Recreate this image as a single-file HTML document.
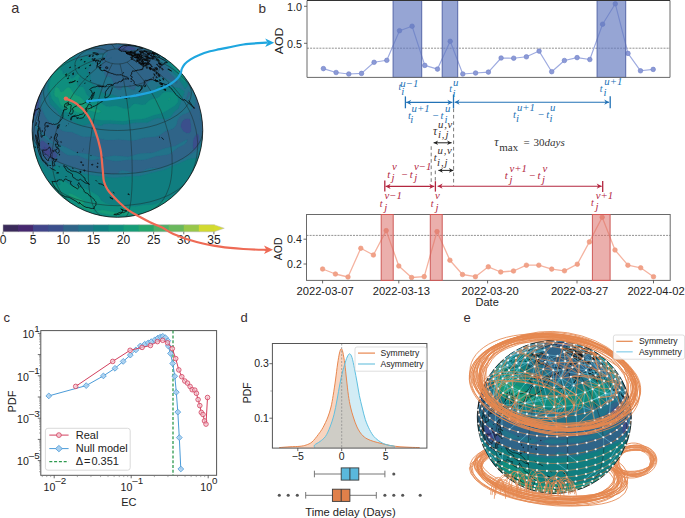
<!DOCTYPE html>
<html><head><meta charset="utf-8"><style>
html,body{margin:0;padding:0;background:#fff;width:685px;height:518px;overflow:hidden}
svg{position:absolute;left:0;top:0;display:block}

.sr{font-family:"Liberation Serif",serif;font-style:italic}
</style></head><body>
<svg width="685" height="518" viewBox="0 0 685 518">
<text x="258.5" y="13.2" font-size="13.5" fill="#3a2e2e" text-anchor="start" font-family="Liberation Sans, sans-serif" >b</text>
<line x1="307" y1="48.2" x2="670" y2="48.2" stroke="#555" stroke-width="0.65" stroke-dasharray="2,1.1"/>
<polyline points="323.4,68.6 336.1,72.5 348.8,74 361.5,73.4 374.1,62.3 386.8,60.3 399.5,30.7 412.1,26.2 424.8,65.4 437.5,69.1 450.2,41.3 462.8,74 475.6,73 488.4,72.1 501.1,58 513.7,58.2 526.4,56.8 539.1,51.1 551.7,71.7 564.4,60.5 577.1,57.6 589.8,59.5 602.6,24.2 615.3,3.8 628,53.4 640.5,70.8 653.2,69.4" fill="none" stroke="#9eabe0" stroke-width="1.15" stroke-linejoin="round"/>
<circle cx="323.4" cy="68.6" r="2.3" fill="#8c9ad6" stroke="#6f80c8" stroke-width="0.6"/>
<circle cx="336.1" cy="72.5" r="2.3" fill="#8c9ad6" stroke="#6f80c8" stroke-width="0.6"/>
<circle cx="348.8" cy="74" r="2.3" fill="#8c9ad6" stroke="#6f80c8" stroke-width="0.6"/>
<circle cx="361.5" cy="73.4" r="2.3" fill="#8c9ad6" stroke="#6f80c8" stroke-width="0.6"/>
<circle cx="374.1" cy="62.3" r="2.3" fill="#8c9ad6" stroke="#6f80c8" stroke-width="0.6"/>
<circle cx="386.8" cy="60.3" r="2.3" fill="#8c9ad6" stroke="#6f80c8" stroke-width="0.6"/>
<circle cx="399.5" cy="30.7" r="2.3" fill="#8c9ad6" stroke="#6f80c8" stroke-width="0.6"/>
<circle cx="412.1" cy="26.2" r="2.3" fill="#8c9ad6" stroke="#6f80c8" stroke-width="0.6"/>
<circle cx="424.8" cy="65.4" r="2.3" fill="#8c9ad6" stroke="#6f80c8" stroke-width="0.6"/>
<circle cx="437.5" cy="69.1" r="2.3" fill="#8c9ad6" stroke="#6f80c8" stroke-width="0.6"/>
<circle cx="450.2" cy="41.3" r="2.3" fill="#8c9ad6" stroke="#6f80c8" stroke-width="0.6"/>
<circle cx="462.8" cy="74" r="2.3" fill="#8c9ad6" stroke="#6f80c8" stroke-width="0.6"/>
<circle cx="475.6" cy="73" r="2.3" fill="#8c9ad6" stroke="#6f80c8" stroke-width="0.6"/>
<circle cx="488.4" cy="72.1" r="2.3" fill="#8c9ad6" stroke="#6f80c8" stroke-width="0.6"/>
<circle cx="501.1" cy="58" r="2.3" fill="#8c9ad6" stroke="#6f80c8" stroke-width="0.6"/>
<circle cx="513.7" cy="58.2" r="2.3" fill="#8c9ad6" stroke="#6f80c8" stroke-width="0.6"/>
<circle cx="526.4" cy="56.8" r="2.3" fill="#8c9ad6" stroke="#6f80c8" stroke-width="0.6"/>
<circle cx="539.1" cy="51.1" r="2.3" fill="#8c9ad6" stroke="#6f80c8" stroke-width="0.6"/>
<circle cx="551.7" cy="71.7" r="2.3" fill="#8c9ad6" stroke="#6f80c8" stroke-width="0.6"/>
<circle cx="564.4" cy="60.5" r="2.3" fill="#8c9ad6" stroke="#6f80c8" stroke-width="0.6"/>
<circle cx="577.1" cy="57.6" r="2.3" fill="#8c9ad6" stroke="#6f80c8" stroke-width="0.6"/>
<circle cx="589.8" cy="59.5" r="2.3" fill="#8c9ad6" stroke="#6f80c8" stroke-width="0.6"/>
<circle cx="602.6" cy="24.2" r="2.3" fill="#8c9ad6" stroke="#6f80c8" stroke-width="0.6"/>
<circle cx="615.3" cy="3.8" r="2.3" fill="#8c9ad6" stroke="#6f80c8" stroke-width="0.6"/>
<circle cx="628" cy="53.4" r="2.3" fill="#8c9ad6" stroke="#6f80c8" stroke-width="0.6"/>
<circle cx="640.5" cy="70.8" r="2.3" fill="#8c9ad6" stroke="#6f80c8" stroke-width="0.6"/>
<circle cx="653.2" cy="69.4" r="2.3" fill="#8c9ad6" stroke="#6f80c8" stroke-width="0.6"/>
<rect x="393.1" y="0.5" width="28.6" height="76.9" fill="rgb(97,120,190)" fill-opacity="0.667" stroke="#5566a8" stroke-width="1"/>
<rect x="442.2" y="0.5" width="15.5" height="76.9" fill="rgb(97,120,190)" fill-opacity="0.667" stroke="#5566a8" stroke-width="1"/>
<rect x="597.1" y="0.5" width="28.6" height="76.9" fill="rgb(97,120,190)" fill-opacity="0.667" stroke="#5566a8" stroke-width="1"/>
<path d="M307,77.4 V0.5 H670 V77.4 Z" fill="none" stroke="#6a6a6a" stroke-width="1"/>
<line x1="307" y1="0.5" x2="670" y2="0.5" stroke="#333" stroke-width="1.2"/>
<line x1="304" y1="6.3" x2="307" y2="6.3" stroke="#444" stroke-width="0.8"/>
<text x="302" y="10.7" font-size="10.8" fill="#222" text-anchor="end" font-family="Liberation Sans, sans-serif" >1.0</text>
<line x1="304" y1="43.3" x2="307" y2="43.3" stroke="#444" stroke-width="0.8"/>
<text x="302" y="47.7" font-size="10.8" fill="#222" text-anchor="end" font-family="Liberation Sans, sans-serif" >0.5</text>
<text transform="translate(283.1,40.85) rotate(-90)" font-size="10.3" fill="#222" text-anchor="middle" textLength="26.6" lengthAdjust="spacingAndGlyphs" font-family="Liberation Sans, sans-serif">AOD</text>
<line x1="306.5" y1="235.4" x2="670.2" y2="235.4" stroke="#555" stroke-width="0.65" stroke-dasharray="2,1.1"/>
<polyline points="322.6,269 335.4,274 348,277 360.8,248.3 373.4,255 386.2,230.6 398.8,266 411.6,277.5 424.2,276.6 437,231.6 449.9,260.2 462.5,274.5 475.4,276.7 488.3,266.8 500.7,272 513.5,271 526.4,265.2 538.8,265.2 551.7,269.1 564.5,270.8 577.3,264.2 589.4,241.9 602.2,217.2 615,250 627.9,265.2 640.7,267.8 653.5,276.7" fill="none" stroke="#f5b3a0" stroke-width="1.3" stroke-linejoin="round"/>
<circle cx="322.6" cy="269" r="2.3" fill="#f1a288" stroke="#ec957c" stroke-width="0.6"/>
<circle cx="335.4" cy="274" r="2.3" fill="#f1a288" stroke="#ec957c" stroke-width="0.6"/>
<circle cx="348" cy="277" r="2.3" fill="#f1a288" stroke="#ec957c" stroke-width="0.6"/>
<circle cx="360.8" cy="248.3" r="2.3" fill="#f1a288" stroke="#ec957c" stroke-width="0.6"/>
<circle cx="373.4" cy="255" r="2.3" fill="#f1a288" stroke="#ec957c" stroke-width="0.6"/>
<circle cx="386.2" cy="230.6" r="2.3" fill="#f1a288" stroke="#ec957c" stroke-width="0.6"/>
<circle cx="398.8" cy="266" r="2.3" fill="#f1a288" stroke="#ec957c" stroke-width="0.6"/>
<circle cx="411.6" cy="277.5" r="2.3" fill="#f1a288" stroke="#ec957c" stroke-width="0.6"/>
<circle cx="424.2" cy="276.6" r="2.3" fill="#f1a288" stroke="#ec957c" stroke-width="0.6"/>
<circle cx="437" cy="231.6" r="2.3" fill="#f1a288" stroke="#ec957c" stroke-width="0.6"/>
<circle cx="449.9" cy="260.2" r="2.3" fill="#f1a288" stroke="#ec957c" stroke-width="0.6"/>
<circle cx="462.5" cy="274.5" r="2.3" fill="#f1a288" stroke="#ec957c" stroke-width="0.6"/>
<circle cx="475.4" cy="276.7" r="2.3" fill="#f1a288" stroke="#ec957c" stroke-width="0.6"/>
<circle cx="488.3" cy="266.8" r="2.3" fill="#f1a288" stroke="#ec957c" stroke-width="0.6"/>
<circle cx="500.7" cy="272" r="2.3" fill="#f1a288" stroke="#ec957c" stroke-width="0.6"/>
<circle cx="513.5" cy="271" r="2.3" fill="#f1a288" stroke="#ec957c" stroke-width="0.6"/>
<circle cx="526.4" cy="265.2" r="2.3" fill="#f1a288" stroke="#ec957c" stroke-width="0.6"/>
<circle cx="538.8" cy="265.2" r="2.3" fill="#f1a288" stroke="#ec957c" stroke-width="0.6"/>
<circle cx="551.7" cy="269.1" r="2.3" fill="#f1a288" stroke="#ec957c" stroke-width="0.6"/>
<circle cx="564.5" cy="270.8" r="2.3" fill="#f1a288" stroke="#ec957c" stroke-width="0.6"/>
<circle cx="577.3" cy="264.2" r="2.3" fill="#f1a288" stroke="#ec957c" stroke-width="0.6"/>
<circle cx="589.4" cy="241.9" r="2.3" fill="#f1a288" stroke="#ec957c" stroke-width="0.6"/>
<circle cx="602.2" cy="217.2" r="2.3" fill="#f1a288" stroke="#ec957c" stroke-width="0.6"/>
<circle cx="615" cy="250" r="2.3" fill="#f1a288" stroke="#ec957c" stroke-width="0.6"/>
<circle cx="627.9" cy="265.2" r="2.3" fill="#f1a288" stroke="#ec957c" stroke-width="0.6"/>
<circle cx="640.7" cy="267.8" r="2.3" fill="#f1a288" stroke="#ec957c" stroke-width="0.6"/>
<circle cx="653.5" cy="276.7" r="2.3" fill="#f1a288" stroke="#ec957c" stroke-width="0.6"/>
<rect x="306.5" y="214.5" width="363.7" height="65.9" fill="none" stroke="#6a6a6a" stroke-width="1"/>
<rect x="381.2" y="214.5" width="12" height="65.9" fill="rgb(219,110,104)" fill-opacity="0.55" stroke="#cf5a58" stroke-width="1"/>
<rect x="430.3" y="214.5" width="11.9" height="65.9" fill="rgb(219,110,104)" fill-opacity="0.55" stroke="#cf5a58" stroke-width="1"/>
<rect x="592.4" y="214.5" width="17.7" height="65.9" fill="rgb(219,110,104)" fill-opacity="0.55" stroke="#cf5a58" stroke-width="1"/>
<line x1="303.5" y1="239.2" x2="306.5" y2="239.2" stroke="#444" stroke-width="0.8"/>
<text x="301.8" y="242.9" font-size="10.6" fill="#222" text-anchor="end" font-family="Liberation Sans, sans-serif" >0.4</text>
<line x1="303.5" y1="264" x2="306.5" y2="264" stroke="#444" stroke-width="0.8"/>
<text x="301.8" y="267.7" font-size="10.6" fill="#222" text-anchor="end" font-family="Liberation Sans, sans-serif" >0.2</text>
<text transform="translate(282.4,248.85) rotate(-90)" font-size="11.3" fill="#222" text-anchor="middle" textLength="22.6" lengthAdjust="spacingAndGlyphs" font-family="Liberation Sans, sans-serif">AOD</text>
<line x1="322.6" y1="280.4" x2="322.6" y2="283.4" stroke="#444" stroke-width="0.8"/>
<text x="325.1" y="295.2" font-size="11.2" fill="#222" text-anchor="middle" font-family="Liberation Sans, sans-serif" >2022-03-07</text>
<line x1="398.8" y1="280.4" x2="398.8" y2="283.4" stroke="#444" stroke-width="0.8"/>
<text x="401.3" y="295.2" font-size="11.2" fill="#222" text-anchor="middle" font-family="Liberation Sans, sans-serif" >2022-03-13</text>
<line x1="487.6" y1="280.4" x2="487.6" y2="283.4" stroke="#444" stroke-width="0.8"/>
<text x="490.1" y="295.2" font-size="11.2" fill="#222" text-anchor="middle" font-family="Liberation Sans, sans-serif" >2022-03-20</text>
<line x1="577" y1="280.4" x2="577" y2="283.4" stroke="#444" stroke-width="0.8"/>
<text x="579.5" y="295.2" font-size="11.2" fill="#222" text-anchor="middle" font-family="Liberation Sans, sans-serif" >2022-03-27</text>
<line x1="653.5" y1="280.4" x2="653.5" y2="283.4" stroke="#444" stroke-width="0.8"/>
<text x="656" y="295.2" font-size="11.2" fill="#222" text-anchor="middle" font-family="Liberation Sans, sans-serif" >2022-04-02</text>
<text x="487.2" y="305.8" font-size="11" fill="#222" text-anchor="middle" font-family="Liberation Sans, sans-serif" >Date</text>
<line x1="453.6" y1="108.5" x2="453.6" y2="186" stroke="#555" stroke-width="0.8" stroke-dasharray="3.6,2.8"/>
<line x1="431.2" y1="146.3" x2="431.2" y2="184" stroke="#555" stroke-width="0.8" stroke-dasharray="3.6,2.8"/>
<line x1="435.3" y1="170.6" x2="435.3" y2="181" stroke="#555" stroke-width="0.8" stroke-dasharray="3.6,2.8"/>
<line x1="406.2" y1="102.4" x2="452.4" y2="102.4" stroke="#2272b6" stroke-width="1.1"/>
<path d="M406.2,102.4 L411.2,99.8 L409.7,102.4 L411.2,105 Z" fill="#2272b6"/>
<path d="M452.4,102.4 L447.4,99.8 L448.9,102.4 L447.4,105 Z" fill="#2272b6"/>
<line x1="454.6" y1="102.2" x2="609.2" y2="102.2" stroke="#2272b6" stroke-width="1.1"/>
<path d="M454.6,102.2 L459.6,99.6 L458.1,102.2 L459.6,104.8 Z" fill="#2272b6"/>
<path d="M609.2,102.2 L604.2,99.6 L605.7,102.2 L604.2,104.8 Z" fill="#2272b6"/>
<line x1="405.4" y1="96.4" x2="405.4" y2="108.3" stroke="#2272b6" stroke-width="1.3"/>
<line x1="453.5" y1="94.5" x2="453.5" y2="108.3" stroke="#2272b6" stroke-width="1.3"/>
<line x1="610.2" y1="96.2" x2="610.2" y2="108.2" stroke="#2272b6" stroke-width="1.3"/>
<line x1="385.6" y1="186.4" x2="434.3" y2="186.4" stroke="#b3263f" stroke-width="1.1"/>
<path d="M385.6,186.4 L390.6,183.8 L389.1,186.4 L390.6,189 Z" fill="#b3263f"/>
<path d="M434.3,186.4 L429.3,183.8 L430.8,186.4 L429.3,189 Z" fill="#b3263f"/>
<line x1="437.6" y1="186.2" x2="601.7" y2="186.2" stroke="#b3263f" stroke-width="1.1"/>
<path d="M437.6,186.2 L442.6,183.6 L441.1,186.2 L442.6,188.8 Z" fill="#b3263f"/>
<path d="M601.7,186.2 L596.7,183.6 L598.2,186.2 L596.7,188.8 Z" fill="#b3263f"/>
<line x1="384.8" y1="180.5" x2="384.8" y2="191.6" stroke="#b3263f" stroke-width="1.3"/>
<line x1="435.4" y1="181.2" x2="435.4" y2="191.6" stroke="#b3263f" stroke-width="1.3"/>
<line x1="602.7" y1="181" x2="602.7" y2="192" stroke="#b3263f" stroke-width="1.3"/>
<line x1="433.6" y1="142.8" x2="451.6" y2="142.8" stroke="#222" stroke-width="1.0"/>
<path d="M433.6,142.8 L438.1,140.5 L436.75,142.8 L438.1,145.1 Z" fill="#222"/>
<path d="M451.6,142.8 L447.1,140.5 L448.45,142.8 L447.1,145.1 Z" fill="#222"/>
<line x1="438.4" y1="170.4" x2="453.4" y2="170.4" stroke="#222" stroke-width="1.0"/>
<path d="M438.4,170.4 L442.9,168.1 L441.55,170.4 L442.9,172.7 Z" fill="#222"/>
<path d="M453.4,170.4 L448.9,168.1 L450.25,170.4 L448.9,172.7 Z" fill="#222"/>
<text x="398.6" y="89.8" font-size="10" fill="#2272b6" text-anchor="start" font-family="Liberation Serif, serif" font-style="italic">t</text>
<text x="400.3" y="86.7" font-size="10.8" fill="#2272b6" text-anchor="start" font-family="Liberation Serif, serif" font-style="italic">u−1</text>
<text x="401.3" y="94.9" font-size="10.8" fill="#2272b6" text-anchor="start" font-family="Liberation Serif, serif" font-style="italic">i</text>
<text x="449.2" y="91.8" font-size="10" fill="#2272b6" text-anchor="start" font-family="Liberation Serif, serif" font-style="italic">t</text>
<text x="452.9" y="85.7" font-size="10.8" fill="#2272b6" text-anchor="start" font-family="Liberation Serif, serif" font-style="italic">u</text>
<text x="452.4" y="96.9" font-size="10.8" fill="#2272b6" text-anchor="start" font-family="Liberation Serif, serif" font-style="italic">i</text>
<text x="599.7" y="92.4" font-size="10" fill="#2272b6" text-anchor="start" font-family="Liberation Serif, serif" font-style="italic">t</text>
<text x="604.3" y="85" font-size="10.8" fill="#2272b6" text-anchor="start" font-family="Liberation Serif, serif" font-style="italic">u+1</text>
<text x="603.4" y="96.4" font-size="10.8" fill="#2272b6" text-anchor="start" font-family="Liberation Serif, serif" font-style="italic">i</text>
<text x="411.5" y="111.8" font-size="10.8" fill="#2272b6" text-anchor="start" font-family="Liberation Serif, serif" font-style="italic">u+1</text>
<text x="407.9" y="119.4" font-size="10.8" fill="#2272b6" text-anchor="start" font-family="Liberation Serif, serif" font-style="italic">t</text>
<text x="410.3" y="123.3" font-size="10.8" fill="#2272b6" text-anchor="start" font-family="Liberation Serif, serif" font-style="italic">i</text>
<text x="432" y="119.4" font-size="10.8" fill="#2272b6" text-anchor="start" font-family="Liberation Serif, serif" font-style="italic">−</text>
<text x="440.4" y="119.4" font-size="10.8" fill="#2272b6" text-anchor="start" font-family="Liberation Serif, serif" font-style="italic">t</text>
<text x="444.9" y="111.8" font-size="10.8" fill="#2272b6" text-anchor="start" font-family="Liberation Serif, serif" font-style="italic">u</text>
<text x="444.5" y="123.3" font-size="10.8" fill="#2272b6" text-anchor="start" font-family="Liberation Serif, serif" font-style="italic">i</text>
<text x="516.9" y="111" font-size="10.8" fill="#2272b6" text-anchor="start" font-family="Liberation Serif, serif" font-style="italic">u+1</text>
<text x="512.9" y="118.3" font-size="10.8" fill="#2272b6" text-anchor="start" font-family="Liberation Serif, serif" font-style="italic">t</text>
<text x="516.1" y="122.2" font-size="10.8" fill="#2272b6" text-anchor="start" font-family="Liberation Serif, serif" font-style="italic">i</text>
<text x="537.4" y="118.3" font-size="10.8" fill="#2272b6" text-anchor="start" font-family="Liberation Serif, serif" font-style="italic">−</text>
<text x="546.2" y="118.3" font-size="10.8" fill="#2272b6" text-anchor="start" font-family="Liberation Serif, serif" font-style="italic">t</text>
<text x="549.9" y="111" font-size="10.8" fill="#2272b6" text-anchor="start" font-family="Liberation Serif, serif" font-style="italic">u</text>
<text x="549.5" y="122.2" font-size="10.8" fill="#2272b6" text-anchor="start" font-family="Liberation Serif, serif" font-style="italic">i</text>
<text x="438.1" y="128.2" font-size="10.8" fill="#3a3030" text-anchor="start" font-family="Liberation Serif, serif" font-style="italic" letter-spacing="0.7">u,v</text>
<text x="433" y="135.3" font-size="11.5" fill="#3a3030" text-anchor="start" font-family="Liberation Serif, serif" font-style="italic">τ</text>
<text x="437.9" y="138.2" font-size="10.8" fill="#3a3030" text-anchor="start" font-family="Liberation Serif, serif" font-style="italic" letter-spacing="0.9">i,j</text>
<text x="437.6" y="154" font-size="10.8" fill="#3a3030" text-anchor="start" font-family="Liberation Serif, serif" font-style="italic" letter-spacing="0.7">u,v</text>
<text x="433.8" y="161.4" font-size="10.5" fill="#3a3030" text-anchor="start" font-family="Liberation Serif, serif" font-style="italic">t</text>
<text x="437" y="165.6" font-size="10.8" fill="#3a3030" text-anchor="start" font-family="Liberation Serif, serif" font-style="italic" letter-spacing="0.9">i,j</text>
<text x="494.3" y="146.3" font-size="12" fill="#333" text-anchor="start" font-family="Liberation Serif, serif" font-style="italic">τ</text>
<text x="499.3" y="150.5" font-size="11" fill="#333" font-family="Liberation Serif, serif">max</text>
<text x="523.6" y="146.3" font-size="11" fill="#333" font-family="Liberation Serif, serif">=</text>
<text x="533.6" y="146.3" font-size="11" fill="#333" font-family="Liberation Serif, serif">30<tspan font-style="italic">days</tspan></text>
<text x="387.3" y="178.2" font-size="10.8" fill="#b3263f" text-anchor="start" font-family="Liberation Serif, serif" font-style="italic">t</text>
<text x="392.1" y="169.6" font-size="10.8" fill="#b3263f" text-anchor="start" font-family="Liberation Serif, serif" font-style="italic">v</text>
<text x="391.6" y="181" font-size="10.8" fill="#b3263f" text-anchor="start" font-family="Liberation Serif, serif" font-style="italic">j</text>
<text x="400.9" y="178.2" font-size="10.8" fill="#b3263f" text-anchor="start" font-family="Liberation Serif, serif" font-style="italic">−</text>
<text x="409.8" y="178.2" font-size="10.8" fill="#b3263f" text-anchor="start" font-family="Liberation Serif, serif" font-style="italic">t</text>
<text x="414" y="169.6" font-size="10.8" fill="#b3263f" text-anchor="start" font-family="Liberation Serif, serif" font-style="italic">v−1</text>
<text x="414.2" y="181" font-size="10.8" fill="#b3263f" text-anchor="start" font-family="Liberation Serif, serif" font-style="italic">j</text>
<text x="504.8" y="178.6" font-size="10.8" fill="#b3263f" text-anchor="start" font-family="Liberation Serif, serif" font-style="italic">t</text>
<text x="509.5" y="171.8" font-size="10.8" fill="#b3263f" text-anchor="start" font-family="Liberation Serif, serif" font-style="italic">v+1</text>
<text x="509.6" y="183.4" font-size="10.8" fill="#b3263f" text-anchor="start" font-family="Liberation Serif, serif" font-style="italic">j</text>
<text x="528.8" y="178.6" font-size="10.8" fill="#b3263f" text-anchor="start" font-family="Liberation Serif, serif" font-style="italic">−</text>
<text x="537.6" y="178.6" font-size="10.8" fill="#b3263f" text-anchor="start" font-family="Liberation Serif, serif" font-style="italic">t</text>
<text x="542.4" y="171.8" font-size="10.8" fill="#b3263f" text-anchor="start" font-family="Liberation Serif, serif" font-style="italic">v</text>
<text x="541.9" y="183.4" font-size="10.8" fill="#b3263f" text-anchor="start" font-family="Liberation Serif, serif" font-style="italic">j</text>
<text x="384.4" y="199.2" font-size="10.8" fill="#b3263f" text-anchor="start" font-family="Liberation Serif, serif" font-style="italic">v−1</text>
<text x="379.7" y="206.9" font-size="10" fill="#b3263f" text-anchor="start" font-family="Liberation Serif, serif" font-style="italic">t</text>
<text x="384.3" y="210.8" font-size="10.8" fill="#b3263f" text-anchor="start" font-family="Liberation Serif, serif" font-style="italic">j</text>
<text x="435" y="199.2" font-size="10.8" fill="#b3263f" text-anchor="start" font-family="Liberation Serif, serif" font-style="italic">v</text>
<text x="430.8" y="206.9" font-size="10" fill="#b3263f" text-anchor="start" font-family="Liberation Serif, serif" font-style="italic">t</text>
<text x="435.4" y="210.8" font-size="10.8" fill="#b3263f" text-anchor="start" font-family="Liberation Serif, serif" font-style="italic">j</text>
<text x="595.8" y="199.1" font-size="10.8" fill="#b3263f" text-anchor="start" font-family="Liberation Serif, serif" font-style="italic">v+1</text>
<text x="591.1" y="206.4" font-size="10" fill="#b3263f" text-anchor="start" font-family="Liberation Serif, serif" font-style="italic">t</text>
<text x="595.5" y="210.4" font-size="10.8" fill="#b3263f" text-anchor="start" font-family="Liberation Serif, serif" font-style="italic">j</text>
<text x="11.3" y="13.2" font-size="14.5" fill="#3a2e2e" text-anchor="start" font-family="Liberation Sans, sans-serif" >a</text>
<defs><clipPath id="ga"><ellipse cx="117.45" cy="130.5" rx="85.3" ry="86.8"/></clipPath></defs>
<g clip-path="url(#ga)">
<ellipse cx="117.45" cy="130.5" rx="85.3" ry="86.8" fill="#22738a"/>
<path d="M124.8,47.6l1.4,.1-1.2,.9-.6,0 .4-1zM44.8,146.8l2.9,1.7 2.4,3.3-.2,2-1.2,1.5-1,.1-1.3-.6-1.6-1.5-.8-1.5-.3-3.9 .1-.7 1-.4z" fill="#41458a" fill-rule="evenodd" stroke="#41458a" stroke-width="0.3"/>
<path d="M123.8,45.5l4.5,.2 6.6,2 1.1,.9-1.5,1.3-12.7,1.6-.9-1.1-2-.9-.7-.9-.3-.9 .3-1 5.6-1.2zM124.7,47.7l-.3,.9 .4,.1 1.4-1-1.5,0zM38.9,98.1l.5,2.1-.7,7-3.7,10.2-1-1.3 .7-6.9 .6-1 .1-2 3.5-8.1zM185.2,118.9l2-.5 1.9,.1 .8,.6 .6,2 .6,3.9 .1,6-1.1,1.5-1.9,1-3-.8-1.9-1.2-2.7-4.5 .1-2 1-2.9 1.6-2.1 1.9-1.1zM33.1,119.2l0,5.8-.4-2.9 .4-2.9zM197.9,133.8l1,1.4 .5,1.7 .2,4-.6,3-2.1,3.6-1.9,1.8-1.2,.5-.8-.9-.5-3 .8-7 1.7-3 1.9-1.8 1-.3zM40.9,140.5l1-.3 1.9,.9 8.5,6.8 4.3,5.9 .9,2-.4,1-3.1,2-1.4,.2-4.9-.9-2.9-1.9-2.6-3.4-1.9-3.9-.5-6 1.1-2.4zM44.4,146.9l-.6,.3-.2,1.7 .2,2.2 .7,1.7 2.2,2.3 2,.2 1-1.1 .4-1.4-.5-2-2.9-3.1-2.3-.8z" fill="#3b4f8c" fill-rule="evenodd" stroke="#3b4f8c" stroke-width="0.3"/>
<path d="M62.3,41.7l9.2,0-4.3,.3-5.1-.3 .2,0zM88.7,41.7l5.2,0-3.3,.6-2.5-.6 .6,0zM104.3,41.7l8.6,0-.9,1-2.2,1 1.3,.2 4.9,.3 11.7-.3 5.2,1.8 5.5,.6 1,.7 2.5,.7 .4,.8 3.9,1.2 4.3,1.9 1.6,2 4.5,4-.1,1-.7,1 .5,1 9.4,6.1 4.7,6.7 5.7,6 1.2,2 .1,1-.9,.8-1,0-9.8-4.8-5.8-1.2-1,.2-2.9,2.4-6.7,1.6-2.2,3-1.5,1-1.3,.1-4.9-.5-2.1,.4-1.1,.9-1,3-.7,.7-1,.2-1.9-.5-5.9-3.4-1.9-.5-1,.5-1.9,3.5-2,.4-1.9-.9-2.1-2-2-2.9-.2-3-1.6-3.3-1-1-.9-.4-3,.5-.9-.8-1.2-3-.6-4.9-2.1-.2-.8-.8 .4-2 1.8-3-.5-.7-1.4-.3 .4-.9 2.8-2-.8-1 .6-1 2.5-1-2.4-1 3.7-1-3.4-.4-6.8,0-2.3-.6 2.3-1 1-1-1-.2-8.8,.9-1-.2-.1-.5 5.5-2 3.7-1.9 5.7-1 2.8-1 1.4,0-1.4-.1-1.2-1.9 .2-1zM123.2,45.7l-4.3,.7-1,.6 0,1.1 1,1.4 2,.9 .9,1.1 12.7-1.6 1.5-1.3-1.1-.9-6.6-2-2.6-.3-2.5,.3zM115,55.6zM104.7,57.6l.8,0-.8,0zM110.8,57.6l.4,0-.4,0zM108.5,58.6l.9,0-.9,0zM106.9,59.6l.5,0-.5,0zM110,60.6zM103.2,61.5zM108.8,61.5l.4,.5 .3-.5-.3-.2-.4,.2zM108,62.5l.2,.4 .3-.4-.5,0zM116,41.7l2.8,0-.9,.3-.9,1.3-1.2-.6-.4-1 .6,0zM125.7,41.7l6.5,0-3.5,1.1-2-.3-1.6-.8 .6,0zM140.4,41.7l64.4,0 0,1.1-13.7-.5-25.4,1.9-4.4-.5-4.3-1.4-2-.2-11.7,2.4-2-.3-.6-.5-.6-1 .3-1zM105.3,83.1l.3,.3-.6,0 .3-.3zM31.1,89.2l10.8,0 .3,1.1-.4,1 1-.1 .3,1.1-2.2,10.9 0,2 1,3.7 3.2,7.2 1.6,2.7 2,2.1 5.8,3.3 4.9,4.4 2.9,1.9 3,.9 6.8,.6 7.8,3.6 2.9,.9 10.8,.1 9.7,2.7 3.9,.6 11.7-.6 11.7,1.1 4.9-.5 8.8-2.3 11.7-1 3.8-1.6 5.7-4 6.1-1.9 1.9-.9 2.6-3.2 1.4-4.9 1.9-3.1 2.9-2.3 6.6-2.6 2.2-3.1 1.9-1.7 1.7-2.1 .7-3-.4-6.9-.4-1 .2-2 9.9-.3 .1,16.9-4,.1-.5,3.1 .2,8 .3,.8 1-6.1 3,0 0,16.3-2,0-1,6.7-3.2,10.1-2.2,2.9-2.4,1.7-10.7,6.5-10.7,4-2.9,1.7-4.9,2.2-6.9,1.6-5.8-.2-3.8,.4-2.8,1-3.3,2-3.4,1-7.1,0-6-1.8-3.9-.3-2.7,1.1-.5,2-5.5,.7-4.9-.1-12.7-2-5.8-.2-5.9-1-4.8-1.4-8.9-3.5-16.5-4.6-3-.2-1.9,1.6-1,.2-1-.2-1.9-1.5-2.1-2.7-2.8-7-5.8-10.9-1.1-3-.9-4.9-1.9,0 0-43.8 .9,0zM38.9,98.3l-3.5,7.9-.1,2-.6,1-.7,6.9 1,1.3 3.7-10.2 .7-7-.5-1.9zM184.7,119.1l-1.4,.9-1.6,2.1-1,2.9-.1,2 2.7,4.5 2.9,1.5 2,.5 .9-.3 1.6-1.2 .5-1-.2-6.9-.7-4-.4-1-.8-.6-1.9-.1-2.5,.7zM32.9,120.1l-.2,2 .4,2.9 0-5.8-.2,.9zM35.8,125l.3,3 .9,2.2 1,1.3 9.1,8.4 4.7,3 .8,.4 .6-.4-2.4-2-4.1-4.3-4.8-3.6-2-2.6-2.9-5.5-1-.5-.2,.6zM197.6,134l-.7,.1-1.9,1.8-1.7,3-.8,7 .5,3 .8,.9 1.2-.5 1.9-1.8 2-3.4 .6-2.2-.3-5.9-1.1-2-.5,0zM186.2,139.9l-10.7,6-10.7,2.7-10.8,4.1-3.9,.6-10.7,.5-8.8,2.6-2.9,.5-13.7-1.1-10.3,2 .6,.1 .6,.9 8.2,1.9 3.9,.4 11.7-1.7 12.6,.4 4.9-.6 9.8-3.1 11.7-1.7 2.9-1.1 6.8-5.5 7.4-3.9 1.4-1.6 1.1-2.4-1.1,0zM40.6,140.9l-.8,2 .5,6 1.9,3.9 2.6,3.4 2.9,1.9 4.9,.9 1.4-.2 3.1-2 .4-1-1.4-3-2.1-3-2.8-2.9-7.4-5.8-1.9-.9-1.3,.7zM53.3,143.9l1.2,.6 9.8,8.4 1.9,1.3 3,1.1 8.7,0 8.8,3.6 3.9,1.1 3-.2 3.9-1.1 5.6-.9-4.7-.6-9.7-2.9-10.8-1.2-3.9-1.5-10.7-5.4-9.7-2.9-.3,.6zM188.2,90.9l1.7,1.4 .6,1 0,1-2.1,3-1.2,2.8-1.2-.9 .1-1.9 .7-1 1.4-5.4z" fill="#2f6488" fill-rule="evenodd" stroke="#2f6488" stroke-width="0.3"/>
<path d="M31.1,41.7l31,0 5.1,.3 4.3-.3 16.6,0 2.5,.6 3.3-.6 10.3,0-.1,1 1.2,1.9 1.4,.1-1.4,0-2.8,1-5.7,1-3.7,1.9-5.5,2 .1,.5 1,.2 8.8-.9 1,.2-1,1-2.3,1 2.3,.6 6.8,0 3.4,.4-3.7,1 2.4,1-2.5,1-.6,1 .8,1-2.8,2-.4,.9 1.4,.3 .5,.7-1.8,3-.4,2 .8,.8 2.1,.2 .6,4.9 1.2,3 .9,.8 3-.5 .9,.4 2,2.7 .8,2.6 0,2 2,2.9 2.1,2 2.9,.9 1.5-.9 1.4-3 1-.5 1.9,.5 5.9,3.4 1.9,.5 1-.2 .7-.7 1-3 1.1-.9 2.1-.4 4.9,.5 1.3-.1 1.5-1 2.2-3 6.7-1.6 2.9-2.4 1-.2 5.8,1.2 9.8,4.8 1,0 .9-.8-.1-1-1.2-2-6.5-6.9-3.9-5.8-9.4-6.1-.5-1 .7-1 .1-1-4.5-4-1.6-2-4.3-1.9-3.9-1.2-.4-.8-2.5-.7-1-.7-5.5-.6-5.2-1.8-11.7,.3-6.2-.5 2.2-1 .9-1 2.5,0 .4,1 1.2,.6 .9-1.3 .9-.3 6.3,0 1.6,.8 2,.3 3.5-1.1 8,0-.1,1 .6,1 .6,.5 2,.3 11.7-2.4 2,.2 4.3,1.4 4.4,.5 25.4-1.9 13.7,.5 0,9.3-15.7,0-13.6-2.4-17.6,1.6-1.9-.3-4.9-1.5-1.9-.3-.2,.4 1.1,.1 1,1.1 1,0 1,1 .9,0 2,1.2 8.9,6.6 .9,1 1.3,2.9 3.8,5 2.2,4 5.3,5.9 6.8,10.3 2-2.8 .5-1.5-.8-3-2.7-5 .1-1 20.5-1-.1,17.6-9.7,.2-.4,2.1 .4,1 .4,4.9-.3,4-1.1,2-2.9,2.8-1.2,2.2-1.7,1.3-5.9,2.2-2.9,2.3-1.9,3.1-1.4,4.9-2.6,3.2-1.9,.9-6.1,1.9-5.7,4-3.8,1.6-11.7,1-8.7,2.3-3,.5-3.9-.1-9.8-1-11.7,.6-3.9-.6-9.7-2.7-10.8-.1-2.9-.9-7.8-3.6-7.8-.8-2.9-1.2-6.9-5.8-5.8-3.3-2.9-3.6-3.9-8.4-1-3.9 .2-2.8 1.9-8.9-.1-2-1.1,0 .4-1-.3-1.1-11.7,0 0-12.9 20.4-1.8 .1,1.9-1.5,2-1.1,3-.6,7.9 2.4,12.9 .7,2.2 1,1.2 3.9,3.1 4.7,6.4 2.1,2 2,1 6.8,2 6.8,4 3.9,1.4 3.9-.4 4-1.9 1.9-.5 2.1,.4 4.7,2 2,.4 1.9-.6 1.2-.8 4.7-.6 4.9,0 10.7,.9 11.7-1.8 10.7,0 2.1-.5 3.2-2 5.5-2 2.9-.1 5.8,.8 3-.6 1.9-1.3 3.3-4.8 4.4-3.9 5.4-13.9 .6-3.1-4.9-3-4.9-.6-5.8-1.4-6.9-.2-2.9,.3-1.9,1-1.7,4-.8,1-1.4,.9-6.9,1.3-4.9,2.3-1.9,.6-9.8-.7-7.8,1.2-2.9-.6-6.8-2.5-6.8-.5-3.3-2-4.5-5.4-4.9-2.7-1.7-2.8-.6-2-.3-5-2.3-1.7-.3-1.2 .7-2 1.1-2 3.7-4-.3-.6-2.9,.4-.8-.8 3.1-2.9-.4-.5-4-.5-.2-1 .6-1-1.3-.3-1.9,.3-7.8,3.5-3,.1-.9-.6 2.1-2-.2-.4-1-.2-.1-.4 1.1-1.1 1-.1 1-1.1 .9-.2 3-2.2 .9,0 .3-.3-.3-.9-4.8-.3-11.7,1.3-6-.1-6.6-1-7.6-2-1.7-.9-2.5-.6-4.7-.4-6,0 0-5 .9,0zM75.9,56.6zM105,83.4l.6,0-.6,0zM188.1,91.3l-2.1,7 .2,1.4 1,.4 1.2-2.8 2.1-3 0-1-.6-1-1.7-1.4-.1,.4zM115,55.6zM105.3,57.5l.2,.1-.8,0 .6-.1zM111.1,57.4l0,.3-.3-.1 .3-.2zM109.2,58.4l.2,.2-.2,.2-.7-.2 .7-.2zM107.2,59.5l.2,.1-.5,0 .3-.1zM110.1,60.5zM103.3,61.5zM109.2,61.3l.3,.2-.3,.5-.4-.5 .4-.2zM108.2,62.3l.3,.2-.3,.4 0-.6zM51.6,74.4l-.6,0 .6,0zM200.8,109l4-.1 0,5.9-3,0-1,6.1-.3-.8-.2-8 .5-3.1zM36,124.4l1,.5 2.9,5.5 2,2.6 4.8,3.6 4.1,4.3 2.4,2-.6,.4-.8-.4-4.7-3-9.1-8.4-1-1.3-1-2.4-.4-1.8 .4-1.6zM202.8,131.1l2,0 0,6.3-2,0-.3,2.5-.7,1.2-2.9,12.1-1,3.2-1,1.7-5.8,.7-3.9,1-22.4,10-13.7,3.1-10.7,3.2-14.7,.6-10.7,1.3-25.3-3-4.9-.9-26.4-8.6-1.9-.2-2.9,3.4-1.9,1-1.1,.1-1.9-.5-4.2-3.6-5.4-6.9-3.1-7-3.9-13.5-1.9,.1 0-5.4 1.9,0 .9,4.9 1.1,3 5.8,10.9 2,5.4 1.9,3.2 2.9,2.6 2,0 1.9-1.6 3,.2 16.5,4.6 8.9,3.5 5.8,1.7 4.9,.7 5.8,.2 11.7,1.9 5.9,.2 5.5-.7 .5-2 2.7-1.1 3.9,.3 6,1.8 5.7,.2 4.8-1.2 3.3-2 2.8-1 3.8-.4 5.8,.2 3.9-.7 5.8-2.1 5-2.7 9.7-3.5 11.7-7 3.3-2.7 1.3-1.9 2.2-6.4 1.2-4.6 .8-5.8zM186.2,139.9l1.1,0-1.1,2.4-1.4,1.6-7.4,3.9-6.8,5.5-2.9,1.1-11.7,1.7-9.8,3.1-4.9,.6-12.6-.4-11.7,1.7-3.9-.4-8.2-1.9-.6-.9-.6-.1 10.3-2 13.7,1.1 2.9-.5 8.8-2.6 10.7-.5 3.9-.6 10.8-4.1 10.7-2.7 10.7-6zM53.6,143.3l10.7,3.3 9.7,5 3.9,1.5 10.8,1.2 9.7,2.9 4.7,.6-5.6,.9-3.9,1.1-3,.2-3.9-1.1-8.8-3.6-8.7,0-3-1.1-3.4-2.4-8.3-7.3-1.2-.6 .3-.6z" fill="#22738a" fill-rule="evenodd" stroke="#22738a" stroke-width="0.3"/>
<path d="M32.1,46.7l8.8,.4 2.5,.6 1.7,.9 7.6,2 6.6,1 6,.1 11.7-1.3 4.8,.3 .3,.9-.3,.3-.9,0-3,2.2-.9,.2-1,1.1-1,.1-1.1,1.1 .1,.4 1,.2 .2,.4-2.1,2 .9,.6 3-.1 7.8-3.5 1.9-.3 1.3,.3-.6,1 .2,1 4,.5 .4,.5-3.1,2.9 .8,.8 2.9-.4 .3,.6-3.7,4-1.1,2-.7,2 .3,1.2 2.3,1.7 .3,5 .6,2 1.7,2.8 4.9,2.7 4.5,5.4 3.3,2 6.8,.5 6.8,2.5 2.9,.6 7.8-1.2 9.8,.7 1.9-.6 4.9-2.3 5.9-1 1.9-.8 1.3-1.4 1.6-4 1-.7 2-.5 4.9-.2 3.9,.3 5.8,1.4 4.9,.6 4.9,3-.6,3.1-5.4,13.9-4.4,3.9-3.3,4.8-2.9,1.6-2.9,.2-6.9-.8-4.1,1.2-6.6,3.3-11.7,.2-11.7,1.8-14.6-1-5.7,.7-1.2,.8-1.9,.6-2-.4-4.7-2-2.1-.4-1.9,.5-4.9,2.1-3.9,0-3-1.2-6.8-4-6.8-2-2-1-2.1-2-4.7-6.4-3.9-3.1-1-1.2-.7-2.2-2.4-12.9 .6-7.9 1.1-3 1.5-2-.1-1.9-20.4,1.8 0-5.1 24.3-.6 .4,.9-3.4,4.9-2.1,9 .3,4.9 1.3,6 1.2,2.9 1.4,2 6.6,7 3.1,2.6 13.7,5.7 3.9,1.1 8.8,.6 10.7,2 9.7,0 10.8,.9 22.4-2.2 2.9-.8 7.8-3.2 8.8-2 10.7-6.4 2.9-2.3 1.3-2 .5-2-.8-2.9-1.9-4.2-5.9-1-3.9-.1-2.9,.9-2.9,3.4-2,1.4-6.1,1.5-2.3,1-4.3,4.2-2.9,.5-5.8-1-3,.2-.9,.6-3,3.3-1.9,.8-3.9-.4-7.8-2.7-6.8,1-3-.5-2.9-1.6-6.8-5-4.9-1.2-2.4-1.1-2.6-3-2.8-6.3-1-.9-2.9-.2-2-1-.7-1.5-.1-2 2.2-5 .6-2 0-1.3-1-.6-1,.4-3.9,3.5-1.9,1.1-1-.3-.7-.8-.3-4-.9-.7-2-.1-3.9,1.1-1-.2 .5-2-.5-.9-1.9-.6 .4-1.5 5.5-7 3.8-3.7 1-.1 1-1.3-6.8,1.1-4.9,.3-18.5-1.4-11.7-.2 0-9.5 1.9,0zM51,74.4l.6,0-.6,0zM149.2,49.2l8.7,2.1 17.6-1.6 13.6,2.4 15.7,0 0,4.8-23.5,1.4-14.6-1.1-2.9,0-.1,.4 1.1,.1 5,4.8 2.8,4.2 5.2,5.8 2.6,4.9 4.8,5.3 0-2.3-1.8-4-2.5-3.9 .4-.9 23.5-.6 0,3.4-20.5,1-.1,1 2.7,5 .8,3-.5,1.5-2,2.8-6.8-10.3-5.3-5.9-2.2-4-3.8-5-1.3-2.9-.9-1-8.9-6.6-2-1.2-.9,0-1-1-1,0-1-1.1-1.1-.1 .2-.4zM76,56.6zM202.8,137.4l2,0 0,56.6-11.8-1-14.6-2-4.9,4.6-3.9,2.6-5.8,2.1-7.8,3.7-2.9,.7-8.8,.3-7.8,1.5-4.9,.2-13.7-1.8-7.8-.3-4.2-1.2-4.8-3-2.4-3.9-1-1-8.3-5-7.6-3.3-7.8-1.1-2.9-.9-7.9-4.6-2.8-1.1-.7,.1-.3,.7 .8,3.3 0,1-.8,.6-2.9-.8-4.9-3.4-1-.6-.3,.2 .2,1 1.1,1.8 4,5.1 .3,1-.4,.2-4.5-4.1-.4-1.1-8.7-.5-11.7,.5 0-46.1 1.9-.1 3.9,13.5 3.1,7 5.4,6.9 4.2,3.6 1.9,.5 1.1-.1 1.9-1 2.9-3.4 1.9,.2 26.4,8.6 4.9,.9 24.3,3 11.7-1.3 14.7-.6 10.7-3.2 13.7-3.1 22.4-10 3.9-1 5.8-.7 1-1.7 1-3.2 2.9-12.1 .7-1.2 .3-2.5z" fill="#107e80" fill-rule="evenodd" stroke="#107e80" stroke-width="0.3"/>
<path d="M31.1,56.2l11.7,.3 17.6,1.3 4.9-.3 6.8-1.1-1,1.3-1,.1-3.8,3.7-5.5,7-.4,1.5 1.9,.6 .5,.9-.5,2 1,.2 3.9-1.1 2,.1 .9,.7 .3,4 .7,.8 1,.3 1.9-1.1 3.9-3.5 1-.4 1,.6 0,1.3-.6,2-2.2,5 .1,2 .7,1.5 2,1 2.9,.2 1,.9 2.8,6.3 2.6,3 2.4,1.1 4.9,1.2 6.8,5 2.9,1.6 3,.5 6.8-1 7.8,2.7 3.9,.4 1.9-.8 3-3.3 .9-.6 3-.2 5.8,1 2.9-.5 4.3-4.2 2.3-1 6.1-1.5 2-1.4 2.9-3.4 2.9-.9 3.9,.1 5.9,1 1.6,3.2 1.1,3.9-.1,1-1,2-1.7,2-11,6.9-3.5,1.4-6.9,1.4-7.8,3.2-3.9,.9-8.8,.6-8.7,1.3-3.9,.2-10.8-.9-9.7,0-10.7-2-7.9-.4-2.9-.6-15.6-6.4-2.9-2.4-6.8-7.2-1.4-2-1.2-2.9-1.5-7-.2-3 .4-3.2 1.1-4.7 .7-2 3.4-4.9-.4-.9-24.3,.6 0-15 .9,0zM55.5,87.3l-1.3,5 .3,3.3 1,1.1 2,.7 .9,.8 1.9,6 4,3.6 3.9,1.5 3.9,0 4.9,2.9 1.9,.6 2-.1 4.8-1.6 3-.6 1.9,.2 6.9,2 1.9-.2 1-.4 .4-.9-3.3-2-6.9-1.7-1.9-1.1-7.8-9-2-1.1-2.9-1-2-1.4-3.9-6-.9-.5-2,.2-1.1,.7-2.8,3-1.9,.8-1-.7-2-3.6-.9-.5-2,0zM169,98.3l-1,.9 .7,.6 1.1-.6 .5-.9-.7-.3-.6,.3zM163.8,57.2l17.5,1.1 23.5-1.4 0,14.1-23.5,.6-.4,.9 2.5,3.9 1.8,4 0,2.3-4.8-5.3-2.6-4.9-5.2-5.8-2.8-4.2-5-4.8-1.1-.1 .1-.4zM60.4,179.5l2.8,1.1 7.9,4.6 2.9,.9 7.8,1.1 7.6,3.3 8.3,5 1,1 2.4,3.9 4.8,3 4.2,1.2 7.8,.3 11.7,1.7 5.9,0 8.8-1.6 7.8-.2 3.9-.8 7.8-3.7 5.8-2.1 3.9-2.6 4.9-4.6 14.6,2 11.8,1 0,25.3-174.6,0 0-34.8 11.7-.5 8.7,.5 .4,1.1 4.5,4.1 .4-.2-.3-1-4-5.1-1.1-1.8-.2-1 .3-.2 1,.6 4.9,3.4 2.9,.8 .8-.6 0-1-.8-3.3 .3-.7 .7-.1zM68.5,193.5l0,1 .8,1 8.1,6.9 2.1,3 1.3,1 7.8,4 3,1 2.8,0-.9-1-8-4-2.5-2 .3-1 1.1-1-.1-1-.7-1-10.6-5.9-2.9-1.1-1.6,.1zM99.7,210.4l-3.1,1 5.1,1.9 8.4,1.7 17.6-.2 3.3-.5 .7-1-6.9-1.6-8.8,.8-12.7-2.4-3.6,.3z" fill="#0f8e7e" fill-rule="evenodd" stroke="#0f8e7e" stroke-width="0.3"/>
<path d="M55.5,87.3l2,0 .9,.5 2,3.6 1,.7 1.9-.8 2.8-3 1.1-.7 2-.2 .9,.5 3.9,6 2,1.4 2.9,1 2,1.1 7.8,9 1.9,1.1 6.9,1.7 3.3,2-.4,.9-1,.4-1.9,.2-6.9-2-1.9-.2-3,.6-4.8,1.6-2,.1-1.9-.6-4.9-2.9-3.9,0-3.9-1.5-4-3.6-1.9-6-.9-.8-2-.7-1-1.1-.3-3.3 1.3-5zM169.6,98l.7,.3-.5,.9-1.1,.6-.7-.6 1.6-1.2zM69.2,193.3l3.9,1.2 10.5,5.9 .7,1 .1,1-1.1,1-.3,1 2.5,2 8,4 .9,1-2.8,0-3-1-7.8-4-1.3-1-2.1-3-8.1-6.9-.8-1 0-1 .7-.2zM100.4,210.2l2.9-.1 12.7,2.4 8.8-.8 6.9,1.6-.7,1-3.3,.5-16.6,.3-9.4-1.8-5.1-1.9 3.8-1.2z" fill="#169c77" fill-rule="evenodd" stroke="#169c77" stroke-width="0.3"/>
<path d="M114.9,49l-3.5,.6-3.1,.9-2.2,1.1-2,1.6-1.1,1.7-.4,1.8 .5,1.6 1.3,1.7 2.4,1.7 3.7,1.4 4.4,.8 4.1,.1 4-.5 4-1.3 2.7-1.5 2-2.2 .6-1.8-.5-2.1-1.3-1.7-2-1.5-2.8-1.2-3.2-.8-3.5-.4-4.1,0M110,44l-4.3,.5-5.6,1.1-4,1-4.9,1.7-4.4,2-3,1.7-2.5,1.9-2.2,2-1.7,2.1-1.3,2.2-.9,2.2-.4,3 .4,3 .9,2.2 1.8,2.9 1.9,2.1 3.1,2.6 3.9,2.3 4.4,2 6.2,2.1 5.5,1.2 5.7,.8 5.9,.4 5.9,0 5.9-.4 5.7-.8 5.5-1.2 5-1.6 4.6-2 4-2.2 3.3-2.5 2.6-2.8 1.8-2.9 .9-2.2 .4-3-.2-2.3-1.1-2.9-1.3-2.2-1.7-2.1-3-2.6-2.7-1.8-4.1-2.2-7.2-2.7-4-1-5.6-1.1-4.3-.5-6-.3M116,43.7l-6,.3M47.2,81.3l-2,3.8-1.2,3.9-.4,2.6 0,2.6 .7,3.9 1.5,3.9 1.4,2.5 1.8,2.5 4.5,4.7 4.2,3.3 4.9,3.1 5.4,2.7 6,2.5 8.8,2.8 9.4,2.1 7.4,1.2 10.1,.9 7.8,.2 7.7-.2 7.6-.6 9.9-1.5 7.1-1.5 6.8-1.9 8.3-3.1 5.7-2.7 6.6-4 5.5-4.4 3.2-3.6 1.8-2.5 1.4-2.5 1.5-3.9 .7-3.9 0-2.6-.4-2.6-1.2-3.9-2-3.8M32.2,132l.4,3 1.4,4.5 2.3,4.4 3.2,4.3 4.1,4 4.8,3.8 5.7,3.5 6.3,3.3 6.9,2.8 4.9,1.7 7.9,2.2 8.2,1.8 8.5,1.3 5.8,.6 8.9,.6 8.9,.1 6-.2 8.8-.7 8.6-1.2 8.3-1.7 8-2 7.5-2.5 6.9-2.8 4.3-2.2 4-2.2 5.4-3.6 4.6-3.9 3.7-4.1 2.9-4.3 1.5-3 1.4-4.5 .5-4.5M48,180.9l4.2,4.8 4,3.4 3,2.1 5.1,3 3.7,1.8 8.1,3.2 9,2.7 12,2.3 10.1,1.1 10.3,.4 10.2-.4 12.6-1.5 9.5-1.9 9-2.7 8.1-3.2 3.7-1.8 5.1-3 3-2.1 4-3.4 4.2-4.8M110,44l1,.2 1.4,1 1.5,2 1,1.8M85.2,50.1l3.2-1 3.3-.6 5.2-.2 5.4,.8 5.6,1.6M49.5,78.1l4.8-5.6 5.5-4.9 6.1-4.2 6.7-3.5 7.2-2.7 7.6-2 8-1.1 8.1-.2M36.7,158.5l-2-7.5-1-7.7-.2-7.9 .8-7.9 1.6-7.9 2.6-7.7 3.4-7.6 4.3-7.2 5.1-6.9 5.7-6.5 6.5-5.9 7-5.4 7.5-4.7 8-4.1 8.3-3.3 8.6-2.5M73.7,205l-3.3-2.2-3-2.6-2.8-2.9-2.6-3.3-2.2-3.6-2-3.8-1.8-4.2-1.4-4.4-1.1-4.6-.8-4.8-.4-5-.2-5.2 .2-5.3 .4-5.4 1.9-11.1 3.2-11.2 4.2-11.1 5.4-10.7 6.3-10.3 7.2-9.5 7.9-8.6 8.5-7.6 4.3-3.3 4.5-3M102,215.9l-1.7-.6-1.6-1-2.2-2.2-1.4-2-1.3-2.4-1.6-4.3-1.8-6.9-1.3-8.2-.7-9.4-.1-10.3 .6-13.8 1.1-11.7 2.2-14.9 2.3-11.8 2.7-11.6 3.1-11.1 4.4-12.9 3.7-9.2 4-8M125.3,216.9l1.3-.9 .8-1 1.4-3.4 1.2-5 1-6.5 .8-9.9 .4-9.3 0-13-.3-11.2-1.4-23.8-1.1-12-1.7-14.8-1.5-11.3-2.3-13.1-1.9-9.5-2-8.3M151.2,210.2l2.9-1.6 2.8-2 2.6-2.3 2.3-2.7 2.1-3.1 2-3.4 1.6-3.7 1.5-3.9 1.2-4.3 .9-4.6 .6-4.7 .5-7.6-.2-10.6-1.3-11.1-2.4-11.4-3.4-11.5-4.2-11.3-5.2-10.9-5.8-10.3-6.5-9.5-5.2-6.4-3.6-4-7.4-7.1M186.9,180.9l3.8-6.3 2.1-4.4 1.7-4.7 1.4-4.9 .9-4.9 .8-7.7 0-5.3-.4-5.3-1.3-8-2.2-8-1.9-5.3-2.3-5.2-4.1-7.6-3.1-5-3.4-4.7-5.8-6.9-6.3-6.3-4.5-3.9-4.8-3.7-7.4-4.9-7.9-4.3-5.4-2.4-5.4-2.2M197.3,100.1l-2-4.7-2.3-4.6-2.8-4.4-3.1-4.2-3.5-3.9-3.7-3.7-6.2-5-4.5-3-4.8-2.6-4.9-2.4-5.2-2-5.4-1.6-5.5-1.3-5.6-1-5.8-.5M159.5,55l-5.5-2.4-3.9-1.1-4-.8-4.2-.3-4.3,0-4.3,.4-4.5,.8M132,45l-2.7,.2-1.9,.7-1.9,1.1-3,2.4" fill="none" stroke="#1a2a2a" stroke-width="0.55" opacity="0.9"/>
<path d="M41.9,136.2l1-.8 1.6,.1-.1-3.6 .7-1 0-1.5-.4-1.2 .6-1.4-.4-1.6 .1-1.2 .5-1.2 1.6-.2 .4,.4 1.2,.1 1.3,.8 .7-.3 1.8,.9 1.2-.5 .7,.5 .7-.3 .9,.1 1.6-.9 .9-.9 1.4-.9 1.6-2.7 1.1-.8 .3-1.5 0-1.8 .2-2.2 .4-.9 0-1.7 2.7-.5 1-.8-.8-1.4-.8-.3-1.1,.1 0-1.8 .6-1.4 2.7-1.3 .9,.3-.9,2.6 1.1-1.1 1.9,.2 .5,1.1-.5,1.5 .1,2.5-.7,2.3-1,1.1 .8,1.2 .9-.5 1.1,.3 .8-1.5 .5-1.8-.6-.9 0-1.8 1.9-1.3 2.2-.9 .8-1.4 3.9-.3 1.5-.4 1.5-.8 3.6-2.2 .5-1.4 .9-.2 .3-.8 .9-1.1 1.3-2.7 1-1.2-.8-.2-.8-2.6-.9-.2-.8-1 .9-.4 .5-.8 2.9-1.2 1.1,.1 2.4-1.1 .8,.5 1.7,.3 .3-.6 1.2,.5 1.8-.4 .2,.4 .6,0 .2,.3 1.6-.3 .7-1.4 1-.8 .8,.5 .2-.6 1.8,0 .4-.3 .3,.5 .8-.3 .9,1.4 .6-1 .3-.9 2.4-1 .4,.4 .3-.3 .7,.1 .8-.4 .3-.8 1-.4 .5,.5 .5-.2 1.9-1.2 .4-1 .5-.5 .7-.2 .5,.5 .4-.7 1.2,.6 .2-.3 .8,.1 .1-.4 .9,.5 0-.2 .8,.2-.7-.5-.6-1.2-.5-.5-.3,.4-.9-.8-.4,.3-.8,0-.4-.9-.5,.2-2.4-1.3-.3,.3-1.2-.5-.2,.4-.9-.3-.4,.2-2-.1-.2,.3-.5-.2-.4-.5-.4,.2-.3-.3-.5,.3-.6-.3-.2-.5-.4,.1-.8-.5-1.2,0-.6-.4-.6,0-.3-.5-.2,.2-.6-.5-.4,.5-.4-.2-.2-.8-.6,.3-.3-.6 .1-.3-.6,.3-.4-.3 .1-.6-.8,.4-.1-.5-.4,.1-.1-.4-.5-.1-1.1,.6-.1-.3-.6,.5-.4-.3 .1-.3-1.1,.2-.4-.5-.1-.7-.4,.1 .9-1.9-.7,.2 .2-.4-.5,.3 0-.4-.9,.2-.2-.5-.7,0-.2-.5-.5,0-.2-.1 .3-.8-.4-.3 1.6-1.3 1.2-.7 .3-.3-.5,0 .7-.6-.2-.4 .4-.2-.3-.1 .4-.4-1.6,0-.2-.2-.5,.1 .4-.4-2.3,0 .4-.3-1.1,.2-.9-.1 .2-.2-1.1-.1 .2-.2-.7,0-.3-.1 0-.5-.9-.1 .4-.4-.9,0M112.2,87.6l-.1,1.5-.3,.3-1.7,4.8-.5,.8-1.9,2.1-1.4,.4-1.2,.7-.2-1.7 .5-1.2 0-3.1 1.4-2.4 .9-.6 .6-1.3 2.2-2.1 2.3-.8M89.6,103l.4-1.5 1.1-1.1 .7-1.6 1-1 .1-1 .9-1.7 .2-1.6 .5-1.1-.2-.5-.4,1.3-1.3,1.6-1.2,4.2-1.8,4M71,120.2l-.3-1.8 .4-1.1 1.8-.9 2.6,.1 1.1,.5 .6,.6 0,1.2 .4-.7 1.4-.2 .5,.5 2.5-.4 1.3-.4 3.2-5.3 .4-1.5 0-1.3-1.1,.2-.8,.6-.7,2.1-2,1.8-3.2,.6-.7,1.1-.4-.6-1.7,.5-.6-.7-3.6,1.6-.3,1.6-.8,.6 0,1.3M85.5,108.8l1-.1 .9-.9 .7,1 .9,.2 1-1 1.5,.1 .4-1.7-1-1.6-.7,.1-.9-1-1.3,1.3-.4,1.5-1.3,.8-.8,1.3M57.6,128.6l.5-.3 .8-1.4 .2-1.2 .6-1.1-1.2,.4-1.1,1.9 .2,1.7M56.2,133.5l-2,4.4 .5,1.5 .8,1.3 1.7,1.7 .4,1.3 .3-2.1-.5-.6-1.5-2.9 1.2-1.6 .4-2.2-1.3-.8M58.5,148.2l.8,3-.7,1.8-1.1,.2-1.2-1-.7-1.5-1.1-.5 2-.4 .2-.7 1.8-.9M55.3,144l1.1,3.6 1.2-.1 1.3-2.8-.5,.2-2.5-.9-.6,0M49.7,147.1l1.1,2.8 .1,1.6 .4,1.4-.8,1.8 .5,1.7-.6,.3-1.9,2.4 .1,1.5-1.3-.3-1.3-1.4-1.1-1.8-1.2-1-.6-1.9-.5-3.4 .3-1.2 1,.8 1.1-.4 1,.2 1.1-.6 1.2-1.2 .4-.8 1-.5M57.2,159.2l-2.1,.2-1.9-.8-.6-.6 .8,1.5 .2,1.1-1,.7 .1,3.4 .2,1.1 1.4,.2 .7-.8-.7-1.3-.2-1.8 .4-.8 1.1,.4 .5-2.1 1.1-.4M35.6,134.7l.1,2.6 .5,2.6 .5,1.1-.1,.7 .8,4.1 0,1.2 2.3,7.8 1.4,2.2-.1-1.4-.5-2.7-.6-1.8-1.2-5.4-1.4-4.3 0-1.5-.6-1.2-.1-1.4-1-2.6M41.1,157.1l2.3,3.4 .8,.2 .7,1 .6,.4 .6,1.1 1,.3 .6,.9 .3,1.8-1.1-.9-2.3-2.9-1.4-.9-1.9-3.1-.2-1.3M39.5,146.4l-.3-3.6 .2-2.3-.5-1.3-.8-6.5 0-1.2 .7-1.6 .1-1.5 .8-.8 .6,3.8 .6,1-.1,1.3 .3,.8 0,2.4 .8,.4 .4-.8-.4-.3M38,120.1l.5-1.2 0-1.6 .6-1.6 0-.8 .6-1.6-.1-1.1 .6-1.1 0-1.4-.6-.4-.9-1.4-.9,1.5-.2-.5-1,1.3-.3-.8-1.2,1.8-2,7M39.5,146.4l-.4-1.4-.4-.3-1-4 0-3.8 .3-.6-.4-3.2 0-1.9 1.2-4.3-.2-1.6 .8-3.6-.2-.8-.5,.3-.7-1.1M63.8,165.3l1.4,1.3 1.1-.1 2.3,2.8 .6,0 1.8,1.5 1.3,.4 1.8-.1 .4,.5 1.6,.1 1.1,.7 .6,.1 3,1.6 2.2,2.6 2,1.5 .1,1.9 2,2 0,.6 2.4,1.7-1.7-1-1.8-.2-1.6-.7-.5-.9-1.2-.4-1.2-1.3-1.1-.6-1.9,1-1.9-.5-1.8-1.5-1.5-.7-.8-1.4 0-1.9-3-1.9-2.3-1.2-1-.9-.1-.7-2.3-3.4 0-.9M78.8,182.6l.3,1.2 1.5,1.6-.1,1 1.4,.8 .4,.9 1.7,2-.1,.9 1.1,1.5 2.7,1 1.8,2.4 1.2,.2 .7,1 2.8,2.3 .4,.4-.1,.6 1.2,1.2 .4,.9-.3,1.7 .3,.6-.4,.8-1.3,.9-.2,1.4-.4,.1 .3,.6-1.8-.2-1.1,.1-2.7-.9-1.3-.2 0,.2-1.1-.3-2.7-1.3-.1-.3-2.1-1.4-1.9-2.1 .4,1-.4,.5-1.5-.9-.7-.9-1.4-.9-6-3.3-1.8-.7-.2,.2-1-.6-.2,.6-.5-.1-2.7-1.4-.2,.1-.9-.4-2.5-2-.8-.9-.6-1.2-2.8-3.4-2.2-3.2-1.4-3.5 .4,.2 1.1,.1 .7,.5-.1-.8 1.1,.5 .1-.5 1,.3 .3-.2 .9,.2 .2-1.3 .7,0 .9-.6 1.1,.4 .7-.5 2.4,2.1 .6-.8-.2-.7 1-1 1.2-.1 2,1.4 3.4,1.1-.9,.7 .3,2.3 1.4,.7 .2,.7 4.4,2.4 .6,.8 .8-.7 .1-.5 .6-.6-.2-1.1-1.1-1.6 1.3-1.3-.1-.7M120.8,208.8l.6,.6 3.1,1.1 2.9-.1-.2,.5-3.8,1.8-1.1-.2-.3-.5 .1-.5 .8-.5-.3-1.3-1.8-.9M120.5,212.3l1.6,.4-2.7,1.6-2.2,.2-.5,.3-2.9-.2 .9-.4 2.3-.3 1-.5-.1-.2 2.6-.9M138.8,92l.4-.5 1.1-.6 .6-.9 0-.7 .9-.1 .6-1.8 .5-.4-.1-.9 .8-1.3 .8-.4-.3-.5 .6-1.4-.3-1.1 .4-.7 .4,0 .5-.6 1.2,.5 .3-.2 .9,.1 .7-.9 1.3,.3 0-.6 2.1,.4 .3-.2 2.8,1.4 0-.3 3.1,1 3.9,1.9 1.5,.3 1.2,.6 1.3,1.2 2.5,.6 1.9,2.1 .9,.4 .9,1.6 1.1,.9 .6,1.2 .8,.6 .6,1.2 1.8,1.8 4.1,3.3 1.9,1 .6-.9 2.2,1.5 1.8,1.5 .5,.7 1.5,.9 1.2,1.7 .7,.2 1.2,1.6 .7,.5 .6,.2 .4-.1-.3-.3-.8,.1-1-2.1-1-.8-.7-1.5-.7-.3-1-2-.8-.7M138.8,92l.5-.7 .6,0 .8-1.8 .8-.8-.2-1.8 .1-1.4-.7,.6-.5-.7-1.9,.6-.8,.1-.9-1-1.9-.8-.7-.9 .3-.9-.2-1.2-.7-.4-.8-1-.5-.1-.8-.8-.6-.2 .5,.1 .7-1 0-.4 .5-.4-2-1.4 .4-.1 .4-1.2 .5-.3 0-1.9 .7-.5 .1-.8 .4-.1 1.5,.5 .1-.4 .5,.2 .6-.2-.1-.4 .3-.1 1.2,.2 0-.6 1.2,.3 .8-.6 .6,.3 .7,0-.1-.4 1.1,.2-.1-.5 .8,.4-.3-.6 1.1,.1-.2-.8 .3,.2-.1-.8 .4-.4-.3-.7 1,.2-.5-.9 1.6,0 0-.3 .8-.6 1.4,.1 0-.5 1.3,0-.3-1.3 .4-.3-.2-.3 .6,0-.5-.6 .6-.1 .2-.8 .6,0-.4-.3 .4-.3 .5,.1-.3-.3M130.2,97.2l-.6,.5-2.1-.2-.7,1-2.5-.5-.9-.5-1.4,.2-1.9-.9M136.5,94l-.5,.7-.9,.6-.3,.7-2.1,.4M140.1,64l.2-.3-.5-.7 .1-.3-1.7-1.3-1.1-.6 .8-.1-.4-.3 1,0-.2-.4 .5,.1 .3-.4 2-.2-.2-.2 .8,.6 .3,.6 1.5,1-.6,0 1,.6-.3,.3 1,.4-.8,.4 .1,.3-.9,.1-.8-.3 0,.4-1.6,0 .1,.3-.6,0M138.1,57.6l-2.9-.2-2.2-.8-.3-.3 .4-.1-.9-.3 2.3-.3-.2-.2 1.3,.1 .5,.5 1.9,.6 .4,.6-.6,.2 .3,.2M142.3,57.5l1.5,1 2.8,.8 1.4,1-.2,.2-1.2-.1 .2,.3-.9,0-3.6-1 .3,0-1.1-.6-.5-.9 .6-.4 .8,0-.1-.3M131.8,54.5l-2.7-.7 .3,0-1.9-.1 .4-.2-1.2-.1 .4-.1-.3,0 .3-.3-1.1-.1 3.9,0 0,.2 .9-.1-.3,.2 1.2,.1 .8,.3 .2,.2-.5,.4-.7,.1 .3,.2M140.9,57.2l.2-.2-1.4-.7 .3,0-.2-.5-.7-.3 .6-.1-1.6-.7 .4-.1-1-.2-.7-.4 2.7,.1 1,.6-.5,.2 1.3,.5-.3,.2 .8,.2-.4,.2 .6,.4-.5,.1 .3,.4-.9,.3M124.3,51.1l-1,.2 .2-.3-.5,.3-.5-.3-.5,.4-.8,0 .3-.4-.1-.2-.6,.1-.1-.5-.8-.1 .2-.3-.5,.1-.5-.3 .2-.3-.5,.2-.2-.2 .6-.8 2.4-2.2 1.7-.8 1.7-.2 2.5-.1 7.1,.7 7.3,1.5 .3,.3-.2,0 .3,.2-.2,.2 .4,.2-5.2,.8 .5,.3-.5,.1 .2,.2-.3,.3 .2,.2-1.1,.4 .2,.2-.2,.2-.8,.3 0,.3-.7,.1 .2,.3-1.9,.5-4.8-.6-2.1,.1 .1-.2-.3,.1 .3-.2-.9-.1 .5-.2-.8,.1 .4-.2-.4,0-.1-.1 .2-.2-.9,.2 0-.3M100.8,60.1l2.3-1.7 1.7,0-.9,.5 .6-.1-1.4,.9 .1,.1-2.4,.3M95.4,52.7l.4,.3 1.5,.3 0,.3 .2,.2-.2,.1 1,.1-.3,.4 .4,0-.9,.4-.1,.2 .1-.1-1-.1-.4-.2 .5-.1-.9-.2 0-.3-1.1-.8-1.9-.2 2.7-.3M105.4,67.3l1.7-.6 1,1.4-1.8,.7-.5-.5 .1-.6-.2-.5-.3,.1M122.7,73.3l.7-.3 .1-.4-.5,.7M159.5,137.2l-.3-.1 .6,.3-.3-.2M163,139.1l-.5-.7 .9,1-.4-.3M161.6,137.6l.2-.2 .2,.2-.4,0M82,151.2l.3-.2M83.4,149.2l.3-.2M98.4,182.8l.5,.9 3.2,.5 .7,.9 1.9,.7 .4,.6M95.5,180l1.5,1.5M109.8,197.3l3.2,1.8-1.8-.8-1.4-1M128.1,193.6l1.3,1-1.8-.4M113.1,191.8l1.2,1.6M58.8,172.5l-.4,.4-1.5-.3-.3,.6 1.8-.4 .4-.3M50,167.2l.9,1.2 4.6,2.1M48.2,125.4l-.5,.3-1,0 .3,1.5 .9-.8 .6,.1-.3-1.1M68.9,82.7l.7,0 1-.6 .6,.4 2.8-1.2 .3-.4 1.1-.2-2.4,1.3-1,0-1.5,.7-1.6,0M33.1,118.2l1.6-8.5 1.6-5.8 3.5-9.2 2.4-5.1M33.4,117.7l-.7,5.1 .7-5.1M36.6,122.3l-1,3.7M154.1,56.4l.8,.5-.4,0 .3,.3 .9,.6 0,.3 .8,.6-.2,.1 .9,1.1-.5-.2 .7,.5-.1,.4 1,1.1-.2,.2 .5,.3 0,.4 2.6,1.4 1,.4 1.3,0-.1-.3 .6,0 .3-.2 .3,0 .4-.8-.3-.6 1.2,.3 0-.3 1.2,.3 0-.3 .3-.2-2.7-1.8-4.5-2.4-2-.8-4.1-.9M154.1,56.4l-.5-.6 .4,0-.6-.6 0-.5 1.9,0-3.1-1.8 .8,0 .1-.3 1,.1-.2-.2 1.4,.4-.1-.2 4.7,2.5 6,4.2M150.6,52.7l-6.3-1.8 .1,.3-.7-.1 .5,.3-2.8,.8 .2,.3-.9,.1-.4,.2 .7,.5-.8,.4 .3,.4-.4,.2 1.6,.6 .5,.5 3.8,1.4-.2-.2 1.1-.2-.1-.5 .5-.1-.1-.6 .8,.1-.1-.2 .4-.1 0-.6 .5-.2-.5-.6 1.1,0-.3-.2 .7,0 2.4,1-.8-.6 .1-.4-.3-.4-.6-.3M153.9,58.7l-2.1-1 .3-.1-.5-.5 .7,.1-.6-.4 .6,.1-.1-.3 1.8,1.3 .3,.7-.4,.1M147.9,61.7l-1.3-1.6-3.5-.8-.3,.1 .4,.6-1,0-.1,.3 .4,.3-.4,.1 .1,.4-.4,.3 .7,.4-.2,.2 .3,.5-.5-.1 .4,.8 1.4,.6 .1-.2 2.1,.3 .3-.1-.2-.4 1.3-.1-.5-.5 .7,0-.1-.7 .6,0-.3-.4M142,65l-3.2-1.8 .2,0-.1-.7 .2-.1-.2-.4 3.5,1.4 0,.4-.7,.5 .8,.6-.5,.1M136.2,53.9l-2-.4 0-.2-.8-.3-4.7-.5 .2-.1-2.1-.1 .3,0-.4,.3 .3,0-.6,.2 .7,0-.8,.6 .9,.1-.1,.2 .6-.1-.3,.2 .4,0-.3,.1 1.1,.1-.3,.2 .6,.1-.2,0 .2,.2 3.1,.7 2.8-.1 .1-.2-.2,0 .5-.2-.2-.1 .8-.1-.3-.4 .7-.2M140,56.4l-2.2-.7-.2-.1 .3-.1-1.3-.9 1.7-.3-.1-.3 .4,.2-.4,.3 1.1,.4-.4,0 .9,.6-.7,.1 1,.4-.5,.1 .4,.3M139.5,61.1l-2.4-.3-.3-.5 .4,.1 .2-.2-.7-.5 .6,0-.4-.4 1,0 1.3-.5-.4,0 0,.3 .4,.2 .5,.6-.6,0 .3,.4-.2,.5 .3,.3M156.6,70.1l-.8-1.3 0-.5 .3-.4 .6,.2 .4-.3 .5,1.2-.4,.3 .4,.5-1,0 0,.3M150.4,69.8l-.6-.5 .3-.1-.2-.7-.7-.7 .3-.1 .1-.4 .8,0 .6,.9 .1,.3-.3,0 .2,.9-.9-.1 .3,.5M171.6,71.1l-3.8-1.9 .9-.1 2.9,2M144.4,86.7l.6-.9 0-.8 .7,.5-.1,1-.6,.3-.6-.1M169.4,85.8l-1.9-.3-1.2-.5-.4,.7-1-.4 .8-.2 .5-.5 .9,.6 .6-.4 1.7,1M162.5,85l-.7-.5-1.1-.2-1.2-.7 1,.2 2,1.2M92.3,107.5l.7-1 1.4-.3 2.8-1.4 .6-.7 1-.2 .7-1.1 2.8-1.3 1.4-1.6M65.8,126.1l.9-.6M68.5,123.8l.4-.1M68.1,115.4l.7,0-.4,.3-.3-.3M98.1,61.2l.1,0 0,.4-.7,.3-.4,.8 .3-.1-.4,.6 .5,0-.1,.5 .4,.1-.5,.7 .2,.1-1,.9M130.5,81.4l1,.2 .1-.7M130.2,85.7l-.3-.2M97.5,86l.6-.3 1.7,.2 1.5,.9 .5-.3 1.3,.2 .7-.5M121.3,81.2l1.7-1.3M149.6,57.5l-1-.1-.2,.5 2.2,1.1 .8-.2-.4-.8-1.4-.5M153.7,68.8l-.9,.2-1.3-.3 .5,1.1 1.4,.8 1-.1-.7-1.7M145.8,65.6l-.7,0 .6,.7 .5-.1 .1-.3-.5-.3M142.9,57.4l-.8,.1 0,.3 .5,.4 .9-.1-.6-.7M139.3,57.2l-1.5-.3-.3,.7 2.2,.8 1.4,0-.7-.8-1.1-.4M150.5,67.4l-.9,0-.3,.3 .1,.5 .8,.8 .9-.1-.6-1.5M159.3,74.2l-1-.7-.5,.4 1.2,1.8 1.2-.8-.9-.7M150.9,64.6l-.7-.1 0,.7 1.1,.2 .2-.3-.6-.5M152.6,52.5l-.4-.1 1,.4-.6-.3M145.2,59.2l-.7,.1-.3,.3 .4,.5 .8,.1 .7-.5-.9-.5M156.5,67.7l-1.9,.1 .6,1 1.2,.6 .7-.1-.6-1.6M132.1,57.4l-1.3-.3-.2,.5 .8,.4 1.9,.3-1.2-.9M142.6,52.4l-1-.1 1.5,.7 .7,.1 .3-.2-1.5-.5M152.5,58.5l-.5-.1-.1,.2 1,.5 .2-.1-.6-.5M156.4,54.4l.2,.3-.1,.1 1.9,.9-.7-.7-1.3-.6M144.4,53.7l-.9,.2 .1,.5 1.2,.8 1.9-.3-.7-.7-1.6-.5M147.8,53.7l-.8,0 1.3,1.1 1.2,.2-.4-.9-1.3-.4M133.7,53.3l-.5,.2 .7,.7 1.1-.3-1.3-.6M149,63.2l-1-.3-.7,.3 1,.8 1.4,.3 .3-.5-1-.6M152.8,53.4l-.9-.2 1.6,1 .8-.1-.6-.4-.9-.3M135.2,56.7l-1.1,.3 .4,.5 1.2,.3 .7-.3-.1-.6-1.1-.2M159.7,63.7l-.5-.1-.1,.1 .4,.4 1,.3-.1-.4-.7-.3M159.5,75.5l-1-.9-.6,.4 1.3,2.1 .9-1-.6-.6M159,56.6l-.3,0 1.1,.5-.8-.5M141.8,61l-1.1,0 .3,.6 1.3,.1 .1-.4-.6-.3M146.9,56.1l-1.2-.2-.1,.6 2.6,1 .4-.4-1.7-1M139.7,51.5l-.6,.1 1.1,.6 .8-.2-1.3-.5M136.4,54.3l-1.2-.1-.1,.6 1.2,.6 1.2-.1 .7-.3-.9-.5-.9-.2M136.1,57.4l-.6,.2 1.1,.2-.5-.4M159.6,66.2l-.6-.2-.6,.2 .5,.8 1.2,.7 .8-.1 0-.8-1.3-.6M132,58.9l-1,0 .3,.4 1.2,.2-.1-.4-.4-.2M148.1,53.1l-1.3-.2 .3,.6 2.6,.8-.6-.9-1-.3M143.3,64.2l-1.2-.2-1.2,.2 .7,1 1.2,.7 1.4,.1-.9-1.8M144.7,51.1l-.7,.1 1.6,.8 1.3,.3 .2-.3-2.4-.9M157.6,59.3l-1.3-.5 1.3,1.3 1.8,.5-.9-.8-.9-.5M143.4,63.2l-1-.4-.2,.4 1.1,1.1 .8-.1 .1-.6-.8-.4M146.8,63.9l-.5-.2-.2,.3 .1,.3 1.2,.3-.6-.7M134.3,51.8l-.6,0 1,.6 .8,0-.6-.5-.6-.1M155.1,69.7l-1.2-.6 0,1.4 1,.9 .7-.9-.5-.8M130.6,51.6l-.3,.1 .6,.3 .3-.1-.6-.3M146.6,57.7l-.6-.1 .2,.8 1.2,.4 .7-.3-1.5-.8M132.4,55.5l-.9,0-.3,.4 2,.7 .5-.9-1.3-.2M159.2,63.2l-.6-.1-.1,.3 .4,.6 1.9,.6-.4-.8-1.2-.6M135,54.3l-.8,.5 .8,.3 1.4-.2-.5-.4-.9-.2M137.5,56.4l-1.3,.2-.4,.6 .9,.7 2.5,0-1.7-1.5M147.2,67.3l-.7-.2-.4,.8 .8,.4 .5-.1 .4-.3-.6-.6M147.5,59.4l-1.4-.1-.4,.6 .9,1 2.6,.2-.2-.9-1.5-.8M149.8,68.1l-.6,0-.2,.4 1.1,.2 .3-.2-.6-.4M130.3,54.2l-1.1,0-.2,.4 2.6,.5-.3-.9-1,0M147.9,56.6l-.3,.2 .7,.2-.4-.4M153.6,56.5l-.4-.1 1.1,.8-.2-.6-.5-.1M153.6,52.7l-1.3-.4 3.6,1.7-1.5-1-.8-.3M140.6,56.4l-1.2,.1 .7,1.3 1.4,.3 .5-.4-1.4-1.3M161.1,64.3l-1,.2 1.7,1.3 .4-.3 .1-.6-1.2-.6M140.2,59.8l-.5,0-.2,.2 1.1,.4-.4-.6M141.9,53.7l-.6-.1 .7,.6 .4-.2-.5-.3M143.2,63.2l-1.3-.1 .4,.7 .8,.4 .7-.2 .1-.4-.7-.4M151.1,55.3l-1.1,.2 2.6,1-.6-1-.9-.2M137.7,57l-1.2,.7 .5,.5 1.3,.5 .5-.5-.3-.5-.8-.7M134.4,59.9l-.7,.1 .6,.5 .3-.4-.2-.2M162.5,68.4l-.8-.1-.1,.4 .2,.6 1,.7 .5-.2-.8-1.4M140.6,51l-.3,.4 .1,.5 2.3,.4 .2-.3-.6-.7-1.7-.3M157.2,64.4l-.5-.1-.2,.2 1,.8 .6,0-.3-.5-.6-.4M146,62.6l-1,.1-.1,1 1,.5 1-.1 .3-.6-1.2-.9M137,60.7l-1.1,.4-.2,.4 1,.6 1-.8-.7-.6M139,54.6l-.6,0 .6,.6 .7-.2 0-.3-.7-.1M148.3,57.5l-1.1-.1 .9,1.3 1.2,.2 .8-.1-.5-.8-1.3-.5M131,51.3l-.7,.3 .4,.5 1.9,0-.6-.8-1,0M152,66.4l-1-.1 .9,.7 .5-.3-.4-.3M157,72.3l-.9-.5 .1,1.1 .5,.3 .5,.1 .1-.4-.3-.6M157.7,80.6l-.5-.1 .6,.6-.1-.5M156.3,73.3l-.4-.2-.1,.2 .8,.6 0-.3-.3-.3M160.3,80.1l-.3-.1-.1,.1 .2,.5 .4-.1-.2-.4M157.1,80.8l-.5-.2 .6,.6-.1-.4M167.2,84.4l-.4,0 .4,.4 0-.4M163.4,78.6l-.8-.1 .5,.9 .6-.3-.3-.5M160.1,79.9l-.4,0 .4,.4 0-.4M155.7,79.7l-.4-.3-.3,.1 .1,.4 .6,.3 .2-.1-.2-.4M159.4,79.9l-.2-.1-.1,.3 .3,.1 0-.3M162.4,83.6l-.7-.3 .4,1 .5,0 .2-.3-.4-.4M153.5,77.8l-.5-.1 .6,.5-.1-.4M162.5,86.6l-.5-.1 .5,.5 0-.4M161.3,83.2l-.5-.2-.1,.4 .8,.4 .1-.3-.3-.3M162.2,84l-.3-.3-.3,.1-.1,.4 .4,.4 .5,.1-.2-.7M154.6,74.8l-.6-.1 0,.3 .8,.3 .1-.2-.3-.3M154.2,73.9l-.4-.1 0,.3 .6,.3-.2-.5M168.6,83.6l-.4,0 .5,.5-.1-.5M157.1,80.9l-.5-.5-.3,.7 .4,.6 .7-.4-.3-.4M165.6,89.4l-.7-.3-.3,.2-.1,.5 .4,.6 .8-.3-.1-.7M165.6,89.8l-.6-.2 .3,.7 .5-.2-.2-.3M156,80.7l-.4-.5-.4,.3 .1,.4 .8,.5 .2-.3-.3-.4M156.9,76.9l-.7-.4-.3,.4 .1,.4 .5,.5 .7,.2-.3-1.1M163.6,79.6l-.3-.3-.3,.1 .1,.3 .7,.4-.2-.5M164.4,89.3l-.3-.2-.3,.4 .6,.3 0-.5M162.1,86.7l-.7-.3-.5,0 .5,1.3 .9-.3-.2-.7M92.7,56.2l1-.5-1.1,.1-.4,.2 0,.3 .5-.1M99.8,68.1l.2-.3-1.1,.2 .5,.3 .4-.2M95.8,61.8l.4-.2-.1-.2-.7,.1 .1,.3 .3,0M104.6,70.4l-.2-.4-.4,.6 .6-.2M96.6,67.2l.2-.2-.2-.1-.4,.3 .4,0M70,68l.6-.9-.3-.1-.6,.4-.1,.5 .4,.1M84.6,62l.7-.2-.1-.3-.9,.1-.2,.6 .5-.2M85,83.1l.2-.2-.6,.2 .2,.3 .2-.3M68.3,78.6l.5-.5-.2-.3-.9,.4-.3,.5 .9-.1M90.5,65.6l.4-.4-.5-.4-.8,.7 .9,.1M73.3,73.7l.5-.6-.6-.3-.7,.9 .3,.2 .5-.2M90,73l-.2-.6-.8,.3 0,.4 1-.1M89.5,56.5l1.1-.6-.5-.1-1,.4 .4,.3M85.8,68.4l.3-.5-.7,.3 0,.4 .4-.2M89.3,56.2l.8-.4-.8,0-.5,.5 .5-.1M87.2,76.7l.2-.2-.4,0-.1,.3 .3-.1M101,65.5l.1-.6-1,.4-.2,.5 1.1-.3M97.7,63.7l.2-.1-.3-.1-.4,.2 .5,0M79.2,68l.6-.4-.6-.3-.9,.7 .9,0M73.2,74.8l.3-.3-.1-.3-.3,0-.4,.6 .5,0M75.3,66l.1-.3-.3,.3 .2,0M93.7,60.7l.7-.4-.6-.4-.6,.2-.3,.7 .8-.1M90,65.6l.1-.2-.4,.1 .3,.1M81.1,59.9l.6-.2 .2-.3-.8,.1-.5,.6 .5-.2M90.6,80.9l-.1-.3-.4,.5 .5-.2M94.7,59.3l.6-.7-1.1,0-.4,.4 .9,.3M69,76l.2-.4-.2,0-.4,.5 .1,.1 .3-.2M77.5,81.8l.1-.4-.5,.2-.1,.3 .5-.1M66.6,76.2l.3-.3-.2-.2-.5,.6 .4-.1M66.2,74.8l.5-1-1,.5-.4,.5 .1,.4 .8-.4M97.9,166.8l-.3-.5-.5-.1-.3,.3 .3,1 .6-.1 .2-.6M38.2,126.8l-.2-.5 .2,.5M35.4,147.4l-.2-.7 .2,1 0-.3M51.4,137.4l-.2-.7-.2,.1 0,.8 .2,0 .2-.2M59.7,154.9l-.3-.7-.3,.2 .1,.4 .4,.4 .1-.3M39.2,143.9l-.1-.3 0,.5 .1-.2M91.1,155.7l-.1-.3-.2,.3 .3,.1 0-.1M81.2,171.9l-.3-.5-.9-.1 0,.6 .4,.6 .6-.1 .2-.5M73.1,168.3l-.3-.4-.2,.1 0,.3 .5,.3 0-.3M53.8,151.5l-.7-1.2-.2,.5 .2,.8 .4,.3 .3-.4M49.5,165.3l-.2-.2 0,.3 .2-.1M81.8,162.6l-.1-.7-.6-.2-.5,.2 .5,1 .7-.3M59.3,167l-.2-.3-.1,.2 .3,.1M45.1,154.6l-.1-.2 .1,.4 0-.2M60.3,146.3l-.2-.4-.4-.1 .1,.7 .5-.2M102.9,157.2l-.2-.4-.3,.1-.3,.4 .2,.2 .6-.3M48.7,143.7l-.2-.7-.2,.7 .1,.4 .3,.1 0-.5M85.1,170.7l-.2-.7-1.2,0 .6,1.2 .8-.5M66.4,176.8l-.3-.3-.2,0 .3,.5 .2-.2M50.1,139l.1-.2-.3-.1 0,.4 .2-.1M50.6,165.4l-.2-.4-.2,.3 .2,.5 .2-.4M80.4,172.2l-.4-.4 .1,.5 .3-.1M98.1,163.4l-.4-.6-.2,.7 .5,.2 .1-.3M92.8,164.8l-.2-.6-.5-.2-.6,.9 .5,.4 .5-.1 .3-.4M52.3,157.9l-.2-.4-.2,.3 .3,.3 .1-.2M42.4,131.3l0-.6-.4-.1-.1,.4 .3,.6 .2-.3M61.4,142.1l-.3-.5-.2,.1 .1,.6 .2,.1 .2-.3M77.6,152.5l-.3-.4-.3,.1 .2,.5 .2,.1 .2-.3M83.4,165.1l0-.4-.4-.2-.4,.2 .3,.9 .4-.1 .1-.4M38.2,147.6l-.1-.3 .1,.5 0-.2" fill="none" stroke="#0a0a0a" stroke-width="0.75" stroke-linejoin="round"/>
</g>
<ellipse cx="117.45" cy="130.5" rx="85.3" ry="86.8" fill="none" stroke="#111" stroke-width="0.8"/>
<rect x="3" y="224.7" width="15.86" height="7.1" fill="#3a2a5a"/>
<rect x="18.06" y="224.7" width="15.86" height="7.1" fill="#46286f"/>
<rect x="33.13" y="224.7" width="15.86" height="7.1" fill="#41458a"/>
<rect x="48.19" y="224.7" width="15.86" height="7.1" fill="#3b4f8c"/>
<rect x="63.26" y="224.7" width="15.86" height="7.1" fill="#2f6488"/>
<rect x="78.32" y="224.7" width="15.86" height="7.1" fill="#22738a"/>
<rect x="93.39" y="224.7" width="15.86" height="7.1" fill="#107e80"/>
<rect x="108.45" y="224.7" width="15.86" height="7.1" fill="#0f8e7e"/>
<rect x="123.51" y="224.7" width="15.86" height="7.1" fill="#169c77"/>
<rect x="138.58" y="224.7" width="15.86" height="7.1" fill="#25a56c"/>
<rect x="153.64" y="224.7" width="15.86" height="7.1" fill="#4caf69"/>
<rect x="168.71" y="224.7" width="15.86" height="7.1" fill="#6ab85d"/>
<rect x="183.77" y="224.7" width="15.86" height="7.1" fill="#98c74a"/>
<rect x="198.84" y="224.7" width="15.86" height="7.1" fill="#d2da30"/>
<path d="M213.9,224.7 L224.3,228.25 L213.9,231.8 Z" fill="#d6dc2e"/>
<path d="M3.0,231.8 V224.7 H213.9 L224.3,228.25 L213.9,231.8 Z" fill="none" stroke="#bbb" stroke-width="0.5"/>
<line x1="3" y1="231.8" x2="3" y2="234.3" stroke="#333" stroke-width="0.7"/>
<text x="3" y="244.2" font-size="12" fill="#222" text-anchor="middle" font-family="Liberation Sans, sans-serif" >0</text>
<line x1="33.13" y1="231.8" x2="33.13" y2="234.3" stroke="#333" stroke-width="0.7"/>
<text x="33.13" y="244.2" font-size="12" fill="#222" text-anchor="middle" font-family="Liberation Sans, sans-serif" >5</text>
<line x1="63.26" y1="231.8" x2="63.26" y2="234.3" stroke="#333" stroke-width="0.7"/>
<text x="63.26" y="244.2" font-size="12" fill="#222" text-anchor="middle" font-family="Liberation Sans, sans-serif" >10</text>
<line x1="93.39" y1="231.8" x2="93.39" y2="234.3" stroke="#333" stroke-width="0.7"/>
<text x="93.39" y="244.2" font-size="12" fill="#222" text-anchor="middle" font-family="Liberation Sans, sans-serif" >15</text>
<line x1="123.51" y1="231.8" x2="123.51" y2="234.3" stroke="#333" stroke-width="0.7"/>
<text x="123.51" y="244.2" font-size="12" fill="#222" text-anchor="middle" font-family="Liberation Sans, sans-serif" >20</text>
<line x1="153.64" y1="231.8" x2="153.64" y2="234.3" stroke="#333" stroke-width="0.7"/>
<text x="153.64" y="244.2" font-size="12" fill="#222" text-anchor="middle" font-family="Liberation Sans, sans-serif" >25</text>
<line x1="183.77" y1="231.8" x2="183.77" y2="234.3" stroke="#333" stroke-width="0.7"/>
<text x="183.77" y="244.2" font-size="12" fill="#222" text-anchor="middle" font-family="Liberation Sans, sans-serif" >30</text>
<line x1="213.9" y1="231.8" x2="213.9" y2="234.3" stroke="#333" stroke-width="0.7"/>
<text x="213.9" y="244.2" font-size="12" fill="#222" text-anchor="middle" font-family="Liberation Sans, sans-serif" >35</text>
<path d="M87.7,101.2 C91.4,100.9 103.0,100.0 110.0,99.2 C117.0,98.4 123.3,97.6 130.0,96.5 C136.7,95.4 144.7,93.8 150.0,92.4 C155.3,91.0 158.1,89.8 161.6,88.3 C165.1,86.8 168.2,85.4 170.9,83.7 C173.6,82.0 176.2,79.6 177.8,77.9 C179.4,76.2 180.0,74.8 180.7,73.3 C181.4,71.8 181.2,70.1 181.9,68.6 C182.6,67.0 183.4,65.5 184.8,64.0 C186.2,62.5 188.3,60.9 190.6,59.4 C192.9,57.9 195.5,56.6 198.7,55.3 C201.9,53.9 206.4,52.3 210.0,51.3 C213.6,50.3 214.4,50.3 220.0,49.2 C225.6,48.1 235.7,45.6 243.4,44.5 C251.2,43.4 262.6,43.0 266.5,42.7" fill="none" stroke="#1ea6df" stroke-width="2.2" stroke-linecap="round"/>
<path d="M274.2,42.7 L265.2,38.4 L267.6,42.7 L265.2,47 Z" fill="#1ea6df"/>
<circle cx="87.7" cy="101.2" r="1.7" fill="#1ea6df"/>
<path d="M65.9,98.6 C67.6,99.4 72.7,100.9 76.2,103.5 C79.7,106.1 83.8,109.8 87.0,114.3 C90.2,118.8 92.8,124.6 95.1,130.5 C97.3,136.4 99.2,143.0 100.5,149.5 C101.8,156.0 102.1,164.3 102.7,169.6 C103.3,174.9 103.1,177.9 103.9,181.2 C104.7,184.5 105.9,186.8 107.4,189.3 C109.0,191.8 111.1,193.9 113.2,196.2 C115.3,198.5 117.6,200.9 120.1,203.2 C122.6,205.5 124.7,207.7 128.2,210.1 C131.7,212.5 137.4,215.5 141.0,217.5 C144.6,219.5 146.4,220.5 150.0,222.2 C153.6,223.9 158.8,225.9 162.7,227.8 C166.6,229.8 167.7,231.5 173.4,233.9 C179.1,236.3 188.9,239.9 196.7,242.0 C204.5,244.1 212.2,245.5 220.0,246.7 C227.8,247.9 235.7,248.5 243.4,249.0 C251.1,249.5 262.2,249.7 266.0,249.8" fill="none" stroke="#ee6a55" stroke-width="2.2" stroke-linecap="round"/>
<path d="M273,249.8 L264,245.5 L266.4,249.8 L264,254.1 Z" fill="#ee6a55"/>
<circle cx="65.9" cy="98.6" r="2.2" fill="#ee6a55"/>
<text x="3.6" y="321.8" font-size="13" fill="#3a2e2e" text-anchor="start" font-family="Liberation Sans, sans-serif" >c</text>
<rect x="40.8" y="330.6" width="175.8" height="144.7" fill="none" stroke="#555" stroke-width="1"/>
<line x1="39.0" y1="471.69" x2="40.8" y2="471.69" stroke="#777" stroke-width="0.6"/>
<line x1="39.0" y1="469.04" x2="40.8" y2="469.04" stroke="#777" stroke-width="0.6"/>
<line x1="39.0" y1="466.98" x2="40.8" y2="466.98" stroke="#777" stroke-width="0.6"/>
<line x1="39.0" y1="465.3" x2="40.8" y2="465.3" stroke="#777" stroke-width="0.6"/>
<line x1="39.0" y1="463.88" x2="40.8" y2="463.88" stroke="#777" stroke-width="0.6"/>
<line x1="39.0" y1="462.65" x2="40.8" y2="462.65" stroke="#777" stroke-width="0.6"/>
<line x1="39.0" y1="461.57" x2="40.8" y2="461.57" stroke="#777" stroke-width="0.6"/>
<line x1="39.0" y1="454.22" x2="40.8" y2="454.22" stroke="#777" stroke-width="0.6"/>
<line x1="39.0" y1="450.49" x2="40.8" y2="450.49" stroke="#777" stroke-width="0.6"/>
<line x1="39.0" y1="447.84" x2="40.8" y2="447.84" stroke="#777" stroke-width="0.6"/>
<line x1="39.0" y1="445.78" x2="40.8" y2="445.78" stroke="#777" stroke-width="0.6"/>
<line x1="39.0" y1="444.1" x2="40.8" y2="444.1" stroke="#777" stroke-width="0.6"/>
<line x1="39.0" y1="442.68" x2="40.8" y2="442.68" stroke="#777" stroke-width="0.6"/>
<line x1="39.0" y1="441.45" x2="40.8" y2="441.45" stroke="#777" stroke-width="0.6"/>
<line x1="39.0" y1="440.37" x2="40.8" y2="440.37" stroke="#777" stroke-width="0.6"/>
<line x1="39.0" y1="433.02" x2="40.8" y2="433.02" stroke="#777" stroke-width="0.6"/>
<line x1="39.0" y1="429.29" x2="40.8" y2="429.29" stroke="#777" stroke-width="0.6"/>
<line x1="39.0" y1="426.64" x2="40.8" y2="426.64" stroke="#777" stroke-width="0.6"/>
<line x1="39.0" y1="424.58" x2="40.8" y2="424.58" stroke="#777" stroke-width="0.6"/>
<line x1="39.0" y1="422.9" x2="40.8" y2="422.9" stroke="#777" stroke-width="0.6"/>
<line x1="39.0" y1="421.48" x2="40.8" y2="421.48" stroke="#777" stroke-width="0.6"/>
<line x1="39.0" y1="420.25" x2="40.8" y2="420.25" stroke="#777" stroke-width="0.6"/>
<line x1="39.0" y1="419.17" x2="40.8" y2="419.17" stroke="#777" stroke-width="0.6"/>
<line x1="39.0" y1="411.82" x2="40.8" y2="411.82" stroke="#777" stroke-width="0.6"/>
<line x1="39.0" y1="408.09" x2="40.8" y2="408.09" stroke="#777" stroke-width="0.6"/>
<line x1="39.0" y1="405.44" x2="40.8" y2="405.44" stroke="#777" stroke-width="0.6"/>
<line x1="39.0" y1="403.38" x2="40.8" y2="403.38" stroke="#777" stroke-width="0.6"/>
<line x1="39.0" y1="401.7" x2="40.8" y2="401.7" stroke="#777" stroke-width="0.6"/>
<line x1="39.0" y1="400.28" x2="40.8" y2="400.28" stroke="#777" stroke-width="0.6"/>
<line x1="39.0" y1="399.05" x2="40.8" y2="399.05" stroke="#777" stroke-width="0.6"/>
<line x1="39.0" y1="397.97" x2="40.8" y2="397.97" stroke="#777" stroke-width="0.6"/>
<line x1="39.0" y1="390.62" x2="40.8" y2="390.62" stroke="#777" stroke-width="0.6"/>
<line x1="39.0" y1="386.89" x2="40.8" y2="386.89" stroke="#777" stroke-width="0.6"/>
<line x1="39.0" y1="384.24" x2="40.8" y2="384.24" stroke="#777" stroke-width="0.6"/>
<line x1="39.0" y1="382.18" x2="40.8" y2="382.18" stroke="#777" stroke-width="0.6"/>
<line x1="39.0" y1="380.5" x2="40.8" y2="380.5" stroke="#777" stroke-width="0.6"/>
<line x1="39.0" y1="379.08" x2="40.8" y2="379.08" stroke="#777" stroke-width="0.6"/>
<line x1="39.0" y1="377.85" x2="40.8" y2="377.85" stroke="#777" stroke-width="0.6"/>
<line x1="39.0" y1="376.77" x2="40.8" y2="376.77" stroke="#777" stroke-width="0.6"/>
<line x1="39.0" y1="369.42" x2="40.8" y2="369.42" stroke="#777" stroke-width="0.6"/>
<line x1="39.0" y1="365.69" x2="40.8" y2="365.69" stroke="#777" stroke-width="0.6"/>
<line x1="39.0" y1="363.04" x2="40.8" y2="363.04" stroke="#777" stroke-width="0.6"/>
<line x1="39.0" y1="360.98" x2="40.8" y2="360.98" stroke="#777" stroke-width="0.6"/>
<line x1="39.0" y1="359.3" x2="40.8" y2="359.3" stroke="#777" stroke-width="0.6"/>
<line x1="39.0" y1="357.88" x2="40.8" y2="357.88" stroke="#777" stroke-width="0.6"/>
<line x1="39.0" y1="356.65" x2="40.8" y2="356.65" stroke="#777" stroke-width="0.6"/>
<line x1="39.0" y1="355.57" x2="40.8" y2="355.57" stroke="#777" stroke-width="0.6"/>
<line x1="39.0" y1="348.22" x2="40.8" y2="348.22" stroke="#777" stroke-width="0.6"/>
<line x1="39.0" y1="344.49" x2="40.8" y2="344.49" stroke="#777" stroke-width="0.6"/>
<line x1="39.0" y1="341.84" x2="40.8" y2="341.84" stroke="#777" stroke-width="0.6"/>
<line x1="39.0" y1="339.78" x2="40.8" y2="339.78" stroke="#777" stroke-width="0.6"/>
<line x1="39.0" y1="338.1" x2="40.8" y2="338.1" stroke="#777" stroke-width="0.6"/>
<line x1="39.0" y1="336.68" x2="40.8" y2="336.68" stroke="#777" stroke-width="0.6"/>
<line x1="39.0" y1="335.45" x2="40.8" y2="335.45" stroke="#777" stroke-width="0.6"/>
<line x1="39.0" y1="334.37" x2="40.8" y2="334.37" stroke="#777" stroke-width="0.6"/>
<line x1="37.8" y1="333.4" x2="40.8" y2="333.4" stroke="#444" stroke-width="0.8"/>
<line x1="37.8" y1="354.6" x2="40.8" y2="354.6" stroke="#444" stroke-width="0.8"/>
<line x1="37.8" y1="375.8" x2="40.8" y2="375.8" stroke="#444" stroke-width="0.8"/>
<line x1="37.8" y1="397" x2="40.8" y2="397" stroke="#444" stroke-width="0.8"/>
<line x1="37.8" y1="418.2" x2="40.8" y2="418.2" stroke="#444" stroke-width="0.8"/>
<line x1="37.8" y1="439.4" x2="40.8" y2="439.4" stroke="#444" stroke-width="0.8"/>
<line x1="37.8" y1="460.6" x2="40.8" y2="460.6" stroke="#444" stroke-width="0.8"/>
<text x="39.7" y="338.2" font-size="10.6" fill="#222" text-anchor="end" font-family="Liberation Sans, sans-serif">10<tspan font-size="9.8" dy="-6.4">1</tspan></text>
<text x="39.7" y="380.6" font-size="10.6" fill="#222" text-anchor="end" font-family="Liberation Sans, sans-serif">10<tspan font-size="9.8" dy="-6.4">–1</tspan></text>
<text x="39.7" y="423" font-size="10.6" fill="#222" text-anchor="end" font-family="Liberation Sans, sans-serif">10<tspan font-size="9.8" dy="-6.4">–3</tspan></text>
<text x="39.7" y="465.4" font-size="10.6" fill="#222" text-anchor="end" font-family="Liberation Sans, sans-serif">10<tspan font-size="9.8" dy="-6.4">–5</tspan></text>
<line x1="42.27" y1="475.3" x2="42.27" y2="477.1" stroke="#777" stroke-width="0.6"/>
<line x1="46.74" y1="475.3" x2="46.74" y2="477.1" stroke="#777" stroke-width="0.6"/>
<line x1="50.68" y1="475.3" x2="50.68" y2="477.1" stroke="#777" stroke-width="0.6"/>
<line x1="77.38" y1="475.3" x2="77.38" y2="477.1" stroke="#777" stroke-width="0.6"/>
<line x1="90.94" y1="475.3" x2="90.94" y2="477.1" stroke="#777" stroke-width="0.6"/>
<line x1="100.56" y1="475.3" x2="100.56" y2="477.1" stroke="#777" stroke-width="0.6"/>
<line x1="108.02" y1="475.3" x2="108.02" y2="477.1" stroke="#777" stroke-width="0.6"/>
<line x1="114.12" y1="475.3" x2="114.12" y2="477.1" stroke="#777" stroke-width="0.6"/>
<line x1="119.27" y1="475.3" x2="119.27" y2="477.1" stroke="#777" stroke-width="0.6"/>
<line x1="123.74" y1="475.3" x2="123.74" y2="477.1" stroke="#777" stroke-width="0.6"/>
<line x1="127.68" y1="475.3" x2="127.68" y2="477.1" stroke="#777" stroke-width="0.6"/>
<line x1="154.38" y1="475.3" x2="154.38" y2="477.1" stroke="#777" stroke-width="0.6"/>
<line x1="167.94" y1="475.3" x2="167.94" y2="477.1" stroke="#777" stroke-width="0.6"/>
<line x1="177.56" y1="475.3" x2="177.56" y2="477.1" stroke="#777" stroke-width="0.6"/>
<line x1="185.02" y1="475.3" x2="185.02" y2="477.1" stroke="#777" stroke-width="0.6"/>
<line x1="191.12" y1="475.3" x2="191.12" y2="477.1" stroke="#777" stroke-width="0.6"/>
<line x1="196.27" y1="475.3" x2="196.27" y2="477.1" stroke="#777" stroke-width="0.6"/>
<line x1="200.74" y1="475.3" x2="200.74" y2="477.1" stroke="#777" stroke-width="0.6"/>
<line x1="204.68" y1="475.3" x2="204.68" y2="477.1" stroke="#777" stroke-width="0.6"/>
<line x1="54.2" y1="475.3" x2="54.2" y2="478.3" stroke="#444" stroke-width="0.8"/>
<text x="54.9" y="491" font-size="10.6" fill="#222" text-anchor="middle" font-family="Liberation Sans, sans-serif">10<tspan font-size="9.8" dy="-6.6">–2</tspan></text>
<line x1="131.2" y1="475.3" x2="131.2" y2="478.3" stroke="#444" stroke-width="0.8"/>
<text x="131.9" y="491" font-size="10.6" fill="#222" text-anchor="middle" font-family="Liberation Sans, sans-serif">10<tspan font-size="9.8" dy="-6.6">–1</tspan></text>
<line x1="208.2" y1="475.3" x2="208.2" y2="478.3" stroke="#444" stroke-width="0.8"/>
<text x="208.9" y="491" font-size="10.6" fill="#222" text-anchor="middle" font-family="Liberation Sans, sans-serif">10<tspan font-size="9.8" dy="-6.6">0</tspan></text>
<text transform="translate(15.8,401.6) rotate(-90)" font-size="11" fill="#222" text-anchor="middle" font-family="Liberation Sans, sans-serif">PDF</text>
<text x="128.9" y="505.6" font-size="11" fill="#222" text-anchor="middle" font-family="Liberation Sans, sans-serif" >EC</text>
<line x1="173" y1="330.6" x2="173" y2="475.3" stroke="#2e9a4f" stroke-width="1.3" stroke-dasharray="3,1.8"/>
<polyline points="48.8,395.9 86.2,385.6 103.4,375.9 115,368.3 123.2,361.4 130.3,355.1 135.9,349.9 140.3,346 144.7,344.2 148.2,342.9 151.3,341.6 154.8,339.8 157.8,338.1 160.5,336.8 162.8,336.3 165.3,337.6 167.9,340.7 168.3,346 170.5,353.4 172.7,363.5 174.8,376.3 176.3,392.2 177.8,412.1 179.3,437.6 180.8,469" fill="none" stroke="#4b9bd8" stroke-width="1"/>
<path d="M48.8,393 L51.7,395.9 L48.8,398.8 L45.9,395.9 Z" fill="#a9cfee" fill-opacity="0.85" stroke="#4b9bd8" stroke-width="0.8"/>
<path d="M86.2,382.7 L89.1,385.6 L86.2,388.5 L83.3,385.6 Z" fill="#a9cfee" fill-opacity="0.85" stroke="#4b9bd8" stroke-width="0.8"/>
<path d="M103.4,373 L106.3,375.9 L103.4,378.8 L100.5,375.9 Z" fill="#a9cfee" fill-opacity="0.85" stroke="#4b9bd8" stroke-width="0.8"/>
<path d="M115,365.4 L117.9,368.3 L115,371.2 L112.1,368.3 Z" fill="#a9cfee" fill-opacity="0.85" stroke="#4b9bd8" stroke-width="0.8"/>
<path d="M123.2,358.5 L126.1,361.4 L123.2,364.3 L120.3,361.4 Z" fill="#a9cfee" fill-opacity="0.85" stroke="#4b9bd8" stroke-width="0.8"/>
<path d="M130.3,352.2 L133.2,355.1 L130.3,358 L127.4,355.1 Z" fill="#a9cfee" fill-opacity="0.85" stroke="#4b9bd8" stroke-width="0.8"/>
<path d="M135.9,347 L138.8,349.9 L135.9,352.8 L133,349.9 Z" fill="#a9cfee" fill-opacity="0.85" stroke="#4b9bd8" stroke-width="0.8"/>
<path d="M140.3,343.1 L143.2,346 L140.3,348.9 L137.4,346 Z" fill="#a9cfee" fill-opacity="0.85" stroke="#4b9bd8" stroke-width="0.8"/>
<path d="M144.7,341.3 L147.6,344.2 L144.7,347.1 L141.8,344.2 Z" fill="#a9cfee" fill-opacity="0.85" stroke="#4b9bd8" stroke-width="0.8"/>
<path d="M148.2,340 L151.1,342.9 L148.2,345.8 L145.3,342.9 Z" fill="#a9cfee" fill-opacity="0.85" stroke="#4b9bd8" stroke-width="0.8"/>
<path d="M151.3,338.7 L154.2,341.6 L151.3,344.5 L148.4,341.6 Z" fill="#a9cfee" fill-opacity="0.85" stroke="#4b9bd8" stroke-width="0.8"/>
<path d="M154.8,336.9 L157.7,339.8 L154.8,342.7 L151.9,339.8 Z" fill="#a9cfee" fill-opacity="0.85" stroke="#4b9bd8" stroke-width="0.8"/>
<path d="M157.8,335.2 L160.7,338.1 L157.8,341 L154.9,338.1 Z" fill="#a9cfee" fill-opacity="0.85" stroke="#4b9bd8" stroke-width="0.8"/>
<path d="M160.5,333.9 L163.4,336.8 L160.5,339.7 L157.6,336.8 Z" fill="#a9cfee" fill-opacity="0.85" stroke="#4b9bd8" stroke-width="0.8"/>
<path d="M162.8,333.4 L165.7,336.3 L162.8,339.2 L159.9,336.3 Z" fill="#a9cfee" fill-opacity="0.85" stroke="#4b9bd8" stroke-width="0.8"/>
<path d="M165.3,334.7 L168.2,337.6 L165.3,340.5 L162.4,337.6 Z" fill="#a9cfee" fill-opacity="0.85" stroke="#4b9bd8" stroke-width="0.8"/>
<path d="M167.9,337.8 L170.8,340.7 L167.9,343.6 L165,340.7 Z" fill="#a9cfee" fill-opacity="0.85" stroke="#4b9bd8" stroke-width="0.8"/>
<path d="M168.3,343.1 L171.2,346 L168.3,348.9 L165.4,346 Z" fill="#a9cfee" fill-opacity="0.85" stroke="#4b9bd8" stroke-width="0.8"/>
<path d="M170.5,350.5 L173.4,353.4 L170.5,356.3 L167.6,353.4 Z" fill="#a9cfee" fill-opacity="0.85" stroke="#4b9bd8" stroke-width="0.8"/>
<path d="M172.7,360.6 L175.6,363.5 L172.7,366.4 L169.8,363.5 Z" fill="#a9cfee" fill-opacity="0.85" stroke="#4b9bd8" stroke-width="0.8"/>
<path d="M174.8,373.4 L177.7,376.3 L174.8,379.2 L171.9,376.3 Z" fill="#a9cfee" fill-opacity="0.85" stroke="#4b9bd8" stroke-width="0.8"/>
<path d="M176.3,389.3 L179.2,392.2 L176.3,395.1 L173.4,392.2 Z" fill="#a9cfee" fill-opacity="0.85" stroke="#4b9bd8" stroke-width="0.8"/>
<path d="M177.8,409.2 L180.7,412.1 L177.8,415 L174.9,412.1 Z" fill="#a9cfee" fill-opacity="0.85" stroke="#4b9bd8" stroke-width="0.8"/>
<path d="M179.3,434.7 L182.2,437.6 L179.3,440.5 L176.4,437.6 Z" fill="#a9cfee" fill-opacity="0.85" stroke="#4b9bd8" stroke-width="0.8"/>
<path d="M180.8,466.1 L183.7,469 L180.8,471.9 L177.9,469 Z" fill="#a9cfee" fill-opacity="0.85" stroke="#4b9bd8" stroke-width="0.8"/>
<polyline points="75.7,386.4 112.7,361.4 130.1,350.3 142.1,347.4 150.4,345.5 157.4,341.6 162.7,340.3 167.5,342.8 172.3,348.6 175.7,358.6 178.8,369.9 181.8,376.7 184.8,381 187.5,383.1 190.1,386.5 192.2,389.7 194.8,390.1 196.4,393.3 198.1,399.6 199.8,405.6 201.3,412.4 203,414.5 204.5,420.9 206,424.1 207.5,397.5" fill="none" stroke="#d2405e" stroke-width="1"/>
<circle cx="75.7" cy="386.4" r="2.3" fill="#f3c4cf" fill-opacity="0.7" stroke="#d2405e" stroke-width="0.8"/>
<circle cx="112.7" cy="361.4" r="2.3" fill="#f3c4cf" fill-opacity="0.7" stroke="#d2405e" stroke-width="0.8"/>
<circle cx="130.1" cy="350.3" r="2.3" fill="#f3c4cf" fill-opacity="0.7" stroke="#d2405e" stroke-width="0.8"/>
<circle cx="142.1" cy="347.4" r="2.3" fill="#f3c4cf" fill-opacity="0.7" stroke="#d2405e" stroke-width="0.8"/>
<circle cx="150.4" cy="345.5" r="2.3" fill="#f3c4cf" fill-opacity="0.7" stroke="#d2405e" stroke-width="0.8"/>
<circle cx="157.4" cy="341.6" r="2.3" fill="#f3c4cf" fill-opacity="0.7" stroke="#d2405e" stroke-width="0.8"/>
<circle cx="162.7" cy="340.3" r="2.3" fill="#f3c4cf" fill-opacity="0.7" stroke="#d2405e" stroke-width="0.8"/>
<circle cx="167.5" cy="342.8" r="2.3" fill="#f3c4cf" fill-opacity="0.7" stroke="#d2405e" stroke-width="0.8"/>
<circle cx="172.3" cy="348.6" r="2.3" fill="#f3c4cf" fill-opacity="0.7" stroke="#d2405e" stroke-width="0.8"/>
<circle cx="175.7" cy="358.6" r="2.3" fill="#f3c4cf" fill-opacity="0.7" stroke="#d2405e" stroke-width="0.8"/>
<circle cx="178.8" cy="369.9" r="2.3" fill="#f3c4cf" fill-opacity="0.7" stroke="#d2405e" stroke-width="0.8"/>
<circle cx="181.8" cy="376.7" r="2.3" fill="#f3c4cf" fill-opacity="0.7" stroke="#d2405e" stroke-width="0.8"/>
<circle cx="184.8" cy="381" r="2.3" fill="#f3c4cf" fill-opacity="0.7" stroke="#d2405e" stroke-width="0.8"/>
<circle cx="187.5" cy="383.1" r="2.3" fill="#f3c4cf" fill-opacity="0.7" stroke="#d2405e" stroke-width="0.8"/>
<circle cx="190.1" cy="386.5" r="2.3" fill="#f3c4cf" fill-opacity="0.7" stroke="#d2405e" stroke-width="0.8"/>
<circle cx="192.2" cy="389.7" r="2.3" fill="#f3c4cf" fill-opacity="0.7" stroke="#d2405e" stroke-width="0.8"/>
<circle cx="194.8" cy="390.1" r="2.3" fill="#f3c4cf" fill-opacity="0.7" stroke="#d2405e" stroke-width="0.8"/>
<circle cx="196.4" cy="393.3" r="2.3" fill="#f3c4cf" fill-opacity="0.7" stroke="#d2405e" stroke-width="0.8"/>
<circle cx="198.1" cy="399.6" r="2.3" fill="#f3c4cf" fill-opacity="0.7" stroke="#d2405e" stroke-width="0.8"/>
<circle cx="199.8" cy="405.6" r="2.3" fill="#f3c4cf" fill-opacity="0.7" stroke="#d2405e" stroke-width="0.8"/>
<circle cx="201.3" cy="412.4" r="2.3" fill="#f3c4cf" fill-opacity="0.7" stroke="#d2405e" stroke-width="0.8"/>
<circle cx="203" cy="414.5" r="2.3" fill="#f3c4cf" fill-opacity="0.7" stroke="#d2405e" stroke-width="0.8"/>
<circle cx="204.5" cy="420.9" r="2.3" fill="#f3c4cf" fill-opacity="0.7" stroke="#d2405e" stroke-width="0.8"/>
<circle cx="206" cy="424.1" r="2.3" fill="#f3c4cf" fill-opacity="0.7" stroke="#d2405e" stroke-width="0.8"/>
<circle cx="207.5" cy="397.5" r="2.3" fill="#f3c4cf" fill-opacity="0.7" stroke="#d2405e" stroke-width="0.8"/>
<rect x="45.4" y="428.3" width="84.8" height="41.9" rx="2.5" fill="#fff" fill-opacity="0.85" stroke="#d0d0d0" stroke-width="0.8"/>
<line x1="49.3" y1="435.1" x2="68.6" y2="435.1" stroke="#d2405e" stroke-width="1"/>
<circle cx="58.9" cy="435.1" r="2.4" fill="#f3c4cf" stroke="#d2405e" stroke-width="0.8"/>
<line x1="49.3" y1="448.6" x2="68.6" y2="448.6" stroke="#4b9bd8" stroke-width="1"/>
<path d="M58.9,445.4 L62.3,448.6 L58.9,451.8 L55.5,448.6 Z" fill="#a9cfee" stroke="#4b9bd8" stroke-width="0.8"/>
<line x1="49.3" y1="461.7" x2="68.6" y2="461.7" stroke="#2e9a4f" stroke-width="1.3" stroke-dasharray="3,1.8"/>
<text x="75.8" y="439" font-size="11" fill="#222" text-anchor="start" font-family="Liberation Sans, sans-serif" >Real</text>
<text x="75.8" y="452.2" font-size="11" fill="#222" text-anchor="start" font-family="Liberation Sans, sans-serif" >Null model</text>
<text x="75.8" y="465.4" font-size="11" fill="#222" text-anchor="start" font-family="Liberation Sans, sans-serif" >Δ = 0.351</text>
<text x="240.6" y="322" font-size="13" fill="#3a2e2e" text-anchor="start" font-family="Liberation Sans, sans-serif" >d</text>
<path d="M279.2,447.6 C281,447.47 286.53,447.02 290,446.8 C293.47,446.58 297.3,446.6 300,446.3 C302.7,446 304.2,445.72 306.2,445 C308.2,444.28 309.98,443.75 312,442 C314.02,440.25 316.47,436.92 318.3,434.5 C320.13,432.08 321.4,430.42 323,427.5 C324.6,424.58 326.57,420.42 327.9,417 C329.23,413.58 330.12,410.62 331,407 C331.88,403.38 332.45,399.8 333.2,395.3 C333.95,390.8 334.77,385.22 335.5,380 C336.23,374.78 336.93,368.5 337.6,364 C338.27,359.5 338.9,355.53 339.5,353 C340.1,350.47 340.65,348.97 341.2,348.8 C341.75,348.63 342.2,349.47 342.8,352 C343.4,354.53 344.17,359.33 344.8,364 C345.43,368.67 346,374.78 346.6,380 C347.2,385.22 347.75,390.8 348.4,395.3 C349.05,399.8 349.68,403.38 350.5,407 C351.32,410.62 352.22,413.67 353.3,417 C354.38,420.33 355.6,424.08 357,427 C358.4,429.92 360.03,432.53 361.7,434.5 C363.37,436.47 364.98,437.63 367,438.8 C369.02,439.97 371.3,440.7 373.8,441.5 C376.3,442.3 379.18,442.92 382,443.6 C384.82,444.28 387.7,445.07 390.7,445.6 C393.7,446.13 396.78,446.52 400,446.8 C403.22,447.08 406.73,447.17 410,447.3 C413.27,447.43 418,447.55 419.6,447.6 L419.6,448.1 L279.2,448.1 Z" fill="#f0a070" fill-opacity="0.45"/>
<path d="M314.6,447.6 C314.6,447.17 313.7,446.02 314.6,445 C315.5,443.98 318.18,442.93 320,441.5 C321.82,440.07 323.83,438.82 325.5,436.4 C327.17,433.98 328.58,430.63 330,427 C331.42,423.37 332.83,419.1 334,414.6 C335.17,410.1 336,405.22 337,400 C338,394.78 339.08,387.97 340,383.3 C340.92,378.63 341.7,375.22 342.5,372 C343.3,368.78 344.02,366.5 344.8,364 C345.58,361.5 346.4,358.7 347.2,357 C348,355.3 348.8,353.72 349.6,353.8 C350.4,353.88 351.18,355 352,357.5 C352.82,360 353.67,364.72 354.5,368.8 C355.33,372.88 356.2,377.58 357,382 C357.8,386.42 358.42,390.97 359.3,395.3 C360.18,399.63 361.3,403.97 362.3,408 C363.3,412.03 364.1,415.92 365.3,419.5 C366.5,423.08 368.08,426.68 369.5,429.5 C370.92,432.32 372.3,434.55 373.8,436.4 C375.3,438.25 376.9,439.4 378.5,440.6 C380.1,441.8 381.65,442.82 383.4,443.6 C385.15,444.38 387.18,444.87 389,445.3 C390.82,445.73 393.42,445.82 394.3,446.2 C395.18,446.58 394.3,447.37 394.3,447.6 L394.3,448.1 L314.6,448.1 Z" fill="#8fd0e6" fill-opacity="0.4"/>
<clipPath id="cpo"><path d="M279.2,447.6 C281,447.47 286.53,447.02 290,446.8 C293.47,446.58 297.3,446.6 300,446.3 C302.7,446 304.2,445.72 306.2,445 C308.2,444.28 309.98,443.75 312,442 C314.02,440.25 316.47,436.92 318.3,434.5 C320.13,432.08 321.4,430.42 323,427.5 C324.6,424.58 326.57,420.42 327.9,417 C329.23,413.58 330.12,410.62 331,407 C331.88,403.38 332.45,399.8 333.2,395.3 C333.95,390.8 334.77,385.22 335.5,380 C336.23,374.78 336.93,368.5 337.6,364 C338.27,359.5 338.9,355.53 339.5,353 C340.1,350.47 340.65,348.97 341.2,348.8 C341.75,348.63 342.2,349.47 342.8,352 C343.4,354.53 344.17,359.33 344.8,364 C345.43,368.67 346,374.78 346.6,380 C347.2,385.22 347.75,390.8 348.4,395.3 C349.05,399.8 349.68,403.38 350.5,407 C351.32,410.62 352.22,413.67 353.3,417 C354.38,420.33 355.6,424.08 357,427 C358.4,429.92 360.03,432.53 361.7,434.5 C363.37,436.47 364.98,437.63 367,438.8 C369.02,439.97 371.3,440.7 373.8,441.5 C376.3,442.3 379.18,442.92 382,443.6 C384.82,444.28 387.7,445.07 390.7,445.6 C393.7,446.13 396.78,446.52 400,446.8 C403.22,447.08 406.73,447.17 410,447.3 C413.27,447.43 418,447.55 419.6,447.6 L419.6,448.1 L279.2,448.1 Z"/></clipPath>
<path d="M314.6,447.6 C314.6,447.17 313.7,446.02 314.6,445 C315.5,443.98 318.18,442.93 320,441.5 C321.82,440.07 323.83,438.82 325.5,436.4 C327.17,433.98 328.58,430.63 330,427 C331.42,423.37 332.83,419.1 334,414.6 C335.17,410.1 336,405.22 337,400 C338,394.78 339.08,387.97 340,383.3 C340.92,378.63 341.7,375.22 342.5,372 C343.3,368.78 344.02,366.5 344.8,364 C345.58,361.5 346.4,358.7 347.2,357 C348,355.3 348.8,353.72 349.6,353.8 C350.4,353.88 351.18,355 352,357.5 C352.82,360 353.67,364.72 354.5,368.8 C355.33,372.88 356.2,377.58 357,382 C357.8,386.42 358.42,390.97 359.3,395.3 C360.18,399.63 361.3,403.97 362.3,408 C363.3,412.03 364.1,415.92 365.3,419.5 C366.5,423.08 368.08,426.68 369.5,429.5 C370.92,432.32 372.3,434.55 373.8,436.4 C375.3,438.25 376.9,439.4 378.5,440.6 C380.1,441.8 381.65,442.82 383.4,443.6 C385.15,444.38 387.18,444.87 389,445.3 C390.82,445.73 393.42,445.82 394.3,446.2 C395.18,446.58 394.3,447.37 394.3,447.6 L394.3,448.1 L314.6,448.1 Z" fill="#d0c4b4" fill-opacity="0.3" clip-path="url(#cpo)"/>
<path d="M279.2,447.6 C281,447.47 286.53,447.02 290,446.8 C293.47,446.58 297.3,446.6 300,446.3 C302.7,446 304.2,445.72 306.2,445 C308.2,444.28 309.98,443.75 312,442 C314.02,440.25 316.47,436.92 318.3,434.5 C320.13,432.08 321.4,430.42 323,427.5 C324.6,424.58 326.57,420.42 327.9,417 C329.23,413.58 330.12,410.62 331,407 C331.88,403.38 332.45,399.8 333.2,395.3 C333.95,390.8 334.77,385.22 335.5,380 C336.23,374.78 336.93,368.5 337.6,364 C338.27,359.5 338.9,355.53 339.5,353 C340.1,350.47 340.65,348.97 341.2,348.8 C341.75,348.63 342.2,349.47 342.8,352 C343.4,354.53 344.17,359.33 344.8,364 C345.43,368.67 346,374.78 346.6,380 C347.2,385.22 347.75,390.8 348.4,395.3 C349.05,399.8 349.68,403.38 350.5,407 C351.32,410.62 352.22,413.67 353.3,417 C354.38,420.33 355.6,424.08 357,427 C358.4,429.92 360.03,432.53 361.7,434.5 C363.37,436.47 364.98,437.63 367,438.8 C369.02,439.97 371.3,440.7 373.8,441.5 C376.3,442.3 379.18,442.92 382,443.6 C384.82,444.28 387.7,445.07 390.7,445.6 C393.7,446.13 396.78,446.52 400,446.8 C403.22,447.08 406.73,447.17 410,447.3 C413.27,447.43 418,447.55 419.6,447.6" fill="none" stroke="#e8874f" stroke-width="1"/>
<path d="M314.6,447.6 C314.6,447.17 313.7,446.02 314.6,445 C315.5,443.98 318.18,442.93 320,441.5 C321.82,440.07 323.83,438.82 325.5,436.4 C327.17,433.98 328.58,430.63 330,427 C331.42,423.37 332.83,419.1 334,414.6 C335.17,410.1 336,405.22 337,400 C338,394.78 339.08,387.97 340,383.3 C340.92,378.63 341.7,375.22 342.5,372 C343.3,368.78 344.02,366.5 344.8,364 C345.58,361.5 346.4,358.7 347.2,357 C348,355.3 348.8,353.72 349.6,353.8 C350.4,353.88 351.18,355 352,357.5 C352.82,360 353.67,364.72 354.5,368.8 C355.33,372.88 356.2,377.58 357,382 C357.8,386.42 358.42,390.97 359.3,395.3 C360.18,399.63 361.3,403.97 362.3,408 C363.3,412.03 364.1,415.92 365.3,419.5 C366.5,423.08 368.08,426.68 369.5,429.5 C370.92,432.32 372.3,434.55 373.8,436.4 C375.3,438.25 376.9,439.4 378.5,440.6 C380.1,441.8 381.65,442.82 383.4,443.6 C385.15,444.38 387.18,444.87 389,445.3 C390.82,445.73 393.42,445.82 394.3,446.2 C395.18,446.58 394.3,447.37 394.3,447.6" fill="none" stroke="#5fc0e0" stroke-width="1"/>
<line x1="341.7" y1="343.5" x2="341.7" y2="448.1" stroke="#888" stroke-width="0.7" stroke-dasharray="2,1.5"/>
<rect x="272.4" y="343.5" width="154.5" height="104.6" fill="none" stroke="#555" stroke-width="1"/>
<line x1="269.4" y1="363.7" x2="272.4" y2="363.7" stroke="#444" stroke-width="0.8"/>
<text x="268.8" y="367.3" font-size="10.5" fill="#222" text-anchor="end" font-family="Liberation Sans, sans-serif" >0.3</text>
<line x1="269.4" y1="418.2" x2="272.4" y2="418.2" stroke="#444" stroke-width="0.8"/>
<text x="268.8" y="421.8" font-size="10.5" fill="#222" text-anchor="end" font-family="Liberation Sans, sans-serif" >0.1</text>
<line x1="270.4" y1="391" x2="272.4" y2="391" stroke="#777" stroke-width="0.6"/>
<text transform="translate(250.6,392.8) rotate(-90)" font-size="10.5" fill="#222" text-anchor="middle" font-family="Liberation Sans, sans-serif">PDF</text>
<line x1="297.8" y1="448.1" x2="297.8" y2="451.1" stroke="#444" stroke-width="0.8"/>
<text x="297.8" y="459.8" font-size="10.5" fill="#222" text-anchor="middle" font-family="Liberation Sans, sans-serif" >−5</text>
<line x1="341.7" y1="448.1" x2="341.7" y2="451.1" stroke="#444" stroke-width="0.8"/>
<text x="341.7" y="459.8" font-size="10.5" fill="#222" text-anchor="middle" font-family="Liberation Sans, sans-serif" >0</text>
<line x1="385.6" y1="448.1" x2="385.6" y2="451.1" stroke="#444" stroke-width="0.8"/>
<text x="385.6" y="459.8" font-size="10.5" fill="#222" text-anchor="middle" font-family="Liberation Sans, sans-serif" >5</text>
<rect x="355" y="347" width="71.4" height="24.2" rx="2" fill="#fff" fill-opacity="0.85" stroke="#d0d0d0" stroke-width="0.7"/>
<line x1="358" y1="353.1" x2="375" y2="353.1" stroke="#e8874f" stroke-width="1.2"/>
<line x1="358" y1="364" x2="375" y2="364" stroke="#8fd0e6" stroke-width="1.5"/>
<text x="380.5" y="356.2" font-size="8.6" fill="#222" text-anchor="start" font-family="Liberation Sans, sans-serif" >Symmetry</text>
<text x="380.5" y="367.1" font-size="8.6" fill="#222" text-anchor="start" font-family="Liberation Sans, sans-serif" >Asymmetry</text>
<line x1="314.4" y1="474.0" x2="341.2" y2="474.0" stroke="#777" stroke-width="1"/>
<line x1="358.8" y1="474.0" x2="384.9" y2="474.0" stroke="#777" stroke-width="1"/>
<line x1="314.4" y1="470.7" x2="314.4" y2="477.3" stroke="#777" stroke-width="1"/>
<line x1="384.9" y1="470.7" x2="384.9" y2="477.3" stroke="#777" stroke-width="1"/>
<rect x="341.2" y="467.9" width="17.6" height="12.2" fill="#5ab8dc" stroke="#3a3a3a" stroke-width="0.9"/>
<line x1="349.9" y1="467.9" x2="349.9" y2="480.1" stroke="#3a3a3a" stroke-width="1"/>
<circle cx="393.8" cy="474.0" r="1.55" fill="#555"/>
<line x1="305.7" y1="495.3" x2="332.4" y2="495.3" stroke="#777" stroke-width="1"/>
<line x1="349.9" y1="495.3" x2="376.3" y2="495.3" stroke="#777" stroke-width="1"/>
<line x1="305.7" y1="492.0" x2="305.7" y2="498.6" stroke="#777" stroke-width="1"/>
<line x1="376.3" y1="492.0" x2="376.3" y2="498.6" stroke="#777" stroke-width="1"/>
<rect x="332.4" y="489.2" width="17.5" height="12.2" fill="#e0804a" stroke="#3a3a3a" stroke-width="0.9"/>
<line x1="341.2" y1="489.2" x2="341.2" y2="501.4" stroke="#3a3a3a" stroke-width="1"/>
<circle cx="279.3" cy="495.3" r="1.55" fill="#555"/>
<circle cx="288.2" cy="495.3" r="1.55" fill="#555"/>
<circle cx="297.3" cy="495.3" r="1.55" fill="#555"/>
<circle cx="384.9" cy="495.3" r="1.55" fill="#555"/>
<circle cx="393.8" cy="495.3" r="1.55" fill="#555"/>
<circle cx="402.7" cy="495.3" r="1.55" fill="#555"/>
<circle cx="420.2" cy="495.3" r="1.55" fill="#555"/>
<text x="350.5" y="516.2" font-size="11.2" fill="#222" text-anchor="middle" font-family="Liberation Sans, sans-serif" >Time delay (Days)</text>
<text x="463.4" y="322.2" font-size="13" fill="#3a2e2e" text-anchor="start" font-family="Liberation Sans, sans-serif" >e</text>
<defs><clipPath id="ge"><ellipse cx="554.3" cy="416.9" rx="77.0" ry="76.615"/></clipPath></defs>
<g clip-path="url(#ge)">
<ellipse cx="554.3" cy="416.9" rx="77.0" ry="76.615" fill="#22738a"/>
<path d="M561.2,344.3l.1,.3-.5,0 .4-.3zM488,431.5l1.1-.1 1,.5 1.7,1.4 1.6,2.1-.1,2.1-1,1.2-1.7-.2-2.4-2.1-.5-3.1 .3-1.8z" fill="#41458a" fill-rule="evenodd" stroke="#41458a" stroke-width="0.3"/>
<path d="M558,342.4l3.2-.6 2.1,.1 6.2,1.7 1.6,1-1.1,1.1-1.4,.3-10.6,1.1-1-1.2-1.1-.3-1-1-.2-1 .1-.4 1.1-.6 2.1-.2zM560.8,344.6l.5,0-.1-.3-.4,.3zM483.8,388.6l-.9,8.8-1,3.1-2.4,5-.4-.7 0-3.2 .2-2.1 .7-1.1 0-2.1 2.4-6.3 1.4-1.4zM615.3,406.7l3.2-.4 1,.3 .6,1.3 .7,4.3 0,5.2-.7,1.1-1.6,1-2.2-.4-2.1-1-2.1-2.9-.9-2 .4-2.1 1-2.1 2.7-2.3zM478.5,409.7l0,2.3 0-2.3zM625.9,420.2l1-.4 1.1,1.6 .4,4.5-.2,2.1-2.3,4.1-2.1,1.6-1.1,0-.6-3.6 .6-5.3 1.1-2.4 2.1-2.2zM485.9,425.5l1.1,.3 3.1,2.1 4.2,3.2 2.1,2.2 3.5,5.2 .3,1.1-1,1-2.7,1.3-3.2-.1-3.2-1.1-2.1-1.9-2.3-3.4-1.2-3.2 0-5.3 .3-.8 1.1-.6zM487.7,432.2l.5,4.2 2.4,2.1 1.7,.2 1-1.2 .3-1.1-.9-2.1-1.5-1.6-2.1-1.3-1.1,.1-.3,.7z" fill="#3b4f8c" fill-rule="evenodd" stroke="#3b4f8c" stroke-width="0.3"/>
<path d="M503.9,338.3l10.2,0-5.9,.5-4.9-.5 .6,0zM528.3,338.3l5.1,0-3,.8-3.1-.8 1,0zM543.2,338.3l6.9,0-.6,1-2.5,1.1 2.5,.2 3.3-.2 0-2.1 3.4,0-2.1,1 1.6,1.1 3.4,.3 5.3-.1 3.2,1.2 4.2,.6 1.1,.6 2.1,.1 2.1,1.5 6.1,2.1 1.6,1.1 1.5,2.1 2.9,2.1 .5,1.1-.7,1 .4,1.1 8.9,5.9 3.1,4.6 6,6.4 1,2.1-.5,.9-2.2-.2-7.4-3.8-5.3-1.3-1.1,.1-3.1,2.4-5.3,1-3.2,3.6-2.1,.3-4.3-.4-2.1,.5-1.4,3.2-.7,.7-2.1-.2-5.3-2.9-2.2-.6-1,.6-1.2,2.4-.9,.7-1.1,.1-2.1-.8-2.1-2.1-1.5-2.1-.3-3.2-1.4-2.6-1.1-.9-3.2,.2-1-.8-.8-2.2-.5-4.2-2.7-1.1 .3-2.1 2-3.2-1.6,0-.2-1 3.1-2.1-1.4-1.1 2.5-1.1-1.7-1 2.3-1.1-8.8-.3-.9-.7 2.7-1.1-1.8-.4-4.2,.2-3.2,.6-1.4-.4 11-4.3 6.7-.9-1.7-1.1-.7-1.1 .3-1 .7,0zM557.2,342.5l-2.4,.7 0,1.2 3.2,2.7 10.6-1.1 1.4-.3 1.1-1.1-1.6-1-6.2-1.7-2.1-.1-4,.7zM550.5,350.9zM547,353.1l.7,0-.3-.3-.4,.3zM545,354.1l.6,0-.6,0zM547.4,355.2zM546.2,356.2l.1,.5 .4-.5-.5,0zM561.2,338.3l7,0-3.8,1.2-1.4-.2-2.2-1 .4,0zM575,338.3l58.3,0 0,1.2-12.7-.4-22.3,1.6-3.8-.3-5.7-1.7-8.5,1.9-3.2,.4-1.7-.6-.7-1.1 .3-1zM543.2,375.1zM476.4,380.4l9.5,0 1.2,2.2 0,1.1-1.7,8.4 0,3.2 .5,2.2 3.2,6.8 1,1.9 2.2,2.2 5.3,3 6.3,5.2 3.2,1.1 6.4,.5 6.3,3 3.2,1 9.6,.1 8.4,2.2 4.3,.7 10.6-.5 10.6,1 4.2-.5 7.5-2 8.4-.5 3.2-.6 3.1-1.5 4.3-3.1 7.5-2.5 2.1-2.2 .9-1.7 .7-3.2 2.1-3.1 2.7-2 5.8-2.3 2.3-3.1 2.5-2.4 .8-1.8 .1-2.2-.4-6.3-.8-1 .3-.7 9.5-.1 0,15-4.2,.1-.2,.4 .5,1.1 .4,3.2-.3,3.1 .6,1.3 .5-3.4 .6-.7 2.1,.1 0,14.4-1.1,0-1.5,3.1-.3,3.2-2.8,8.4-2.8,3.1-11.6,7-8.5,3-5.3,2.8-6.5,2-10.5,.5-2.1,.6-3.8,2.1-5.8,1.2-2.9-.1-5.5-1.7-4.3-.4-2.1,.9-.6,1.2-1.6,1-6.3,.3-9.9-1.3-1.8-.7-6.3-.1-5.3-.8-5.4-1.6-7.3-2.9-2.2-.3-12.7-3.7-2.1-.1-1.1,.3-1,1.1-1.1,.2-2.1-1.2-2.4-2.9-2.6-6.3-5.6-10.6-.8-4.2-1.3-1.5-1.1,0 0-38.7 1.1,0zM483.7,388.9l-1.3,1.1-2.4,6.3 0,2.1-.7,1.1-.2,2.1 0,3.2 .4,.7 2.4-5 1-3.1 .9-8.8-.1,.3zM614.9,406.9l-2.3,2.1-1,2.1-.4,2.1 .9,2 2.1,2.9 2.1,1 2.2,.4 1.6-1 .7-1.1 0-5.2-.7-4.3-.6-1.3-1-.3-2.2,.1-1.4,.5zM478.4,410l.1,2 0-2.3-.1,.3zM480.4,412.2l.7,3.1 1.6,2.7 9.1,7.9 2.6,1.4 .7-.4-5-4.9-4.2-3-4.2-7.1-1.1-.4-.2,.7zM625.4,420.6l-1.8,2.1-.9,2.1-.6,5.3 .6,3.6 1.1,0 2.1-1.6 2.3-4.1 .2-2.1-.4-4.5-1.1-1.6-1.5,.8zM485.1,425.9l-.8,2.1 .4,5.3 2.3,4.2 1.8,2.1 2.4,1.6 4.2,.8 1.9-.3 2.4-1.5 .5-.6-.8-2.1-4-5.3-8.4-6.4-1.1-.3-.8,.4zM614.8,425.9l-8,4.6-9.6,2.3-10.6,3.8-11.6,.7-11.7,3-12.7-1-5.9,1.3-2.6,1.1 7.4,1.7 4.3,.5 10.6-1.5 11.6,.4 4.3-.5 8.5-2.8 10.6-1.4 3.1-1.2 6.4-5 6.4-3.3 1.8-2.7-.8-.6-1.5,.6zM495.2,428l1.4,0-1.2-.6-.2,.6zM496.9,429l8.1,6.7 4.2,2.6 2.2,.6 5.3-.3 2.1,.2 8.5,3.4 3.1,.8 2.2-.2 4.1-1.1 1.7-1.1-10.1-2.7-10.6-1.3-11.6-5.6-8.5-2.5-.7,.5zM618.5,382.2l1.5,1.5 .3,1-2.1,3.2-.8,2.1-1.1-.4-.1-1.7 .7-1.1 .5-2.8 1.1-1.8z" fill="#2f6488" fill-rule="evenodd" stroke="#2f6488" stroke-width="0.3"/>
<path d="M476.4,338.3l26.9,0 4.9,.5 5.9-.5 13.2,0 3.1,.8 3-.8 9.1,0-.3,1 .7,1.1 1.7,1.1-6.7,.9-11,4.3 1.4,.4 3.2-.6 4.2-.2 1.8,.4-2.7,1.1 .9,.7 8.8,.3-2.3,1.1 1.7,1-2.5,1.1 1.4,1.1-3.1,2.1 .2,1 1.6,0-2,3.2-.3,2.1 2.7,1.1 .5,4.2 .8,2.2 1,.8 3.2-.2 1.1,.9 1.4,2.6 .3,3.2 .7,1 2.9,3.2 2.1,.8 1.1-.1 .9-.7 1.2-2.4 1-.6 2.2,.6 5.3,2.9 2.1,.2 .7-.7 1.4-3.2 2.1-.5 4.3,.4 2.1-.3 3.2-3.6 5.8-1.2 2.7-2.2 2.1,0 4.2,1.2 8.5,4.1 1.1-.1 .5-.9-1-2.1-6-6.4-3.1-4.6-8.9-5.9-.4-1.1 .7-1-.5-1.1-2.9-2.1-1.5-2.1-1.6-1.1-6.1-2.1-2.1-1.5-2.1-.1-1.1-.6-4.2-.6-3.2-1.2-5.3,.1-3.4-.3-1.6-1.1 .7-.6 1.4-.4 4.6,0 2.2,1 1.4,.2 3.8-1.2 6.7,0-.2,1 .7,1.1 1.7,.6 3.2-.4 8.5-1.9 5.7,1.7 3.8,.3 22.3-1.6 12.7,.4 0,8.2-13.8,0-12.7-2.1-15.9,1.4-6.4-1.6-1-.2-.3,.5 1.3,.1 1.1,1.1 1,0 1.1,1.1 1.1,.1 1,1.2 5.7,3.8 2.4,2.1 .9,2.1 3.3,4.2 2.5,4.2 5.4,6.1 5.3,8.2 2-2.7 .4-1-.5-2.1-2.1-4.3-.3-1 .5-.8 18-.7 0,15.5-9.5,.1-.3,.7 .8,1 .3,8.5-.8,1.8-2.5,2.4-1.8,2.6-1,.9-5.3,1.9-2.7,2-2.1,3.1-.7,3.2-.9,1.7-2.1,2.2-7.5,2.5-4.3,3.1-3.1,1.5-3.2,.6-8.4,.5-7.5,2-3.1,.4-12.8-1-9.5,.6-4.3-.7-8.4-2.2-9.6-.1-3.2-1-6.3-3-7.4-.7-2.2-.9-6.3-5.2-5.3-3-2.2-2.2-4.2-8.7-.5-2.2 0-3.2 1.7-9.5-1.2-2.2-10.6,0 0-11.3 5.3-.4 6-.9 7.8-.3 0,.7-1.8,2.8-.8,2.1-.7,7.4 2.3,11.6 .8,2.1 4.4,3.8 4.3,5.6 2.1,1.7 7.4,2.4 6.4,3.6 3.2,1.2 3.1-.2 4.3-1.9 2.1-.4 7.4,2.5 1.1-.2 1.9-1.2 4.4-.4 4.3,0 9.5,.9 10.6-1.7 10.6-.2 5.7-2.8 3.9-1.2 6.3,.8 3.2-.4 2.1-1.3 2.9-4.3 3.7-3.1 2-4.2 3.1-8.6 0-2.7-4.2-2.5-4.3-.3-5.3-1.4-6.3-.1-3.7,.8-.8,1-1.3,3.2-1.2,1.1-6.8,1.4-4.3,2-2.1,.6-8.5-.6-7.4,1-8.5-2.7-6.3-.5-2.3-1.2-5.2-5.7-4.2-2.3-1.7-3.6-.4-5-2.1-1.4-.1-1 .8-2.1 4.4-5.3-3,.3-1-.3 .7-1.1 2.4-2.1-4.2-.9 .2-1.2-1.3-.5-2.3,.5-5.1,2.5-3.2,.4-1.1-.5-.1-.3 1.2-1.5 1.1-.6-.9-1.1 .9-.2 1-1.1 1.1-.1 1-1.2 1.1-.1 1.1-1.4 1-.2-5.3-.4-10.6,1.1-5.3,0-7.4-1.3-5.5-1.4-3-1.2-10.6-.4 0-4.7 1.1,0zM543.1,375.2zM618.3,382.6l-.9,1.4-.5,2.8-.7,1.1 .1,1.7 1.1,.4 .8-2.1 2.1-3.2-.3-1-.9-1.1-.6-.4-.2,.4zM549.5,339.2l.6-.9 2.7,0 0,2.1-5.8,0 2.5-1.2zM550.6,350.9zM547.4,352.8l.3,.3-.3,.2-.4-.2 .4-.3zM545.3,354l.3,.1-.6,0 .3-.1zM547.4,355.2zM546.3,356.1l.4,.1-.4,.5 0-.6zM629.1,398l4.2-.1 0,5.2-2.1-.1-.6,.7-.5,3.4-.6-1.3 .3-3.1-.4-3.2-.5-1.1 .2-.4zM480.6,411.5l1.1,.4 4.2,7.1 4.2,3 5,4.9-.7,.4-2.6-1.4-9.1-7.9-1-1.3-1.1-2.8 0-2.4zM632.2,417.5l1.1,0 0,5.5-2.1,0-.3,2.9-1.7,6.3-2.3,7.5-1,1.7-4.3,.3-4.2,1-20.2,8.8-12.6,2.9-8.6,2.6-23.3,1.5-6.4-.2-20.1-2.6-25.5-7.9-1.8,.2-1.7,2.1-1.8,1.2-1,.3-2.1-.5-3.2-2.4-5-5.9-3.5-7.6-2.9-9.3-.3-2.1-2.1,0 0-4.7 1.1,0 1.3,1.5 .8,4.2 5.6,10.6 2,5.2 1.9,2.9 2.1,1.9 1.1,.4 1.1-.2 1-1.1 1.1-.3 2.1,.1 12.7,3.7 2.2,.3 7.3,2.9 5.4,1.6 5.3,.8 6.3,.1 1.8,.7 7.8,1.1 5.3,.2 3.1-.3 1.6-1 .6-1.2 2.1-.9 4.3,.4 5.5,1.7 2.9,.1 5.8-1.2 3.8-2.1 2.1-.6 10.5-.5 6.5-2 5.3-2.8 8.5-3 10.6-6.2 3.1-2.8 2.3-5.3 1.2-4.2 .3-3.2 1.5-3.1zM615.3,425.7l1-.4 .8,.6-.8,1.4-1.6,1.7-5.8,2.9-6.4,5-3.1,1.2-9.6,1.2-8.5,2.7-4.2,.7-11.7-.3-11.6,1.5-4.3-.5-7.4-1.7 2.6-1.1 5.9-1.3 12.7,1 11.7-3 11.6-.7 10.6-3.8 9.6-2.3 8.5-4.8zM495.4,427.4l1.2,.6-1.2,.1-.2-.1 .2-.6zM497.6,428.5l8.5,2.5 11.6,5.6 10.6,1.3 10.1,2.7-1.7,1.1-4.1,1.1-2.2,.2-3.1-.8-8.5-3.4-2.1-.2-5.3,.3-2.2-.6-4.2-2.6-8.1-6.7 .7-.5z" fill="#22738a" fill-rule="evenodd" stroke="#22738a" stroke-width="0.3"/>
<path d="M476.4,343l9.5,.4 3,1.2 5.5,1.4 7.4,1.3 5.3,0 10.6-1.1 5.3,.4-1,.2-1.1,1.4-1.1,.1-1,1.2-1.1,.1-1,1.1-.9,.2 .9,1.1-1.1,.6-1.2,1.5 .1,.3 1.1,.5 3.2-.4 5.1-2.5 2.3-.5 1.3,.5-.2,1.2 4.2,.9-2.4,2.1-.7,1.1 1,.3 3-.3-4.4,5.3-.8,2.1 .1,1 2.1,1.4 .4,5 1.7,3.6 4.2,2.3 5.2,5.7 2.3,1.2 6.3,.5 8.5,2.7 7.4-1 8.5,.6 2.1-.6 4.3-2 6.3-1.2 1.7-1.3 1.3-3.2 .8-1 1.5-.6 4.3-.2 4.2,.1 5.3,1.4 4.3,.3 4.2,2.5 0,2.7-3.1,8.6-2,4.2-3.7,3.1-2.9,4.3-2.1,1.3-3.2,.4-6.3-.8-3.9,1.2-5.7,2.8-10.6,.2-10.6,1.7-9.5-.9-4.3,0-4.4,.4-1.9,1.2-1.1,.2-7.4-2.5-2.1,.4-4.3,1.9-2.1,.2-2.1-.3-8.5-4.5-7.4-2.4-2.1-1.7-4.3-5.6-4.4-3.8-.8-2.1-2.3-11.6 .7-7.4 .8-2.1 1.8-2.8 0-.7-7.8,.3-6,.9-5.3,.4 0-4.6 22.3-.7 .3,.9-3.5,5.2-1.5,7.4 .2,4.2 1.3,5.3 1,2.6 7.4,8 2.2,1.8 3.2,1.6 12.7,4.7 8.5,.6 9.5,1.7 8.5-.1 10.6,.9 20.2-2.1 8.4-3.3 8.5-1.8 9.6-5.5 2.3-1.7 1.9-2.7 .2-1.5-.6-2.1-1.7-3.8-5.3-1.1-4.3,0-2.1,.8-2.6,3-1.5,1.1-7.5,2.1-3.2,3.2-2.1,1.1-8.5-.9-1.8,.8-2.5,2.7-2.1,.9-3.2-.4-7.4-2.4-5.3,.9-3.2-.4-2.4-1.3-6.1-4.4-6.5-1.9-1.3-1.1-1.6-2.1-2.4-5.3-.9-.8-3.2-.3-1-.6-1-2.5 2.4-6.3-.1-2.1-1.3,.1-3.6,3-1.7,1.1-1.1-.3-.6-.8-.4-3.7-2.2-.4-4.4,1 .2-2.1-2.1-1 0-1.1 6.3-7.8 3.4-2.8-.2-.4-9.5,1.1-17-1.2-10.6-.1 0-8.4 1.1,0zM583.5,345.2l7.4,1.8 15.9-1.4 12.7,2.1 13.8,0 0,4.2-21.2,1.3-14.9-1-.1,.9 2.3,1.5 2.5,2.7 2.1,3.1 4.8,5.3 2.2,4.2 4.3,4.6 .2-1.4-.2-1-3.8-6.4 .6-.8 21.2-.6 0,3.1-18,.7-.5,.8 .3,1 2.1,4.3 .5,2.1-.4,1-2,2.7-5.3-8.2-5.4-6.1-2.5-4.2-3.3-4.2-.9-2.1-2.4-2.1-5.7-3.8-1-1.2-1.1-.1-1.1-1.1-1,0-1.1-1.1-1.3-.1 .3-.5zM631.2,423l2.1,0 0,50-9.1-.7-14.2-2.1-1.1,.4-4.2,4-3.2,2.1-5.3,1.8-7.4,3.4-3.2,.6-7.4,.2-7.5,1.4-4.2,.1-11.7-1.6-7.4-.4-3.2-.9-3.4-1.6-1.3-1.1-1.8-3.1-1.1-1.1-7.2-4.3-7.4-3.2-8.5-1.4-10.6-5.3-1,.5 .7,3.2-.2,1-.6,.3-2.1-.5-5.3-3.5-.6,.5 4.5,6.4-.7,.4-4.3-4-8.5-.3-9.5,.4 0-40.8 2.1,0 .3,2.1 2.9,9.3 3.5,7.6 5,5.9 3.2,2.4 2.1,.5 1-.3 1.8-1.2 1.7-2.1 1.8-.2 25.5,7.9 20.1,2.6 5.3,.3 24.4-1.6 8.6-2.6 12.6-2.9 20.2-8.8 4.2-1 4.3-.3 1-1.7 2.3-7.5 1.7-6.3 .3-2.9zM498.6,468.8l0,.5 0-.5z" fill="#107e80" fill-rule="evenodd" stroke="#107e80" stroke-width="0.3"/>
<path d="M476.4,351.3l9.5,.2 17,1.2 9.5-1.1 .2,.4-3.4,2.8-6.3,7.8 0,1.1 2.1,1-.2,2.1 4.4-1 2.2,.4 .4,3.7 .6,.8 1.1,.3 1.7-1.1 3.6-3 1.3-.1 .1,2.1-2.4,6.3 1,2.5 1,.6 3.2,.3 .9,.8 2.4,5.3 1.6,2.1 1.3,1.1 6.5,1.9 6.1,4.4 2.4,1.3 3.2,.4 5.3-.9 7.4,2.4 2.2,.4 2.1-.3 1.7-1.2 1.8-2.1 1.8-.8 7.4,.9 2.1-.3 4.3-4 7.4-2 1.6-1.2 2.6-3 1.1-.6 2.1-.3 4.2,.3 4.3,.9 1.4,2.7 .9,4.2-1.2,2.2-2.2,2-8.7,5.3-2.9,1.2-7.5,1.5-6,2.6-3.5,.9-20.1,1.9-9.6-.9-8.5,.1-9.5-1.7-7.4-.5-3.2-.7-11.7-4.5-2.1-1.2-8.3-8.2-1.5-2.1-2.1-7.4-.2-4.2 1.5-7.4 3.5-5.2-.3-.9-22.3,.7 0-13.1 1.1-.1zM498.1,379.4l-.9,4.3 .4,2.5 1,1 2.1,.9 1.8,5.1 1.7,2.1 1.9,1.4 4.2,1.5 3.2,0 4.2,2.5 2.1,.6 8.5-2 2.1,.2 5.3,1.6 2.2,0 1.1-.6-.2-1-2-1.2-6.4-1.5-2.1-1.2-6.8-7.7-1.7-1.1-4.2-1.7-4.2-6-1.1-.3-2.1,.6-3.2,3.2-1.1,.4-1-.5-2.2-3.5-2.1-.3-.5,.7zM600.2,388.9l.2,.6 1.5-.6-.4-.5-1.3,.5zM632.2,352l1.1-.1 0,12.4-21.2,.6-.6,.8 3.8,6.4 .2,1-.2,1.4-4.3-4.6-2.2-4.2-4.8-5.3-2.1-3.1-2.5-2.7-2.3-1.5 .1-.9 14.9,1 20.1-1.2zM502.9,460.2l10.6,5.3 8.5,1.4 7.4,3.2 7.2,4.3 1.1,1.1 1.8,3.1 1.3,1.1 3.4,1.6 3.2,.9 7.4,.4 10.6,1.5 5.3,0 7.5-1.4 7.4-.2 3.2-.6 7.4-3.4 5.3-1.8 3.2-2.1 4.2-4 1.1-.4 14.2,2.1 9.1,.7 0,22.5-158,0 0-30.9 9.5-.4 8.5,.3 4.3,4 .7-.4-4.5-6.4 .6-.5 5.3,3.5 2.1,.5 .6-.3 .2-1-.7-3.2 1-.5zM498.5,469.1l.4,0-.3-.3-.1,.3zM510.1,473.4l2.3,2.4 6.1,4.9 1.4,2.2 1.4,1 3.8,2.1 5.3,2.1 3.6,0-1.4-.4-.6-.6-8.1-4.2-.7-1.1 1-1.1 .1-1-.6-1.1-1.7-1-9.6-4.9-2.1-.3-.2,1zM535.4,488.1l2,1.1 3.5,1 7.6,1.4 15.9-.3 3.1-1.1-6.3-1.6-8.5,.7-11.7-2.1-5.6,.9z" fill="#0f8e7e" fill-rule="evenodd" stroke="#0f8e7e" stroke-width="0.3"/>
<path d="M498.6,378.7l2.1,.3 2.2,3.5 1,.5 1.1-.4 3.2-3.2 2.1-.6 1.1,.3 4.2,6 4.2,1.7 1.7,1.1 6.8,7.7 2.1,1.2 6.4,1.5 2,1.2 .2,1-1.1,.6-2.2,0-5.3-1.6-2.1-.2-8.5,2-2.1-.6-4.2-2.5-3.2,0-4.2-1.5-1.9-1.4-1.7-2.1-1.8-5.1-2.1-.9-1-1-.3-3.6 1.3-3.9zM600.4,388.7l1.1-.3 .4,.5-1.5,.6-.2-.6 .2-.2zM510.3,472.4l1.1,0 2.6,1 9.7,5.2 .6,1.1-.1,1-1,1.1 .7,1.1 8.1,4.2 .6,.6 1.4,.4-3.6,0-5.3-2.1-3.8-2.1-1.4-1-1.4-2.2-7.5-6.3-.9-1 .2-1zM535.7,488.1l3.2-.8 2.1-.1 11.7,2.1 8.5-.7 6.3,1.6-3.1,1.1-15.9,.3-7.6-1.4-3.5-1-2-1.1 .3,0z" fill="#169c77" fill-rule="evenodd" stroke="#169c77" stroke-width="0.3"/>
<path d="M552,345l-3.1,.5-2.8,.8-2.3,1.2-1.5,1.1-1.1,1.6-.3,1.4 .3,1.3 1.1,1.6 2.1,1.5 3.2,1.3 3.9,.8 3.7,.1 4.1-.5 3.2-.9 2.9-1.5 1.8-1.9 .5-1.6-.3-1.6-1.1-1.6-2.1-1.5-2.4-1.1-2.9-.7-3.2-.4-3.7,.1M547.6,340.6l-9,1.3-3.6,1-4.4,1.4-4,1.8-2.6,1.5-2.3,1.7-2,1.7-1.6,1.9-1.2,1.9-.9,2.6-.2,2 .2,2 .9,2.7 1.2,1.9 1.6,1.8 2.7,2.3 3.3,2.2 3.9,1.8 4.3,1.6 6,1.5 5.1,.8 5.3,.5 5.3,.1 5.4-.3 6.5-.9 4.9-1 4.5-1.5 4.1-1.7 4.4-2.5 2.9-2.3 2.2-2.4 1.2-1.9 .9-2.7 .2-2-.2-2-.9-2.6-1.2-1.9-1.6-1.9-2.7-2.3-2.4-1.6-3.7-1.9-3.2-1.3-4.5-1.4-7.5-1.5-9.3-.7M553,340.3l-5.4,.3M490.9,373.5l-2.3,4.5-.8,3.4-.1,3.5 .3,2.3 .6,2.3 1.6,3.4 2.3,3.3 2.9,3.1 5,3.9 4.3,2.7 5,2.5 5.4,2.2 7.9,2.4 8.5,1.9 6.7,1 9.1,.8 7,.2 9.3-.3 6.8-.7 6.7-1 8.5-1.9 7.9-2.4 5.4-2.2 5-2.5 4.3-2.7 5-3.9 2.9-3.1 2.9-4.4 1.3-3.5 .6-3.4-.1-3.5-.5-2.3-.8-2.3-1.8-3.3M477.3,418.2l.7,4 1,2.7 2.1,3.8 2.9,3.8 3.6,3.6 2.9,2.2 4.8,3.2 5.5,3 6.1,2.6 6.6,2.3 4.7,1.3 7.3,1.7 7.6,1.3 7.8,.9 13.4,.6 13.4-.6 7.8-.9 7.6-1.3 5-1.1 7-1.9 6.6-2.3 6.1-2.6 5.5-3 4.8-3.2 2.9-2.2 3.6-3.6 2.9-3.8 2.1-3.8 1.3-4 .4-4M491.6,461.4l3.8,4.3 3.6,2.9 2.8,1.9 6.2,3.4 9,3.7 10.2,2.8 8.7,1.6 9.1,.9 9.3,.4 9.3-.4 9.1-.9 10.8-2.1 8.1-2.3 7.3-2.9 5-2.4 2.9-1.8 5.2-3.8 3.2-3.1 1.8-2.2M547.6,340.6l.8,.1 1.3,.9 2.3,3.4M525.2,346l4.4-1.2 4.6-.5 4.8,.4 3.3,.7 3.4,1.1M492.9,370.6l4.4-4.9 5-4.3 5.5-3.7 6-3.1 6.5-2.4 6.9-1.7 7.2-1 7.3-.2M481.4,441.6l-1.8-6.6-.9-6.8-.2-7 .7-6.9 1.5-7 2.3-6.8 3.1-6.7 3.9-6.4 4.5-6.1 5.3-5.7 5.8-5.3 6.3-4.7 6.8-4.2 7.2-3.5 7.5-2.9 7.7-2.3M514.8,482.7l-2.9-2-2.8-2.3-2.5-2.6-2.3-2.9-2.1-3.1-1.8-3.4-1.5-3.7-1.3-3.8-1-4.1-.7-4.3-.6-9 .6-9.5 1.7-9.7 2.8-9.9 3.9-9.8 4.8-9.5 5.7-9 6.5-8.4 7.1-7.6 7.7-6.7 8-5.6M540.3,492.2l-1.5-.5-1.4-.8-1.4-1.3-1.3-1.6-1.7-3-1-2.4-1.8-5.8-1.5-8.9-.6-8.3-.1-9 .4-9.8 1.2-12.8 1.4-10.5 2-10.5 2.4-10.3 3.4-12.3 3.1-9.2 3.4-8.3 4.4-9.1M561.4,493.2l.8-.4 .7-.8 1.6-3.6 1.1-4.3 1.1-7.4 .6-7.1 .3-8.2 .1-9.1-.3-12.3-1.3-20.9-2.5-23.7-1.8-12.4-1.6-9.2-3.6-15.7M584.8,487.3l2.6-1.5 2.5-1.7 2.3-2.1 2.1-2.4 2-2.7 1.7-2.9 1.5-3.3 1.3-3.5 1.9-7.8 .6-4.2 .5-6.7-.3-9.4-1.2-9.8-1.5-7.5-1.3-5.1-3.2-10.1-4.1-9.9-4.8-9.5-5.4-8.9-6-8.2-6.4-7.2-6.7-6.2M617,461.4l2.3-3.6 2.1-3.9 2.5-6.1 1.7-6.5 .7-4.4 .3-4.6 0-4.6-.3-4.7-1.2-7.1-2-7-2.7-7-3.4-6.8-2.7-4.4-3-4.3-3.2-4.2-3.5-3.9-5.8-5.6-6.2-5.1-4.3-3.1-4.6-2.9-4.7-2.6-4.8-2.3-7.3-2.9M626.4,390.1l-1.8-4.2-2.1-4.1-2.5-3.8-2.8-3.7-4.8-5.1-3.6-3.2-3.8-2.9-4-2.6-4.3-2.3-4.5-2.1-4.7-1.8-4.8-1.4-5-1.2-5.1-.8-5.1-.5M592.2,350.2l-3.2-1.5-3.4-1.1-5.4-1.1-3.8-.3-3.9,0-3.9,.4-4.1,.7M567.5,341.4l-1.7,.1-2.5,.7-2.6,1.6-1.8,1.5" fill="none" stroke="#1a2a2a" stroke-width="0.5" opacity="0.9"/>
<path d="M486.1,421.9l.9-.7 1.4,.1 0-3.1 .6-1-.4-2.3 .6-1.2-.4-1.5 .1-1 .5-1.1 1.4-.2 .4,.4 1.1,.1 1.1,.7 .6-.3 1.7,.8 1-.4 .7,.4 .6-.2 .9,.1 3.4-2.5 1.5-2.4 .9-.7 .4-1.3-.1-1.5 .2-2 .4-.8 0-1.5 2.4-.4 1-.8-.8-1.2-.7-.3-1,.1 0-1.6 .5-1.2 2.4-1.1 .9,.3-.8,2.3 1-1 1.7,.1 .4,1-.4,1.3 0,2.3-.5,2-1,.9 .7,1.1 .9-.5 1,.3 1.2-2.9-.6-.8 0-1.6 1.7-1.1 2-.9 .7-1.2 3.5-.2 1.4-.4 1.4-.7 3.2-1.9 .4-1.3 .9-.1 2.3-4.1 .8-1-.7-.2-.7-2.3-.9-.2-.6-.8 .8-.5 .4-.6 2.6-1.1 1,.1 2.2-1 .7,.5 1.6,.2 .2-.5 1.1,.4 1.7-.3 .1,.3 .5,0 .2,.3 1.5-.3 .6-1.2 .9-.7 .8,.4 .1-.5 1.6,0 .4-.3 .3,.4 .7-.2 .8,1.2 .6-.8 .2-.8 2.2-.9 .4,.3 .2-.2 .6,.1 .8-.4 .3-.7 .9-.3 .4,.4 .5-.2 1.6-1 .4-1 .5-.4 .6-.1 .5,.4 .3-.6 1.1,.5 .2-.3 .7,.2 0-.4 .9,.4 .7,0-.6-.4-1-1.5-.3,.4-.7-.8-.4,.3-.7,0-.4-.8-.4,.2-2.2-1.2-.3,.3-1.1-.4-.2,.3-.8-.2-2.2,.1-.1,.2-.5-.2-.3-.5-1.2,.2-.4-.2-.2-.4-.4,.1-.7-.5-1.1,0-.6-.4-.5,.1-.3-.5-.1,.2-.6-.4-.4,.3-.4-.1-.1-.7-.5,.3-.3-.6 .1-.2-.5,.3-.4-.3 .1-.6-.7,.4-.2-.4-.3,0-.1-.3-.4-.1-1.1,.6 0-.3-.6,.4-.3-.3 0-.2-1,.1-.4-1-.4,.1 .9-1.7-.7,.1 .3-.3-.6,.3 .1-.4-.9,.2-.2-.4-.6-.1-.2-.3-.4,0-.2-.2 .3-.7-.3-.2 2.5-1.8 .2-.3-.4,.1 .6-.6-.2-.3 .4-.3-.3,0 .4-.4-2.1-.1 .4-.3-2.1,0 .3-.3-.9,.2-.8-.1 .1-.2-1,0 .2-.2-.6,0-.3-.1 0-.4-.8-.2 .4-.3-.9,0M549.5,379l0,1.4-.3,.2-1.5,4.3-.5,.7-1.7,1.8-1.3,.3-1.1,.7-.1-1.5 .4-1.1 0-2.7 1.2-2.1 .9-.5 .6-1.2 1.9-1.8 2.1-.7M529.2,392.7l.4-1.4 .9-1 .7-1.4 .9-.8 .1-.9 .7-1.5 .2-1.5 .5-1-.2-.4-.4,1.2-1.2,1.4-1,3.7-1.6,3.6M512.4,407.8l-.3-1.6 .3-1 1.7-.7 2.3,0 1,.5 .6,.5-.1,1.1 .4-.6 1.3-.3 .4,.5 3.4-.7 3-4.7 .4-1.3-.1-1.1-1,.1-.7,.5-.6,1.9-1.8,1.6-2.9,.5-.7,1-.3-.5-1.5,.4-.6-.6-3.3,1.4-.2,1.4-.8,.5 .1,1.2M525.5,397.8l.8-.2 .9-.7 .6,.8 .8,.2 .9-.8 1.4,0 .3-1.5-.9-1.4-.6,.1-.8-.9-1.1,1.1-.4,1.3-1.2,.8-.7,1.2M500.3,415.3l1.1-1.6 .2-1.1 .6-.9-1.1,.4-1,1.6 .2,1.6M499,419.6l-1.8,3.9 .4,1.3 .8,1.1 1.5,1.5 .4,1.2 .3-1.9-.5-.5-1.4-2.6 1.1-1.4 .4-2-1.2-.6M501.1,432.5l.7,2.7-.6,1.6-1,.1-1.1-.8-.6-1.3-1-.5 1.8-.4 .2-.6 1.6-.8M498.2,428.8l1,3.2 1.1-.1 1.2-2.5-.5,.3-2.8-.9M493.1,431.6l1,2.4 .5,2.6-.7,1.7 .4,1.4-.5,.3-1.8,2.1 .1,1.3-1.1-.2-1.2-1.3-1-1.6-1.1-.8-.5-1.7-.5-3 .3-1.1 .9,.8 1-.4 .9,.2 1-.6 1.1-1 .3-.7 .9-.4M499.9,442.2l-1.9,.2-1.7-.7-.5-.5 .7,1.3 .1,.9-.8,.7 0,3 .2,.9 1.3,.2 .6-.7-.6-1.1-.2-1.6 .3-.7 1.1,.3 .4-1.8 1-.4M480.4,420.6l.1,2.3 .5,2.3 .4,.9-.1,.7 .7,3.6 0,1.1 2.1,6.8 1.2,2 0-1.3-.5-2.3-.5-1.6-1.1-4.8-1.2-3.8-.1-1.3-.5-1.1-.1-1.2-.9-2.3M485.4,440.4l2,3 .7,.2 .7,.9 .5,.3 .6,.9 .9,.3 .6,.9 .2,1.5-1-.8-2.1-2.5-1.2-.8-1.7-2.8-.2-1.1M484,431l-.4-3.3 .2-2-.4-1.2-.8-5.6 .1-1.1 .6-1.4 .1-1.4 .7-.7 .6,3.4 .5,.9-.1,1.1 .3,.7 0,2.1 .7,.4 .3-.7-.3-.3M482.6,407.7l.4-1 0-1.4 .6-1.4 0-.8 .5-1.4 0-1 .4-.9 .1-1.2-.6-.4-.8-1.3-.8,1.4-.2-.5-.9,1.2-.2-.7-1.2,1.6-1.8,6.1M484,431l-.4-1.3-.4-.3-.9-3.5 0-3.3 .3-.6-.4-2.8 0-1.7 1.1-3.8-.2-1.4 .8-3.2-.2-.6-.5,.2-.6-1M505.8,447.6l1.4,1.2 .9-.1 2.1,2.4 .6,.1 1.6,1.3 1.2,.3 1.6,0 .4,.3 1.4,.2 4.2,2.1 2,2.3 1.8,1.3 .1,1.6 1.8,1.8 0,.6 2.1,1.5-1.5-.9-1.6-.2-1.5-.6-.4-.8-1-.4-1.2-1.1-.9-.5-1.7,.8-1.8-.4-1.6-1.4-1.3-.5-.7-1.2-.1-1.7-2.6-1.8-2.2-1-.8-.8-.2-.6-2-3-.1-.8M519.4,462.9l.3,1 1.3,1.4 0,.9 1.2,.8 .3,.8 1.6,1.7-.1,.8 1,1.4 2.5,.8 1.6,2.1 1,.2 .7,.9 2.5,2 .4,.4-.1,.5 1.1,1.1 .3,.8-.3,1.5 .3,.5-.3,.7-1.2,.8-.2,1.2-.3,.1 .2,.5-2.6,0-2.4-.8-2.2-.3-2.5-1.2 0-.3-2-1.2-1.6-1.8 .3,.9-.3,.4-1.4-.8-.6-.8-1.3-.8-5.4-2.9-1.6-.6-.2,.2-.9-.6-.2,.6-.4-.1-2.5-1.3-.2,.1-.7-.3-2.3-1.8-3.8-4.8-2-2.9-1.3-3.1 2.1,.7-.1-.7 .9,.5 .1-.5 .9,.3 .3-.1 .7,.1 .3-1.1 .6-.1 .8-.5 1,.4 .6-.5 2.2,1.9 .5-.7-.2-.6 1-.9 1-.1 1.8,1.3 3.1,.9-.8,.6 .3,2.1 1.2,.6 .3,.6 3.9,2.1 .5,.8 .8-.7 .1-.5 .5-.4-.2-1.1-1-1.3 1.2-1.2-.1-.6M557.3,486l.6,.6 2.8,.9 2.6,0-.2,.4-3.5,1.5-.9-.1-.3-.5 .1-.4 .7-.4-.2-1.2-1.7-.8M557.1,489.1l1.4,.4-2.5,1.4-1.9,.2-.4,.2-2.7-.2 .8-.3 2.1-.3 .9-.4-.1-.2 2.4-.8M573.5,383l.5-.6 .9-.4 .5-.8 .1-.6 .8-.2 .5-1.5 .5-.4-.1-.8 .7-1.2 .7-.3-.2-.5 .5-1.2-.2-.9 .3-.7 .4,.1 .4-.5 1,.4 .3-.3 .9,.1 .6-.7 1.1,.3 .1-.5 1.8,.3 .4-.2 2.5,1.2 0-.3 2.8,.9 3.5,1.7 1.4,.3 1,.5 1.2,1.1 2.3,.5 1.7,1.8 .8,.4 .8,1.5 1,.7 .5,1.1 .8,.5 .5,1.1 1.6,1.6 3.7,2.9 1.7,.8 .6-.7 1.9,1.3 1.7,1.3 .5,.7 1.3,.7 1.1,1.5 .6,.2 1.1,1.4 .6,.4 .9,.1-.2-.3-.8,.2-.9-1.9-.9-.7-.6-1.3-.6-.3-.9-1.7-.7-.7M573.5,383l.6-.7 .5,0 .7-1.6 .7-.7-.1-2.8-.6,.5-.4-.6-2.5,.6-.8-.9-1.7-.7-.7-.8 .3-.8-.2-1-.6-.3-.7-1-.5-.1-.7-.7-.5-.1 .4,0 .6-.8 0-.4 .5-.3-1.8-1.3 .4-.1 .3-1 .4-.3 .1-1.7 .6-.4 .1-.7 .4-.1 1.3,.4 .1-.3 .4,.1 .6-.1-.1-.4 .2-.1 1.1,.2 0-.5 1.1,.3 .8-.5 .5,.2 .6,0 0-.4 .9,.2 0-.4 .7,.3-.3-.5 1,.1-.2-.7 .3,.2-.1-.7 .3-.4-.2-.6 .9,.2-.5-.8 1.5,0 0-.3 .7-.5 1.2,.1 .1-.4 1.1,0-.3-1.2 .4-.3-.2-.3 .5,0-.4-.5 .6-.1 .2-.7 .5,.1-.4-.3 .4-.3 .5,.1-.4-.3M565.8,387.5l-.5,.5-1.9-.2-.7,.9-2.2-.5-.8-.4-1.3,.1-1.7-.7M571.5,384.7l-.4,.6-.9,.5-.2,.6-1.9,.4M574.7,358.2l.3-.3-.5-.6 .1-.3-2.6-1.6 .8-.1-.4-.3 .9,0-.2-.3 .5,.1 .3-.4 1.8-.2-.3-.2 .8,.6 .3,.5 1.3,.9-.5,0 .9,.5-.3,.3 .9,.4-.7,.3 .1,.3-.8,0-.7-.2 0,.4-1.5-.1 .1,.3-.6,0M572.9,352.5l-2.6-.1-2-.7-.2-.3 .3-.1-.8-.3 2.1-.2-.2-.2 1.2,.1 .4,.4 1.8,.6 .3,.5-.6,.2 .3,.1M576.7,352.5l1.4,.9 2.5,.7 1.3,.9-1.3,0 .2,.3-.9-.1-3.2-.8 .3,0-1-.6-.5-.7 .6-.4 .7,0-.1-.2M567.2,349.8l-2.4-.6 .3,0-1.7-.1 .3-.2-1,0 .4-.1-.4,0 .3-.3-1-.1 3.5,0 0,.2 .9-.1-.3,.2 1.1,0 .7,.3 .2,.2-.5,.3-.6,.1 .2,.2M575.4,352.2l.3-.2-1.3-.6 .2,0-.1-.4-.7-.3 .6-.1-1.4-.6 .3-.1-1.5-.5 2.4,.1 .9,.5-.4,.1 1.1,.5-.3,.2 .8,.2-.4,.2 .6,.3-.5,.1 .3,.4-.9,.2M560.4,346.8l-.8,.2 .1-.3-.4,.3-.4-.2-.5,.3-.7,0 .2-.5-.5,0-.1-.4-.8-.1 .2-.2-.5,0-.4-.2 .1-.3-.4,.2-.2-.2 2.8-2.6 1.5-.8 1.5-.1 2.3-.1 6.4,.6 6.6,1.3 .3,.3-.2,0 .2,.2-.1,.1 .3,.2-4.7,.7 .5,.3-.5,.1 .2,.1-.2,.3 .1,.2-1,.4 .2,.1-.2,.2-.7,.2 0,.3-.6,.1 .1,.3-1.7,.5-4.3-.6-1.9,.1 .1-.2-.3,.1 .3-.2-.8-.1 .4-.2-.7,.1 .4-.1-.4,0-.1-.2 .2-.1-.8,.2-.1-.3M539.3,354.7l2.1-1.4 1.4-.1-.7,.5 .5-.1-1.3,.8 .2,.1-2.2,.2M534.4,348.2l1.7,.6 0,.2 .2,.2-.2,.1 .9,.1-.3,.3 .4,.1-.8,.3-.1,.2 .1-.2-.9,0-.4-.2 .5-.1-.8-.1 0-.4-1-.6-1.7-.2 2.4-.3M543.4,361.1l1.6-.6 .9,1.3-1.6,.7-.5-.5 .1-.6-.2-.3-.3,0M559.1,366.4l.7-.6-.5,.6M592.3,422.8l-.3-.1 .5,.3-.2-.2M595.4,424.5l-.5-.6 .9,.9-.4-.3M594.1,423.2l.2-.2 .2,.2-.4,0M522.3,435.2l.3-.2M523.6,433.4l.2-.2M537.1,463.1l.5,.8 2.9,.4 .6,.8 1.6,.6 .4,.5M534.5,460.6l1.3,1.3M547.4,475.9l2.9,1.6-1.6-.8-1.3-.8M563.9,472.6l1.2,.8-1.6-.3M550.4,471l1.1,1.4M501.4,454l-.4,.3-1.3-.2-.4,.5 1.7-.3 .4-.3M493.4,449.3l.8,1 4.2,1.9M491.8,412.4l-.4,.3-1,0 .3,1.3 .8-.7 .6,0-.3-.9M510.5,374.7l.6,0 .9-.5 .5,.4 2.6-1.2 .3-.3 .9-.2-2.1,1.2-1,0-1.2,.6-1.5,0M478.1,406l1.5-7.5 1.5-5.1 3.1-8.1 2.2-4.5M478.4,405.6l-.6,4.5 .6-4.5M481.3,409.7l-.9,3.3M587.4,351.5l.7,.4-.4,0 .3,.3 .9,.5-.1,.3 .8,.5-.2,.2 .8,.9-.5-.2 .7,.5-.2,.3 1,1-.2,.2 .4,.2 0,.3 2.4,1.3 .9,.3 1.2,0-.1-.2 .5,0 .6-.2 .3-.7-.2-.5 2.1,.3 0-.4 .3-.1-2.4-1.6-4.1-2.1-1.8-.7-3.7-.8M587.4,351.5l-.5-.6 .4,0-.5-.4-.1-.5 1.8,0-2.9-1.6 .8,0 .1-.3 .9,.2-.2-.2 1.3,.3-.1-.2 4.2,2.3 5.4,3.6M584.3,348.3l-5.8-1.7 .2,.3-.7,0 .5,.2-2.6,.7 .2,.3-1.2,.2 .6,.5-.7,.3 .3,.3-.4,.3 1.5,.5 .5,.4 3.4,1.2-.2-.2 1-.1-.1-.4 .5-.1-.2-.6 .8,.1-.1-.1 .4-.2 0-.5 .4-.2-.5-.5 1.4-.1 2.2,.8-.7-.5 0-.4-.3-.3-.4-.2M587.2,353.5l-1.9-.8 .3-.2-.5-.3 .6,0-.5-.3 .6,0-.2-.3 1.7,1.2 .2,.7-.3,0M581.8,356.2l-1.2-1.4-3.2-.8-.2,.2 .3,.4-.9,.1-.1,.2 .4,.3-.3,.1 .1,.4-.4,.2 .6,.4-.2,.1 .3,.5-.5-.1 .4,.7 1.2,.5 .1-.2 2,.3 .3-.1-.3-.3 1.2-.1-.4-.5 .6,0-.1-.6 .5,0-.2-.3M576.4,359.1l-2.8-1.6 .2,0-.1-.6 .2-.1-.3-.3 3.2,1.2 0,.3-.6,.4 .7,.6-.5,.1M571.2,349.3l-2.5-.8-4.3-.5 .2,0-1.9-.1 .3,0-.4,.2 .3,0-.5,.2 .6,0-.8,.5 .9,.1-.1,.2 .6-.1-.3,.2 .3,0-.2,.1 .9,.1-.2,.2 .5,0-.2,.1 .3,.1 2.8,.6 2.5-.1 0-.1-.2,0 .5-.2-.1-.1 .7-.1-.3-.3 .6-.2M574.7,351.5l-2.1-.6-.1-.1 .3-.1-1.2-.8 1.5-.3-.1-.2 .4,.2-.3,.2 1,.4-.4-.1 .8,.6-.6,.1 .8,.4-.4,.1 .4,.2M574.2,355.6l-2.2-.2-.2-.5 .5,0-.6-.5 .5,0-.3-.3 .8-.1 1.2-.4-.3,0-.1,.3 .9,.7-.5,0 .2,.3-.2,.5 .3,.2M589.6,363.6l-.7-1.1 0-.5 .3-.4 .6,.2 .3-.2 .4,1-.3,.3 .3,.5-.9-.1 0,.3M584,363.4l-.5-.5 .3-.1-.2-.6-.6-.7 .2-.1 .1-.3 .8,0 .5,.8 .1,.3-.3,0 .2,.7-.8,0 .2,.5M603.2,364.4l-3.4-1.6 .8-.1 2.6,1.7M578.7,378.2l.5-.7-.1-.8 .7,.5-.1,.9-.5,.2-.5-.1M601.2,377.4l-1.8-.2-1-.5-.4,.6-.9-.3 .8-.1 .4-.5 .8,.5 .6-.4 1.5,.9M594.9,376.8l-.5-.5-1-.2-1.1-.6 .8,.1 1.8,1.2M531.6,396.6l.7-.9 1.2-.3 2.5-1.2 .6-.6 .8-.2 .7-.9 2.5-1.2 1.3-1.4M507.7,413l.8-.5M510.1,411l.3-.1M509.8,403.6l.5,0-.3,.3-.2-.3M536.8,355.7l.2,.4-.7,.2-.3,.7 .2,0-.4,.5 .5,0-.1,.5 .3,0-.4,.7 .2,0-.9,.8M566.1,373.6l.9,.1 .1-.5M565.8,377.4l-.3-.2M536.3,377.6l.5-.2 1.6,.1 1.4,.8 .4-.2 1.1,.1 .7-.4M557.8,373.4l1.5-1.2M583.3,352.5l-.9-.1-.2,.4 2.1,1 .6-.2-.3-.7-1.3-.4M587,362.5l-1.9-.1 .4,1 1.2,.6 1,0-.7-1.5M579.9,359.6l-.6,0 .5,.6 .5-.3-.4-.3M577.3,352.4l-.7,0-.1,.3 .5,.4 .8-.1-.5-.6M574,352.2l-1.4-.2-.2,.5 2,.7 1.3,.1-.7-.7-1-.4M584.1,361.2l-.8,0-.2,.3 0,.4 .7,.7 .9-.1-.6-1.3M592.1,367.2l-.9-.6-.4,.4 1,1.5 1.1-.7-.8-.6M584.5,358.7l-.6-.1 0,.7 .9,.1 .2-.2-.5-.5M586,348l-.3-.1 .9,.4-.6-.3M579.3,354l-.8,.3 .3,.5 .8,0 .6-.4-.9-.4M589.5,361.5l-1.7,.1 .6,.9 1.1,.5 .6-.1-.6-1.4M567.5,352.3l-1.1-.2-.2,.4 .7,.4 1.7,.2-1.1-.8M577,347.9l-.9,0 1.3,.6 .6,.1 .3-.2-1.3-.5M585.9,353.4l-.4-.1-.1,.2 1.1,.3-.6-.4M589.5,349.7l.2,.3-.2,.1 1.8,.8-.7-.7-1.1-.5M578.6,349.1l-.8,.2 .1,.5 1.1,.6 1.7-.2-.6-.7-1.5-.4M581.7,349.1l-.7,0 1.2,1 1.1,.2-.5-.8-1.1-.4M568.9,348.8l-.4,.2 .6,.5 1.1-.2-1.3-.5M582.8,357.5l-.9-.2-.7,.2 .9,.7 1.3,.3 .3-.5-.9-.5M586.2,348.8l-.8-.1 1.4,.8 .7,0-1.3-.7M570.3,351.7l-1,.3 .4,.5 1.1,.3 .6-.3-.1-.6-1-.2M592.4,358l-.5,0 .3,.3 1,.3-.1-.4-.7-.2M592.3,368.3l-.9-.8-.6,.5 1.2,1.8 .8-.9-.5-.6M591.8,351.7l-.3,0 1,.4-.7-.4M576.3,355.5l-1,.1 .2,.5 1.3,0 0-.3-.5-.3M580.8,351.2l-1-.1-.1,.4 2.3,1 .4-.4-1.6-.9M574.4,347.2l-.5,0 1,.6 .7-.2-1.2-.4M571.5,349.6l-1.2-.1 0,.5 1,.6 1.8-.3-1.6-.7M571.1,352.4l-.5,.1 1,.3-.5-.4M592.4,360.2l-1.2-.1 .5,.7 1.1,.7 .7-.2 0-.6-1.1-.5M567.4,353.7l-.8,0 .2,.3 1.1,.2-.5-.5M581.9,348.6l-1.1-.2 .3,.5 2.3,.7-.5-.8-1-.2M577.7,358.4l-1.2-.2-1,.2 .6,.8 1.1,.6 1.3,.1-.8-1.5M578.9,346.8l-.6,.1 1.4,.7 1.2,.3 .2-.3-2.2-.8M590.6,354.1l-1.2-.5 1.2,1.2 1.6,.4-1.6-1.1M577.7,357.5l-.9-.4-.2,.4 1,1 .8-.1 0-.5-.7-.4M580.8,358.1l-.5-.1-.2,.2 .1,.3 1.1,.2-.5-.6M569.5,347.4l-.6,.1 1,.5 .7,0-.6-.5-.5-.1M588.3,363.3l-1.1-.6 0,1.2 .9,.8 .7-.8-.5-.6M566.2,347.3l-.3,.1 .8,.1-.5-.2M580.6,352.6l-.5,0 .2,.7 1.1,.3 .5-.2-1.3-.8M567.8,350.7l-.8,0-.3,.4 1.8,.6 .4-.8-1.1-.2M592,357.5l-.5-.1-.1,.3 .3,.5 1.7,.5-.4-.7-1-.5M570.2,349.6l-.8,.5 .8,.3 1.2-.2-.4-.4-.8-.2M572.4,351.5l-1.2,.2-.3,.5 .8,.6 2.3,0-1.6-1.3M581.2,361.1l-.7-.2-.3,.7 .7,.4 .5-.1 .3-.3-.5-.5M581.5,354.2l-1.3-.1-.4,.5 .8,.9 2.4,.1-.2-.8-1.3-.6M583.5,361.8l-.6,.1-.1,.3 1,.2 .2-.2-.5-.4M565.9,349.5l-1,0-.2,.4 2.3,.5-.2-.9-.9,0M581.8,351.7l-.3,.2 .7,.1-.4-.3M586.9,351.6l-.3-.1 .9,.7-.1-.5-.5-.1M586.9,348.2l-1.1-.4 3.2,1.6-1.3-.9-.8-.3M575.2,351.5l-1.1,.1 .7,1.2 1.2,.2 .4-.4-1.2-1.1M593.7,358.5l-.9,.1 1.5,1.2 .4-.2 .1-.6-1.1-.5M574.8,354.5l-.4,0-.2,.2 1,.3-.4-.5M576.3,349.1l-.5-.1 .6,.5 .4-.1-.5-.3M577.5,357.5l-1.2-.1 .4,.6 .8,.4 .6-.2 .1-.3-.7-.4M584.7,350.5l-1,.2 2.3,.9-.5-.9-.8-.2M572.6,352l-1.1,.6 .5,.5 1.1,.4 .5-.4-.3-.5-.7-.6M569.6,354.6l-.6,.1 .5,.4 .3-.3-.2-.2M594.9,362.1l-.6-.1-.2,.4 .3,.5 .8,.6 .5-.2-.8-1.2M575.2,346.7l-.3,.4 .1,.4 2.1,.4 .2-.3-.6-.6-1.5-.3M590.2,358.6l-.5-.1-.1,.2 .9,.7 .5,0-.8-.8M580.1,357l-.9,.1-.2,.8 1,.5 .8-.1 .4-.6-1.1-.7M571.9,355.3l-.9,.3-.2,.4 .9,.5 .8-.7-.6-.5M573.8,349.9l-.6,0 .6,.5 .6-.2 0-.2-.6-.1M582.2,352.5l-1.1-.1 .8,1.1 1.2,.2 .7-.1-.5-.7-1.1-.4M566.5,347l-.6,.3 .3,.4 1.7,0-.4-.7-1,0M585.5,360.3l-.9,0 .8,.5 .5-.2-.4-.3M590,365.6l-.8-.5 .1,.9 .9,.4 .1-.3-.3-.5M590.6,372.9l-.4-.2 .5,.6-.1-.4M589.4,366.5l-.4-.3-.1,.2 .7,.6-.2-.5M593,372.4l-.4,0 .2,.4 .4-.1-.2-.3M590.1,373l-.4-.1 .5,.5-.1-.4M599.2,376.3l-.4-.1 .4,.4 0-.3M595.7,371.1l-.7-.1 .5,.8 .5-.3-.3-.4M592.8,372.2l-.4,0 .4,.4 0-.4M588.8,372.1l-.3-.3-.3,.1 .1,.3 .5,.3 .2-.1-.2-.3M592.2,372.3l-.2-.1-.1,.2 .3,.1 0-.2M594.9,375.5l-.7-.2 .4,.9 .6-.3-.3-.4M586.8,370.4l-.4-.1 .5,.5-.1-.4M594.9,378.2l-.4-.2 .5,.5-.1-.3M593.9,375.2l-.5-.2 0,.3 .6,.4 .2-.3-.3-.2M594.7,375.8l-.6-.1 0,.3 .4,.4 .4,0-.2-.6M587.8,367.7l-.5-.1 0,.3 .7,.3 .1-.2-.3-.3M587.5,367l-.4-.1 .6,.5-.2-.4M600.5,375.5l-.4,0 .5,.5-.1-.5M590.1,373.1l-.4-.4-.3,.6 .3,.5 .7-.3-.3-.4M597.7,380.6l-.6-.3-.2,.3-.2,.4 .5,.5 .7-.3-.2-.6M597.8,381l-.5-.2 .2,.6 .5-.1-.2-.3M589.1,372.9l-.4-.4-.3,.2 .1,.4 .7,.4 .2-.2-.3-.4M589.9,369.6l-.6-.3-.3,.3 .1,.4 1,.6-.2-1M595.9,372l-.5-.2 .1,.3 .6,.3-.2-.4M596.7,380.5l-.3-.2-.3,.4 .6,.3 0-.5M594.6,378.2l-1.1-.2 .5,1.1 .8-.3-.2-.6M531.9,351.3l1-.4-1.4,.3 0,.2 .4-.1M538.3,361.9l.2-.3-1,.1 .5,.3 .3-.1M534.8,356.2l.3-.1 0-.2-.7,.1 .1,.3 .3-.1M542.7,363.9l-.1-.4-.4,.5 .5-.1M535.5,361.1l.2-.3-.2-.1-.4,.3 .4,.1M511.4,361.7l.6-.7-.3-.1-.5,.3-.1,.5 .3,0M524.7,356.4l.6-.2-.1-.2-.8,.1-.2,.5 .5-.2M525,375.1l.2-.2-.6,.1 .3,.3 .1-.2M509.9,371.1l.5-.5-.2-.3-.9,.4-.2,.5 .8-.1M530,359.6l.3-.4-.5-.3-.6,.6 .8,.1M514.5,366.8l.4-.5-.5-.3-.7,.7 .8,.1M529.5,366.2l-.2-.5-.7,.2 0,.3 .9,0M529.1,351.6l1-.6-1.4,.3 .4,.3M525.7,362.1l.3-.5-.6,.3 0,.3 .3-.1M528.9,351.3l.7-.4-.7,.1-.5,.4 .5-.1M527,369.4l.2-.2-.4,0-.1,.3 .3-.1M539.5,359.6l.1-.6-.9,.3-.3,.5 1.1-.2M536.5,358l.1-.2-.2-.1-.3,.3 .4,0M519.7,361.7l.6-.3-.5-.3-.8,.6 .7,0M514.3,367.7l.4-.3-.2-.2-.2,0-.4,.5 .4,0M516.2,360l.1-.3-.2,.3 .1,0M532.9,355.3l.6-.4-.6-.3-.5,.2-.2,.6 .7-.1M529.6,359.6l0-.2-.3,.1 .3,.1M521.5,354.6l.7-.5-.7,.2-.5,.5 .5-.2M530.1,373.1l-.1-.3-.4,.5 .5-.2M533.8,354l.5-.6-1,0-.4,.4 .9,.2M510.6,368.8l.2-.4-.2,0-.4,.5 .1,.1 .3-.2M518.2,373.9l.1-.4-.5,.3 0,.2 .4-.1M508.4,368.9l.3-.2-.3-.2-.4,.5 .4-.1M508,367.7l.5-.9-.9,.5-.3,.5 .1,.3 .6-.4M536.6,449l-.2-.5-.4-.1-.4,.2 .3,.9 .6,0 .1-.5M482.7,413.6l-.1-.4 .1,.4M480.2,431.8l-.1-.6 .1,.9 0-.3M494.7,422.9l-.2-.5-.2,.1 0,.7 .4-.3M502.2,438.5l-.3-.7-.2,.6 .4,.3 .1-.2M483.7,428.7l-.1-.2 0,.4 .1-.2M530.6,439.1l-.2-.3-.2,.3 .3,.2 .1-.2M521.6,453.5l-.3-.5-.8-.1 0,.6 .4,.4 .5,0 .2-.4M514.2,450.3l-.2-.3-.2,0 0,.3 .4,.2 0-.2M496.8,435.4l-.5-1-.2,.4 .1,.7 .3,.3 .3-.4M492.9,447.6l-.1-.2 .1,.2M522.1,445.2l-.1-.6-.5-.2-.5,.2 .5,.9 .6-.3M501.8,449.1l-.2-.3-.1,.3 .3,0M489,438.2l-.1-.2 .1,.4 0-.2M502.7,430.8l-.1-.3-.4-.1 .1,.6 .4-.2M541.2,440.5l-.2-.4-.3,.1-.2,.3 .2,.2 .5-.2M492.2,428.6l-.1-.7-.2,.6 .1,.4 .2,.1 0-.4M525.1,452.4l-.2-.6-1,0 .4,1 .8-.4M508.2,457.8l-.4-.3 .2,.5 .2-.2M493.5,424.4l-.2-.3 .1,.4 .1-.1M493.9,447.7l-.2-.4 .1,.7 .1-.3M520.8,453.7l-.3-.4 0,.5 .3-.1M536.8,445.9l-.3-.4-.2,.5 .5,.2 0-.3M532.1,447.1l-.3-.4-.4-.2-.5,.8 .4,.4 .8-.6M495.5,441.1l-.2-.4-.1,.3 .2,.2 .1-.1M486.5,417.6l0-.5-.3-.1-.1,.3 .3,.5 .1-.2M503.7,427.2l-.2-.5-.2,.1 0,.5 .3,.1 .1-.2M518.3,436.3l-.3-.3-.2,0 .2,.5 .3-.2M523.5,447.4l0-.3-.3-.2-.3,.2 .2,.7 .4,0 0-.4M482.7,432l0-.3 0,.5 0-.2" fill="none" stroke="#0a0a0a" stroke-width="0.6" stroke-linejoin="round"/>
</g>
<ellipse cx="554.3" cy="416.9" rx="77.0" ry="76.615" fill="none" stroke="#111" stroke-width="0.8"/>
<path d="M557.4,492.8L563.8,490.5M567.4,491.9L573.4,489.2M563.8,490.5L554.9,487.7M582.5,487.0L592.3,481.1M535.0,486.1L526.9,480.3M536.2,482.0L526.8,474.9M556.0,483.2L556.6,477.7M584.7,479.6L594.6,471.4M593.2,477.0L602.6,468.3M490.6,458.0L485.2,447.8M495.7,462.4L489.6,452.3M517.8,472.7L518.1,466.4M609.5,464.6L616.6,454.2M619.9,456.0L621.6,449.8M482.1,443.0L479.1,432.2M501.9,460.3L502.7,453.6M501.9,460.3L495.8,450.0M567.2,470.5L557.6,463.5M610.5,458.3L616.8,447.3M577.3,461.8L567.7,454.6M628.8,433.8L629.5,425.2M480.9,428.4L481.5,419.7M495.3,441.5L489.9,428.6M603.8,446.2L603.4,437.3M611.1,442.8L603.4,437.3M629.5,425.2L628.8,416.5M629.5,425.2L626.0,421.2M478.0,409.9L480.3,403.7M479.1,414.8L482.1,408.6M519.0,441.9L527.3,434.2M603.4,437.3L595.3,430.6M482.1,408.6L486.7,402.6M485.2,413.4L490.6,407.2M495.2,422.2L495.7,411.6M495.2,422.2L502.0,415.5M501.9,426.0L502.0,415.5M509.6,429.3L517.8,421.9M557.1,436.7L556.6,426.9M577.1,435.0L576.5,425.1M586.5,433.1L576.5,425.1M627.6,405.9L623.2,400.4M495.7,411.6L503.2,405.0M594.6,420.7L593.2,410.7M488.9,377.2L493.4,373.9M487.7,382.1L493.4,378.9M487.9,387.0L489.7,391.9M487.9,387.0L493.4,378.9M492.9,396.6L497.4,401.0M492.9,396.6L498.3,388.6M492.9,396.6L495.0,383.8M497.4,401.0L503.2,405.0M503.2,405.0L509.2,397.0M510.2,408.6L518.1,411.6M510.2,408.6L516.6,400.4M518.1,411.6L526.9,414.0M518.1,411.6L525.0,403.2M526.9,414.0L536.2,415.7M526.9,414.0L525.0,403.2M536.2,415.7L534.2,405.2M536.2,415.7L544.0,406.5M546.0,416.6L556.0,416.9M546.0,416.6L544.0,406.5M546.0,416.6L554.1,406.9M556.0,416.9L564.1,406.5M565.9,416.4L564.1,406.5M565.9,416.4L573.9,405.3M575.5,415.2L573.9,405.3M584.7,413.2L583.2,403.3M593.2,410.7L600.9,407.5M600.9,407.5L607.5,403.8M607.5,403.8L605.3,393.2M612.9,399.6L605.3,393.2M617.0,395.1L619.7,390.3M617.0,395.1L610.1,388.8M617.0,395.1L613.5,384.1M620.9,385.4L620.7,380.4M620.7,380.4L618.9,375.5M618.9,375.5L613.6,369.2M495.1,368.9L501.3,363.7M495.1,368.9L504.6,359.0M493.4,378.9L500.4,373.6M493.4,378.9L499.9,368.7M495.0,383.8L498.3,388.6M495.0,383.8L502.6,378.5M498.3,388.6L502.6,378.5M503.0,393.0L509.2,397.0M503.0,393.0L506.7,383.1M503.0,393.0L512.3,387.2M509.2,397.0L512.3,387.2M509.2,397.0L519.4,390.8M516.6,400.4L525.0,403.2M516.6,400.4L527.7,393.6M525.0,403.2L534.2,405.2M525.0,403.2L527.7,393.6M525.0,403.2L536.8,395.6M534.2,405.2L536.8,395.6M544.0,406.5L554.1,406.9M544.0,406.5L546.6,396.8M544.0,406.5L536.8,395.6M554.1,406.9L564.1,406.5M564.1,406.5L573.9,405.3M564.1,406.5L566.6,396.4M564.1,406.5L556.7,397.0M583.2,403.3L576.1,394.8M583.2,403.3L584.9,392.4M591.6,400.6L599.1,397.2M591.6,400.6L584.9,392.4M599.1,397.2L605.3,393.2M599.1,397.2L592.7,389.2M605.3,393.2L610.1,388.8M610.1,388.8L604.0,381.0M615.2,379.1L608.7,371.3M615.2,374.1L613.6,369.2M613.6,369.2L606.0,361.4M504.6,359.0L510.9,355.5M504.6,359.0L515.7,351.0M501.3,363.7L499.9,368.7M501.3,363.7L508.1,360.3M501.3,363.7L510.9,355.5M499.9,368.7L500.4,373.6M499.9,368.7L507.5,365.3M500.4,373.6L502.6,378.5M502.6,378.5L509.0,370.3M506.7,383.1L512.7,375.0M506.7,383.1L518.3,379.2M512.3,387.2L519.4,390.8M512.3,387.2L518.3,379.2M512.3,387.2L512.7,375.0M519.4,390.8L525.7,382.7M527.7,393.6L534.3,385.4M546.6,396.8L543.9,387.0M556.7,397.0L564.0,387.1M566.6,396.4L564.0,387.1M566.6,396.4L573.7,385.5M576.1,394.8L584.9,392.4M576.1,394.8L573.7,385.5M576.1,394.8L564.0,387.1M584.9,392.4L592.7,389.2M584.9,392.4L582.4,382.9M592.7,389.2L589.8,379.5M599.1,385.4L604.0,381.0M599.1,385.4L589.8,379.5M604.0,381.0L607.3,376.3M604.0,381.0L595.5,375.3M607.3,376.3L599.4,370.7M607.3,376.3L601.1,365.7M608.7,371.3L600.6,360.7M608.2,366.3L606.0,361.4M608.2,366.3L600.6,360.7M606.0,361.4L598.0,355.8M606.0,361.4L600.6,360.7M515.7,351.0L510.9,355.5M515.7,351.0L522.6,348.6M515.7,351.0L529.3,344.9M510.9,355.5L508.1,360.3M510.9,355.5L518.0,353.0M510.9,355.5L522.6,348.6M508.1,360.3L507.5,365.3M508.1,360.3L515.9,357.9M508.1,360.3L518.0,353.0M507.5,365.3L509.0,370.3M507.5,365.3L515.9,357.9M507.5,365.3L516.4,362.9M509.0,370.3L512.7,375.0M509.0,370.3L519.5,367.7M512.7,375.0L518.3,379.2M512.7,375.0L519.5,367.7M512.7,375.0L525.0,371.9M518.3,379.2L525.0,371.9M518.3,379.2L519.5,367.7M525.7,382.7L534.3,385.4M525.7,382.7L532.5,375.2M534.3,385.4L543.9,387.0M534.3,385.4L541.4,377.5M534.3,385.4L532.5,375.2M543.9,387.0L541.4,377.5M554.0,387.6L564.0,387.1M554.0,387.6L561.3,378.3M564.0,387.1L573.7,385.5M564.0,387.1L561.3,378.3M573.7,385.5L570.8,376.7M573.7,385.5L561.3,378.3M589.8,379.5L595.5,375.3M589.8,379.5L586.0,370.3M589.8,379.5L579.3,374.0M595.5,375.3L599.4,370.7M595.5,375.3L586.0,370.3M595.5,375.3L590.6,365.8M599.4,370.7L592.7,361.0M601.1,365.7L592.7,361.0M600.6,360.7L592.7,361.0M598.0,355.8L593.3,351.3M593.3,351.3L583.6,347.0M593.3,351.3L589.1,351.2M529.3,344.9L536.2,344.0M529.3,344.9L529.3,347.8M522.6,348.6L518.0,353.0M518.0,353.0L515.9,357.9M516.4,362.9L519.5,367.7M516.4,362.9L525.1,357.6M516.4,362.9L528.3,362.5M519.5,367.7L528.3,362.5M519.5,367.7L525.1,357.6M525.0,371.9L532.5,375.2M532.5,375.2L534.6,366.5M532.5,375.2L543.3,369.2M541.4,377.5L551.2,378.5M541.4,377.5L553.3,370.3M551.2,378.5L561.3,378.3M561.3,378.3L570.8,376.7M561.3,378.3L563.4,369.5M579.3,374.0L586.0,370.3M586.0,370.3L590.6,365.8M586.0,370.3L579.3,363.4M586.0,370.3L572.4,367.2M590.6,365.8L592.7,361.0M590.6,365.8L579.3,363.4M592.7,361.0L583.1,358.6M592.7,361.0L583.5,353.6M592.2,356.0L583.5,353.6M592.2,356.0L580.3,348.7M589.1,351.2L583.6,347.0M583.6,347.0L576.1,343.7M583.6,347.0L574.0,344.7M576.1,343.7L574.0,344.7M545.2,341.7L536.2,344.0M536.2,344.0L543.4,344.5M536.2,344.0L536.5,348.3M529.3,347.8L525.5,352.6M529.3,347.8L536.5,348.3M525.5,352.6L525.1,357.6M525.5,352.6L536.5,348.3M525.1,357.6L528.3,362.5M525.1,357.6L537.6,358.2M528.3,362.5L534.6,366.5M528.3,362.5L537.6,358.2M543.3,369.2L545.3,361.7M553.3,370.3L563.4,369.5M553.3,370.3L555.4,362.7M563.4,369.5L565.2,361.1M572.4,367.2L565.2,361.1M579.3,363.4L583.1,358.6M579.3,363.4L572.1,357.3M579.3,363.4L565.2,361.1M583.1,358.6L583.5,353.6M583.5,353.6L580.3,348.7M580.3,348.7L574.0,344.7M580.3,348.7L571.0,347.4M574.0,344.7L565.3,342.0M574.0,344.7L571.0,347.4M574.0,344.7L563.3,344.0M565.3,342.0L555.3,340.9M565.3,342.0L563.3,344.0M543.4,344.5L544.5,350.1M536.5,348.3L534.4,353.3M534.4,353.3L544.5,350.1M537.6,358.2L545.3,361.7M545.3,361.7L555.4,362.7M545.3,361.7L557.5,355.9M555.4,362.7L565.2,361.1M555.4,362.7L547.6,354.9M565.2,361.1L564.1,352.1M572.1,357.3L564.1,352.1M572.1,357.3L557.5,355.9M574.2,352.3L571.0,347.4M571.0,347.4L563.3,344.0M571.0,347.4L561.0,347.4M571.0,347.4L564.1,352.1M563.3,344.0L553.2,342.9M563.3,344.0L561.0,347.4M563.3,344.0L551.1,346.4M547.6,354.9L557.5,355.9M557.5,355.9L564.1,352.1M564.1,352.1L561.0,347.4M561.0,347.4L551.1,346.4M501.3,363.7Q505.3,374.7 509.2,397.0M517.8,421.9Q518.6,402.5 519.4,390.8M488.9,377.2Q497.8,377.9 506.7,383.1M579.3,374.0Q584.9,372.6 590.6,365.8M607.5,403.8Q604.0,385.9 600.6,360.7M534.6,366.5Q520.6,372.2 506.7,383.1M528.3,362.5Q514.1,364.5 499.9,368.7M545.2,341.7Q530.8,353.2 516.4,362.9M526.8,424.2Q545.5,415.2 564.1,406.5M518.0,353.0Q531.6,348.7 545.2,341.7M583.1,358.6Q587.9,373.8 592.7,389.2M613.5,384.1Q619.2,389.0 625.0,395.4M526.8,424.2Q546.7,424.3 566.7,426.4M619.9,405.2Q612.0,389.8 604.0,381.0M504.6,359.0Q520.4,346.3 536.2,344.0M556.0,416.9Q537.0,419.1 518.1,411.6M516.4,362.9Q522.9,357.1 529.3,347.8M566.7,426.4Q556.3,424.6 546.0,416.6M507.5,365.3Q500.5,368.8 493.4,373.9M502.0,415.5Q506.1,407.3 510.2,408.6M536.5,348.3Q526.1,354.9 515.7,351.0M515.7,351.0Q508.5,363.1 501.3,363.7M527.7,393.6Q531.0,383.7 534.3,385.4M509.0,370.3Q506.8,367.7 504.6,359.0M607.5,403.8Q613.2,386.8 618.9,375.5M556.7,397.0Q540.8,401.2 525.0,403.2M619.7,390.3Q610.4,378.3 601.1,365.7M555.4,362.7Q561.0,374.4 566.6,396.4M509.0,370.3Q504.5,375.3 499.9,368.7M599.4,370.7Q596.0,368.3 592.7,361.0M502.6,378.5Q516.0,361.8 529.3,344.9M510.9,355.5Q520.1,353.9 529.3,347.8M570.8,376.7Q592.2,370.8 613.6,369.2M498.3,388.6Q495.8,380.5 493.4,373.9M509.4,419.0Q514.4,407.7 519.4,390.8M592.7,361.0Q586.0,358.9 579.3,363.4M512.3,387.2Q506.3,381.1 500.4,373.6M617.0,395.1Q599.7,393.6 582.4,382.9M620.7,380.4Q614.4,370.7 608.2,366.3M546.6,396.8Q524.9,405.1 503.2,405.0M566.6,396.4Q572.9,389.8 579.3,374.0M576.1,343.7Q577.7,359.7 579.3,374.0M564.1,352.1Q576.6,348.1 589.1,351.2M574.0,344.7Q586.7,358.7 599.4,370.7M620.7,380.4Q623.0,390.7 625.4,390.4M586.0,370.3Q589.1,367.2 592.2,356.0M526.8,424.2Q518.0,410.6 509.2,397.0M576.5,425.1Q584.9,416.7 593.2,410.7M619.7,390.3Q605.6,392.4 591.6,400.6M592.7,389.2Q596.8,394.8 600.9,407.5M498.3,388.6Q495.6,396.3 492.9,396.6M543.4,344.5Q548.3,356.5 553.3,370.3M506.7,383.1Q513.1,373.9 519.5,367.7M529.3,347.8Q536.9,348.5 544.5,350.1M619.7,390.3Q601.4,397.0 583.2,403.3M619.7,390.3Q622.5,392.9 625.4,390.4M556.0,416.9Q560.0,399.8 564.0,387.1M501.3,363.7Q509.8,369.3 518.3,379.2M544.5,350.1Q548.9,365.3 553.3,370.3M553.3,370.3Q566.3,371.2 579.3,374.0M620.9,385.4Q619.9,378.0 618.9,375.5M509.0,370.3Q513.6,388.9 518.1,411.6M554.0,387.6Q564.1,370.8 574.2,352.3M576.5,425.1Q576.3,412.4 576.1,394.8M525.7,382.7Q515.1,365.6 504.6,359.0M527.7,393.6Q510.5,391.6 493.4,378.9M492.9,396.6Q497.1,378.6 501.3,363.7M592.7,361.0Q599.3,363.2 606.0,361.4M605.3,393.2Q599.3,370.4 593.3,351.3M489.7,391.9Q495.9,408.1 502.0,415.5M623.2,400.4Q621.4,401.2 619.7,390.3M497.4,401.0Q496.3,388.9 495.1,368.9M510.9,355.5Q527.7,352.1 544.5,350.1M512.7,375.0Q503.1,369.0 493.4,373.9M608.7,371.3Q614.8,373.8 620.9,385.4M609.5,413.8Q611.5,390.6 613.6,369.2M546.0,416.6Q551.3,415.8 556.6,426.9M512.7,375.0Q498.0,387.5 483.2,392.6M561.0,347.4Q572.0,354.5 583.1,358.6M554.1,406.9Q553.7,382.6 553.3,370.3M593.2,410.7Q583.6,406.7 573.9,405.3M499.9,368.7Q494.4,367.2 488.9,377.2M564.1,352.1Q577.4,359.2 590.6,365.8" fill="none" stroke="#79cde8" stroke-width="0.55" opacity="0.85"/>
<path d="M537.5,491.3L547.3,492.6M547.3,492.6L557.4,492.8M557.4,492.8L567.4,491.9M567.4,491.9L576.8,490.0M517.2,483.6L525.2,486.7M525.2,486.7L534.1,489.0M534.1,489.0L543.7,490.4M543.7,490.4L553.7,490.9M553.7,490.9L563.8,490.5M563.8,490.5L573.4,489.2M573.4,489.2L582.5,487.0M582.5,487.0L590.6,484.0M503.5,474.1L509.7,478.1M509.7,478.1L517.2,481.4M517.2,481.4L525.7,484.2M525.7,484.2L535.0,486.1M535.0,486.1L544.8,487.3M544.8,487.3L554.9,487.7M554.9,487.7L564.9,487.2M564.9,487.2L574.7,485.9M574.7,485.9L583.9,483.9M583.9,483.9L592.3,481.1M592.3,481.1L599.6,477.7M599.6,477.7L605.7,473.7M497.4,467.4L503.2,471.4M503.2,471.4L510.2,474.9M510.2,474.9L518.1,477.9M518.1,477.9L526.9,480.3M526.9,480.3L536.2,482.0M536.2,482.0L546.0,483.0M546.0,483.0L556.0,483.2M556.0,483.2L565.9,482.7M565.9,482.7L575.5,481.5M575.5,481.5L584.7,479.6M584.7,479.6L593.2,477.0M593.2,477.0L600.9,473.8M600.9,473.8L607.5,470.1M607.5,470.1L612.9,465.9M490.6,458.0L495.7,462.4M495.7,462.4L502.0,466.3M502.0,466.3L509.4,469.8M509.4,469.8L517.8,472.7M517.8,472.7L526.8,474.9M526.8,474.9L536.4,476.5M536.4,476.5L546.4,477.5M546.4,477.5L556.6,477.7M556.6,477.7L566.7,477.1M566.7,477.1L576.5,475.9M576.5,475.9L585.9,474.0M585.9,474.0L594.6,471.4M594.6,471.4L602.6,468.3M602.6,468.3L609.5,464.6M609.5,464.6L615.3,460.5M615.3,460.5L619.9,456.0M482.1,443.0L485.2,447.8M485.2,447.8L489.6,452.3M489.6,452.3L495.2,456.5M495.2,456.5L501.9,460.3M501.9,460.3L509.6,463.6M509.6,463.6L518.1,466.4M518.1,466.4L527.3,468.5M527.3,468.5L537.0,470.1M537.0,470.1L547.0,470.9M547.0,470.9L557.1,471.0M557.1,471.0L567.2,470.5M567.2,470.5L577.1,469.3M577.1,469.3L586.5,467.4M586.5,467.4L595.3,464.9M595.3,464.9L603.4,461.9M603.4,461.9L610.5,458.3M610.5,458.3L616.6,454.2M616.6,454.2L621.6,449.8M621.6,449.8L625.3,445.1M479.1,432.2L481.5,437.0M481.5,437.0L485.1,441.6M485.1,441.6L489.9,446.0M489.9,446.0L495.8,450.0M495.8,450.0L502.7,453.6M502.7,453.6L510.5,456.7M510.5,456.7L519.0,459.2M519.0,459.2L528.2,461.2M528.2,461.2L537.8,462.6M537.8,462.6L547.6,463.4M547.6,463.4L557.6,463.5M557.6,463.5L567.6,463.0M567.6,463.0L577.3,461.8M577.3,461.8L586.6,460.0M586.6,460.0L595.3,457.6M595.3,457.6L603.4,454.7M603.4,454.7L610.6,451.2M610.6,451.2L616.8,447.3M616.8,447.3L622.0,443.1M622.0,443.1L626.0,438.6M626.0,438.6L628.8,433.8M478.5,423.6L480.9,428.4M480.9,428.4L484.5,433.1M484.5,433.1L489.4,437.5M489.4,437.5L495.3,441.5M495.3,441.5L502.3,445.1M502.3,445.1L510.1,448.3M510.1,448.3L518.7,450.9M518.7,450.9L528.0,452.9M528.0,452.9L537.6,454.3M537.6,454.3L547.6,455.1M547.6,455.1L557.7,455.2M557.7,455.2L567.7,454.6M567.7,454.6L577.5,453.4M577.5,453.4L586.8,451.6M586.8,451.6L595.7,449.2M595.7,449.2L603.8,446.2M603.8,446.2L611.1,442.8M611.1,442.8L617.4,438.9M617.4,438.9L622.6,434.6M622.6,434.6L626.7,430.0M626.7,430.0L629.5,425.2M629.5,425.2L631.0,420.2M478.0,409.9L479.1,414.8M479.1,414.8L481.5,419.7M481.5,419.7L485.1,424.3M485.1,424.3L489.9,428.6M489.9,428.6L495.8,432.7M495.8,432.7L502.7,436.2M502.7,436.2L510.5,439.4M510.5,439.4L519.0,441.9M519.0,441.9L528.2,443.9M528.2,443.9L537.8,445.3M537.8,445.3L547.6,446.1M547.6,446.1L557.6,446.2M557.6,446.2L567.6,445.6M567.6,445.6L577.3,444.5M577.3,444.5L586.6,442.7M586.6,442.7L595.3,440.3M595.3,440.3L603.4,437.3M603.4,437.3L610.6,433.9M610.6,433.9L616.8,430.0M616.8,430.0L622.0,425.8M622.0,425.8L626.0,421.2M626.0,421.2L628.8,416.5M628.8,416.5L630.4,411.5M480.0,398.6L480.3,403.7M480.3,403.7L482.1,408.6M482.1,408.6L485.2,413.4M485.2,413.4L489.6,418.0M489.6,418.0L495.2,422.2M495.2,422.2L501.9,426.0M501.9,426.0L509.6,429.3M509.6,429.3L518.1,432.0M518.1,432.0L527.3,434.2M527.3,434.2L537.0,435.7M537.0,435.7L547.0,436.5M547.0,436.5L557.1,436.7M557.1,436.7L567.2,436.2M567.2,436.2L577.1,435.0M577.1,435.0L586.5,433.1M586.5,433.1L595.3,430.6M595.3,430.6L603.4,427.5M603.4,427.5L610.5,423.9M610.5,423.9L616.6,419.9M616.6,419.9L621.6,415.5M621.6,415.5L625.3,410.8M625.3,410.8L627.6,405.9M627.6,405.9L628.6,400.9M483.6,387.6L483.2,392.6M483.2,392.6L484.2,397.7M484.2,397.7L486.7,402.6M486.7,402.6L490.6,407.2M490.6,407.2L495.7,411.6M495.7,411.6L502.0,415.5M502.0,415.5L509.4,419.0M509.4,419.0L517.8,421.9M517.8,421.9L526.8,424.2M526.8,424.2L536.4,425.8M536.4,425.8L546.4,426.7M546.4,426.7L556.6,426.9M556.6,426.9L566.7,426.4M566.7,426.4L576.5,425.1M576.5,425.1L585.9,423.2M585.9,423.2L594.6,420.7M594.6,420.7L602.6,417.5M602.6,417.5L609.5,413.8M609.5,413.8L615.3,409.7M615.3,409.7L619.9,405.2M619.9,405.2L623.2,400.4M623.2,400.4L625.0,395.4M625.0,395.4L625.4,390.4M488.9,377.2L487.7,382.1M487.7,382.1L487.9,387.0M487.9,387.0L495.0,383.8M489.7,391.9L492.9,396.6M497.4,401.0L503.0,393.0M503.2,405.0L510.2,408.6M510.2,408.6L509.2,397.0M518.1,411.6L516.6,400.4M526.9,414.0L534.2,405.2M536.2,415.7L546.0,416.6M556.0,416.9L565.9,416.4M565.9,416.4L575.5,415.2M575.5,415.2L584.7,413.2M584.7,413.2L593.2,410.7M593.2,410.7L591.6,400.6M593.2,410.7L583.2,403.3M600.9,407.5L599.1,397.2M600.9,407.5L591.6,400.6M607.5,403.8L612.9,399.6M607.5,403.8L599.1,397.2M612.9,399.6L617.0,395.1M612.9,399.6L610.1,388.8M619.7,390.3L620.9,385.4M619.7,390.3L613.5,384.1M619.7,390.3L615.2,379.1M620.9,385.4L615.2,379.1M620.9,385.4L615.2,374.1M620.7,380.4L613.6,369.2M495.1,368.9L493.4,373.9M493.4,373.9L493.4,378.9M493.4,373.9L499.9,368.7M493.4,373.9L501.3,363.7M493.4,378.9L495.0,383.8M495.0,383.8L500.4,373.6M498.3,388.6L503.0,393.0M498.3,388.6L506.7,383.1M509.2,397.0L516.6,400.4M516.6,400.4L519.4,390.8M534.2,405.2L544.0,406.5M534.2,405.2L527.7,393.6M554.1,406.9L556.7,397.0M554.1,406.9L546.6,396.8M573.9,405.3L583.2,403.3M573.9,405.3L576.1,394.8M573.9,405.3L566.6,396.4M583.2,403.3L591.6,400.6M591.6,400.6L592.7,389.2M599.1,397.2L599.1,385.4M605.3,393.2L599.1,385.4M610.1,388.8L613.5,384.1M610.1,388.8L607.3,376.3M613.5,384.1L615.2,379.1M613.5,384.1L607.3,376.3M615.2,379.1L615.2,374.1M615.2,374.1L608.2,366.3M615.2,374.1L608.7,371.3M613.6,369.2L608.2,366.3M504.6,359.0L501.3,363.7M499.9,368.7L508.1,360.3M500.4,373.6L507.5,365.3M502.6,378.5L506.7,383.1M502.6,378.5L512.7,375.0M506.7,383.1L512.3,387.2M519.4,390.8L527.7,393.6M527.7,393.6L536.8,395.6M536.8,395.6L546.6,396.8M536.8,395.6L534.3,385.4M546.6,396.8L556.7,397.0M546.6,396.8L554.0,387.6M556.7,397.0L566.6,396.4M566.6,396.4L576.1,394.8M584.9,392.4L573.7,385.5M592.7,389.2L599.1,385.4M592.7,389.2L582.4,382.9M599.1,385.4L595.5,375.3M607.3,376.3L608.7,371.3M608.7,371.3L608.2,366.3M608.7,371.3L601.1,365.7M608.2,366.3L601.1,365.7M509.0,370.3L516.4,362.9M518.3,379.2L525.7,382.7M525.7,382.7L525.0,371.9M543.9,387.0L554.0,387.6M543.9,387.0L551.2,378.5M564.0,387.1L570.8,376.7M573.7,385.5L582.4,382.9M582.4,382.9L589.8,379.5M582.4,382.9L570.8,376.7M599.4,370.7L601.1,365.7M601.1,365.7L600.6,360.7M601.1,365.7L592.2,356.0M600.6,360.7L598.0,355.8M598.0,355.8L589.1,351.2M529.3,344.9L522.6,348.6M522.6,348.6L529.3,347.8M518.0,353.0L525.5,352.6M518.0,353.0L529.3,347.8M515.9,357.9L516.4,362.9M515.9,357.9L525.5,352.6M519.5,367.7L525.0,371.9M525.0,371.9L534.6,366.5M525.0,371.9L528.3,362.5M532.5,375.2L541.4,377.5M541.4,377.5L543.3,369.2M551.2,378.5L553.3,370.3M551.2,378.5L543.3,369.2M561.3,378.3L553.3,370.3M570.8,376.7L579.3,374.0M579.3,374.0L579.3,363.4M592.7,361.0L592.2,356.0M592.2,356.0L589.1,351.2M589.1,351.2L580.3,348.7M589.1,351.2L583.5,353.6M576.1,343.7L565.3,342.0M545.2,341.7L553.2,342.9M545.2,341.7L543.4,344.5M536.2,344.0L529.3,347.8M529.3,347.8L543.4,344.5M528.3,362.5L534.4,353.3M534.6,366.5L543.3,369.2M534.6,366.5L537.6,358.2M534.6,366.5L545.3,361.7M543.3,369.2L553.3,370.3M543.3,369.2L555.4,362.7M553.3,370.3L545.3,361.7M563.4,369.5L572.4,367.2M563.4,369.5L555.4,362.7M572.4,367.2L579.3,363.4M572.4,367.2L572.1,357.3M583.1,358.6L572.1,357.3M583.1,358.6L574.2,352.3M583.5,353.6L574.2,352.3M583.5,353.6L571.0,347.4M555.3,340.9L545.2,341.7M543.4,344.5L536.5,348.3M534.4,353.3L537.6,358.2M534.4,353.3L547.6,354.9M555.4,362.7L557.5,355.9M565.2,361.1L572.1,357.3M565.2,361.1L557.5,355.9M572.1,357.3L574.2,352.3M574.2,352.3L564.1,352.1M574.2,352.3L561.0,347.4M553.2,342.9L543.4,344.5M553.2,342.9L551.1,346.4M551.1,346.4L544.5,350.1M544.5,350.1L547.6,354.9" fill="none" stroke="#e48a52" stroke-width="0.6" opacity="0.9"/>
<path d="M576.1,343.7Q565.7,339.0 555.3,340.9M608.7,371.3Q594.0,371.3 579.3,363.4M583.6,347.0Q599.4,354.7 615.2,374.1M575.5,415.2Q580.2,398.0 584.9,392.4M483.6,387.6Q493.4,402.1 503.2,405.0M607.3,376.3Q590.7,367.7 574.2,352.3M599.4,370.7Q596.3,365.0 593.3,351.3M509.4,419.0Q513.0,404.1 516.6,400.4M536.2,415.7Q550.2,411.2 564.1,406.5M490.6,407.2Q495.5,392.2 500.4,373.6M518.0,353.0Q520.3,351.1 522.6,348.6M536.5,348.3Q530.8,352.0 525.1,357.6M612.9,399.6Q616.8,386.2 620.7,380.4M522.6,348.6Q515.8,363.1 509.0,370.3M517.8,421.9Q522.7,407.6 527.7,393.6M553.2,342.9Q539.2,346.6 525.1,357.6M620.9,385.4Q600.1,378.3 579.3,374.0M527.7,393.6Q514.9,401.8 502.0,415.5M536.8,395.6Q556.5,396.5 576.1,394.8M619.9,405.2Q614.3,383.6 608.7,371.3M510.2,408.6Q514.8,403.7 519.4,390.8M541.4,377.5Q533.4,362.2 525.5,352.6M556.6,426.9Q551.3,418.6 546.0,416.6M618.9,375.5Q605.8,372.1 592.7,361.0M556.6,426.9Q555.3,412.8 554.0,387.6M500.4,373.6Q494.0,376.5 487.7,382.1M607.3,376.3Q606.6,374.3 606.0,361.4M598.0,355.8Q595.1,354.8 592.2,356.0M512.3,387.2Q514.1,368.4 515.9,357.9M619.7,390.3Q609.4,399.3 599.1,397.2M566.7,426.4Q561.6,425.5 556.6,426.9M497.4,401.0Q504.9,388.3 512.3,387.2M543.9,387.0Q539.1,372.4 534.4,353.3M615.2,374.1Q620.3,381.8 625.4,390.4M522.6,348.6Q533.9,345.9 545.2,341.7M565.3,342.0Q570.7,345.3 576.1,343.7M599.1,385.4Q590.8,381.6 582.4,382.9M615.2,379.1Q616.1,382.6 617.0,395.1M592.7,389.2Q603.9,381.6 615.2,379.1M529.3,344.9Q520.1,349.9 510.9,355.5M537.6,358.2Q558.4,360.8 579.3,374.0M503.0,393.0Q494.9,398.4 486.7,402.6M594.6,420.7Q588.5,395.8 582.4,382.9M598.0,355.8Q581.7,347.3 565.3,342.0M503.0,393.0Q514.0,396.2 525.0,403.2M604.0,381.0Q582.7,373.7 561.3,378.3M592.7,361.0Q574.0,362.9 555.4,362.7M502.6,378.5Q522.0,375.4 541.4,377.5M623.2,400.4Q619.2,404.3 615.3,409.7M589.8,379.5Q577.0,370.5 564.1,352.1M546.6,396.8Q555.4,403.4 564.1,406.5M566.7,426.4Q565.3,401.0 564.0,387.1M544.0,406.5Q539.3,386.1 534.6,366.5M529.3,347.8Q524.4,355.2 519.5,367.7M589.1,351.2Q594.8,353.7 600.6,360.7M580.3,348.7Q565.7,350.2 551.1,346.4M593.3,351.3Q599.3,374.9 605.3,393.2M574.2,352.3Q567.7,365.2 561.3,378.3M617.0,395.1Q611.5,374.3 606.0,361.4M544.0,406.5Q531.1,411.2 518.1,411.6M570.8,376.7Q589.1,375.2 607.3,376.3M551.2,378.5Q538.1,374.1 525.0,371.9M565.9,416.4Q545.4,409.5 525.0,403.2M593.3,351.3Q597.0,355.9 600.6,360.7M571.0,347.4Q584.5,353.1 598.0,355.8M534.6,366.5Q542.9,354.1 551.1,346.4M551.2,378.5Q563.7,387.2 576.1,394.8M561.0,347.4Q570.1,356.1 579.3,374.0M503.2,405.0Q498.3,396.4 493.4,378.9M515.7,351.0Q534.5,356.9 553.3,370.3M536.4,425.8Q551.5,408.3 566.6,396.4M563.4,369.5Q567.7,362.6 572.1,357.3M599.1,397.2Q608.0,396.7 617.0,395.1M563.3,344.0Q558.6,362.3 554.0,387.6M590.6,365.8Q598.9,375.2 607.3,376.3M510.9,355.5Q505.6,359.1 500.4,373.6M497.4,401.0Q500.0,387.8 502.6,378.5M600.9,407.5Q606.9,399.2 612.9,399.6M589.1,351.2Q575.2,367.2 561.3,378.3M564.1,352.1Q564.7,353.8 565.2,361.1M483.6,387.6Q489.7,397.0 495.7,411.6M612.9,399.6Q594.7,406.8 576.5,425.1M556.7,397.0Q540.8,379.7 525.0,371.9M579.3,363.4Q577.7,379.6 576.1,394.8M584.9,392.4Q579.4,395.2 573.9,405.3M610.1,388.8Q596.3,389.0 582.4,382.9M512.3,387.2Q515.0,400.7 517.8,421.9" fill="none" stroke="#e5874f" stroke-width="0.7" opacity="0.9"/>
<path d="M536.4,491.3a1.05,1.05 0 1,0 2.1,0a1.05,1.05 0 1,0 -2.1,0M546.2,492.6a1.05,1.05 0 1,0 2.1,0a1.05,1.05 0 1,0 -2.1,0M556.4,492.8a1.05,1.05 0 1,0 2.1,0a1.05,1.05 0 1,0 -2.1,0M566.3,491.9a1.05,1.05 0 1,0 2.1,0a1.05,1.05 0 1,0 -2.1,0M575.7,490.0a1.05,1.05 0 1,0 2.1,0a1.05,1.05 0 1,0 -2.1,0M516.2,483.6a1.05,1.05 0 1,0 2.1,0a1.05,1.05 0 1,0 -2.1,0M524.1,486.7a1.05,1.05 0 1,0 2.1,0a1.05,1.05 0 1,0 -2.1,0M533.1,489.0a1.05,1.05 0 1,0 2.1,0a1.05,1.05 0 1,0 -2.1,0M542.7,490.4a1.05,1.05 0 1,0 2.1,0a1.05,1.05 0 1,0 -2.1,0M552.7,490.9a1.05,1.05 0 1,0 2.1,0a1.05,1.05 0 1,0 -2.1,0M562.7,490.5a1.05,1.05 0 1,0 2.1,0a1.05,1.05 0 1,0 -2.1,0M572.4,489.2a1.05,1.05 0 1,0 2.1,0a1.05,1.05 0 1,0 -2.1,0M581.4,487.0a1.05,1.05 0 1,0 2.1,0a1.05,1.05 0 1,0 -2.1,0M589.5,484.0a1.05,1.05 0 1,0 2.1,0a1.05,1.05 0 1,0 -2.1,0M502.4,474.1a1.05,1.05 0 1,0 2.1,0a1.05,1.05 0 1,0 -2.1,0M508.7,478.1a1.05,1.05 0 1,0 2.1,0a1.05,1.05 0 1,0 -2.1,0M516.2,481.4a1.05,1.05 0 1,0 2.1,0a1.05,1.05 0 1,0 -2.1,0M524.7,484.2a1.05,1.05 0 1,0 2.1,0a1.05,1.05 0 1,0 -2.1,0M533.9,486.1a1.05,1.05 0 1,0 2.1,0a1.05,1.05 0 1,0 -2.1,0M543.7,487.3a1.05,1.05 0 1,0 2.1,0a1.05,1.05 0 1,0 -2.1,0M553.8,487.7a1.05,1.05 0 1,0 2.1,0a1.05,1.05 0 1,0 -2.1,0M563.9,487.2a1.05,1.05 0 1,0 2.1,0a1.05,1.05 0 1,0 -2.1,0M573.6,485.9a1.05,1.05 0 1,0 2.1,0a1.05,1.05 0 1,0 -2.1,0M582.8,483.9a1.05,1.05 0 1,0 2.1,0a1.05,1.05 0 1,0 -2.1,0M591.2,481.1a1.05,1.05 0 1,0 2.1,0a1.05,1.05 0 1,0 -2.1,0M598.6,477.7a1.05,1.05 0 1,0 2.1,0a1.05,1.05 0 1,0 -2.1,0M604.7,473.7a1.05,1.05 0 1,0 2.1,0a1.05,1.05 0 1,0 -2.1,0M496.3,467.4a1.05,1.05 0 1,0 2.1,0a1.05,1.05 0 1,0 -2.1,0M502.2,471.4a1.05,1.05 0 1,0 2.1,0a1.05,1.05 0 1,0 -2.1,0M509.1,474.9a1.05,1.05 0 1,0 2.1,0a1.05,1.05 0 1,0 -2.1,0M517.1,477.9a1.05,1.05 0 1,0 2.1,0a1.05,1.05 0 1,0 -2.1,0M525.8,480.3a1.05,1.05 0 1,0 2.1,0a1.05,1.05 0 1,0 -2.1,0M535.2,482.0a1.05,1.05 0 1,0 2.1,0a1.05,1.05 0 1,0 -2.1,0M545.0,483.0a1.05,1.05 0 1,0 2.1,0a1.05,1.05 0 1,0 -2.1,0M554.9,483.2a1.05,1.05 0 1,0 2.1,0a1.05,1.05 0 1,0 -2.1,0M564.8,482.7a1.05,1.05 0 1,0 2.1,0a1.05,1.05 0 1,0 -2.1,0M574.5,481.5a1.05,1.05 0 1,0 2.1,0a1.05,1.05 0 1,0 -2.1,0M583.7,479.6a1.05,1.05 0 1,0 2.1,0a1.05,1.05 0 1,0 -2.1,0M592.2,477.0a1.05,1.05 0 1,0 2.1,0a1.05,1.05 0 1,0 -2.1,0M599.8,473.8a1.05,1.05 0 1,0 2.1,0a1.05,1.05 0 1,0 -2.1,0M606.4,470.1a1.05,1.05 0 1,0 2.1,0a1.05,1.05 0 1,0 -2.1,0M611.8,465.9a1.05,1.05 0 1,0 2.1,0a1.05,1.05 0 1,0 -2.1,0M489.5,458.0a1.05,1.05 0 1,0 2.1,0a1.05,1.05 0 1,0 -2.1,0M494.7,462.4a1.05,1.05 0 1,0 2.1,0a1.05,1.05 0 1,0 -2.1,0M501.0,466.3a1.05,1.05 0 1,0 2.1,0a1.05,1.05 0 1,0 -2.1,0M508.4,469.8a1.05,1.05 0 1,0 2.1,0a1.05,1.05 0 1,0 -2.1,0M516.7,472.7a1.05,1.05 0 1,0 2.1,0a1.05,1.05 0 1,0 -2.1,0M525.8,474.9a1.05,1.05 0 1,0 2.1,0a1.05,1.05 0 1,0 -2.1,0M535.4,476.5a1.05,1.05 0 1,0 2.1,0a1.05,1.05 0 1,0 -2.1,0M545.4,477.5a1.05,1.05 0 1,0 2.1,0a1.05,1.05 0 1,0 -2.1,0M555.5,477.7a1.05,1.05 0 1,0 2.1,0a1.05,1.05 0 1,0 -2.1,0M565.6,477.1a1.05,1.05 0 1,0 2.1,0a1.05,1.05 0 1,0 -2.1,0M575.4,475.9a1.05,1.05 0 1,0 2.1,0a1.05,1.05 0 1,0 -2.1,0M584.8,474.0a1.05,1.05 0 1,0 2.1,0a1.05,1.05 0 1,0 -2.1,0M593.6,471.4a1.05,1.05 0 1,0 2.1,0a1.05,1.05 0 1,0 -2.1,0M601.5,468.3a1.05,1.05 0 1,0 2.1,0a1.05,1.05 0 1,0 -2.1,0M608.5,464.6a1.05,1.05 0 1,0 2.1,0a1.05,1.05 0 1,0 -2.1,0M614.3,460.5a1.05,1.05 0 1,0 2.1,0a1.05,1.05 0 1,0 -2.1,0M618.9,456.0a1.05,1.05 0 1,0 2.1,0a1.05,1.05 0 1,0 -2.1,0M481.1,443.0a1.05,1.05 0 1,0 2.1,0a1.05,1.05 0 1,0 -2.1,0M484.2,447.8a1.05,1.05 0 1,0 2.1,0a1.05,1.05 0 1,0 -2.1,0M488.6,452.3a1.05,1.05 0 1,0 2.1,0a1.05,1.05 0 1,0 -2.1,0M494.2,456.5a1.05,1.05 0 1,0 2.1,0a1.05,1.05 0 1,0 -2.1,0M500.9,460.3a1.05,1.05 0 1,0 2.1,0a1.05,1.05 0 1,0 -2.1,0M508.5,463.6a1.05,1.05 0 1,0 2.1,0a1.05,1.05 0 1,0 -2.1,0M517.0,466.4a1.05,1.05 0 1,0 2.1,0a1.05,1.05 0 1,0 -2.1,0M526.2,468.5a1.05,1.05 0 1,0 2.1,0a1.05,1.05 0 1,0 -2.1,0M535.9,470.1a1.05,1.05 0 1,0 2.1,0a1.05,1.05 0 1,0 -2.1,0M545.9,470.9a1.05,1.05 0 1,0 2.1,0a1.05,1.05 0 1,0 -2.1,0M556.1,471.0a1.05,1.05 0 1,0 2.1,0a1.05,1.05 0 1,0 -2.1,0M566.2,470.5a1.05,1.05 0 1,0 2.1,0a1.05,1.05 0 1,0 -2.1,0M576.0,469.3a1.05,1.05 0 1,0 2.1,0a1.05,1.05 0 1,0 -2.1,0M585.4,467.4a1.05,1.05 0 1,0 2.1,0a1.05,1.05 0 1,0 -2.1,0M594.3,464.9a1.05,1.05 0 1,0 2.1,0a1.05,1.05 0 1,0 -2.1,0M602.3,461.9a1.05,1.05 0 1,0 2.1,0a1.05,1.05 0 1,0 -2.1,0M609.5,458.3a1.05,1.05 0 1,0 2.1,0a1.05,1.05 0 1,0 -2.1,0M615.6,454.2a1.05,1.05 0 1,0 2.1,0a1.05,1.05 0 1,0 -2.1,0M620.5,449.8a1.05,1.05 0 1,0 2.1,0a1.05,1.05 0 1,0 -2.1,0M624.2,445.1a1.05,1.05 0 1,0 2.1,0a1.05,1.05 0 1,0 -2.1,0M478.1,432.2a1.05,1.05 0 1,0 2.1,0a1.05,1.05 0 1,0 -2.1,0M480.4,437.0a1.05,1.05 0 1,0 2.1,0a1.05,1.05 0 1,0 -2.1,0M484.1,441.6a1.05,1.05 0 1,0 2.1,0a1.05,1.05 0 1,0 -2.1,0M488.9,446.0a1.05,1.05 0 1,0 2.1,0a1.05,1.05 0 1,0 -2.1,0M494.8,450.0a1.05,1.05 0 1,0 2.1,0a1.05,1.05 0 1,0 -2.1,0M501.7,453.6a1.05,1.05 0 1,0 2.1,0a1.05,1.05 0 1,0 -2.1,0M509.5,456.7a1.05,1.05 0 1,0 2.1,0a1.05,1.05 0 1,0 -2.1,0M518.0,459.2a1.05,1.05 0 1,0 2.1,0a1.05,1.05 0 1,0 -2.1,0M527.1,461.2a1.05,1.05 0 1,0 2.1,0a1.05,1.05 0 1,0 -2.1,0M536.7,462.6a1.05,1.05 0 1,0 2.1,0a1.05,1.05 0 1,0 -2.1,0M546.6,463.4a1.05,1.05 0 1,0 2.1,0a1.05,1.05 0 1,0 -2.1,0M556.6,463.5a1.05,1.05 0 1,0 2.1,0a1.05,1.05 0 1,0 -2.1,0M566.5,463.0a1.05,1.05 0 1,0 2.1,0a1.05,1.05 0 1,0 -2.1,0M576.2,461.8a1.05,1.05 0 1,0 2.1,0a1.05,1.05 0 1,0 -2.1,0M585.5,460.0a1.05,1.05 0 1,0 2.1,0a1.05,1.05 0 1,0 -2.1,0M594.3,457.6a1.05,1.05 0 1,0 2.1,0a1.05,1.05 0 1,0 -2.1,0M602.3,454.7a1.05,1.05 0 1,0 2.1,0a1.05,1.05 0 1,0 -2.1,0M609.5,451.2a1.05,1.05 0 1,0 2.1,0a1.05,1.05 0 1,0 -2.1,0M615.8,447.3a1.05,1.05 0 1,0 2.1,0a1.05,1.05 0 1,0 -2.1,0M621.0,443.1a1.05,1.05 0 1,0 2.1,0a1.05,1.05 0 1,0 -2.1,0M625.0,438.6a1.05,1.05 0 1,0 2.1,0a1.05,1.05 0 1,0 -2.1,0M627.8,433.8a1.05,1.05 0 1,0 2.1,0a1.05,1.05 0 1,0 -2.1,0M477.4,423.6a1.05,1.05 0 1,0 2.1,0a1.05,1.05 0 1,0 -2.1,0M479.8,428.4a1.05,1.05 0 1,0 2.1,0a1.05,1.05 0 1,0 -2.1,0M483.5,433.1a1.05,1.05 0 1,0 2.1,0a1.05,1.05 0 1,0 -2.1,0M488.3,437.5a1.05,1.05 0 1,0 2.1,0a1.05,1.05 0 1,0 -2.1,0M494.3,441.5a1.05,1.05 0 1,0 2.1,0a1.05,1.05 0 1,0 -2.1,0M501.2,445.1a1.05,1.05 0 1,0 2.1,0a1.05,1.05 0 1,0 -2.1,0M509.1,448.3a1.05,1.05 0 1,0 2.1,0a1.05,1.05 0 1,0 -2.1,0M517.7,450.9a1.05,1.05 0 1,0 2.1,0a1.05,1.05 0 1,0 -2.1,0M526.9,452.9a1.05,1.05 0 1,0 2.1,0a1.05,1.05 0 1,0 -2.1,0M536.6,454.3a1.05,1.05 0 1,0 2.1,0a1.05,1.05 0 1,0 -2.1,0M546.5,455.1a1.05,1.05 0 1,0 2.1,0a1.05,1.05 0 1,0 -2.1,0M556.6,455.2a1.05,1.05 0 1,0 2.1,0a1.05,1.05 0 1,0 -2.1,0M566.6,454.6a1.05,1.05 0 1,0 2.1,0a1.05,1.05 0 1,0 -2.1,0M576.4,453.4a1.05,1.05 0 1,0 2.1,0a1.05,1.05 0 1,0 -2.1,0M585.8,451.6a1.05,1.05 0 1,0 2.1,0a1.05,1.05 0 1,0 -2.1,0M594.6,449.2a1.05,1.05 0 1,0 2.1,0a1.05,1.05 0 1,0 -2.1,0M602.7,446.2a1.05,1.05 0 1,0 2.1,0a1.05,1.05 0 1,0 -2.1,0M610.0,442.8a1.05,1.05 0 1,0 2.1,0a1.05,1.05 0 1,0 -2.1,0M616.3,438.9a1.05,1.05 0 1,0 2.1,0a1.05,1.05 0 1,0 -2.1,0M621.5,434.6a1.05,1.05 0 1,0 2.1,0a1.05,1.05 0 1,0 -2.1,0M625.6,430.0a1.05,1.05 0 1,0 2.1,0a1.05,1.05 0 1,0 -2.1,0M628.4,425.2a1.05,1.05 0 1,0 2.1,0a1.05,1.05 0 1,0 -2.1,0M630.0,420.2a1.05,1.05 0 1,0 2.1,0a1.05,1.05 0 1,0 -2.1,0M477.0,409.9a1.05,1.05 0 1,0 2.1,0a1.05,1.05 0 1,0 -2.1,0M478.1,414.8a1.05,1.05 0 1,0 2.1,0a1.05,1.05 0 1,0 -2.1,0M480.4,419.7a1.05,1.05 0 1,0 2.1,0a1.05,1.05 0 1,0 -2.1,0M484.1,424.3a1.05,1.05 0 1,0 2.1,0a1.05,1.05 0 1,0 -2.1,0M488.9,428.6a1.05,1.05 0 1,0 2.1,0a1.05,1.05 0 1,0 -2.1,0M494.8,432.7a1.05,1.05 0 1,0 2.1,0a1.05,1.05 0 1,0 -2.1,0M501.7,436.2a1.05,1.05 0 1,0 2.1,0a1.05,1.05 0 1,0 -2.1,0M509.5,439.4a1.05,1.05 0 1,0 2.1,0a1.05,1.05 0 1,0 -2.1,0M518.0,441.9a1.05,1.05 0 1,0 2.1,0a1.05,1.05 0 1,0 -2.1,0M527.1,443.9a1.05,1.05 0 1,0 2.1,0a1.05,1.05 0 1,0 -2.1,0M536.7,445.3a1.05,1.05 0 1,0 2.1,0a1.05,1.05 0 1,0 -2.1,0M546.6,446.1a1.05,1.05 0 1,0 2.1,0a1.05,1.05 0 1,0 -2.1,0M556.6,446.2a1.05,1.05 0 1,0 2.1,0a1.05,1.05 0 1,0 -2.1,0M566.5,445.6a1.05,1.05 0 1,0 2.1,0a1.05,1.05 0 1,0 -2.1,0M576.2,444.5a1.05,1.05 0 1,0 2.1,0a1.05,1.05 0 1,0 -2.1,0M585.5,442.7a1.05,1.05 0 1,0 2.1,0a1.05,1.05 0 1,0 -2.1,0M594.3,440.3a1.05,1.05 0 1,0 2.1,0a1.05,1.05 0 1,0 -2.1,0M602.3,437.3a1.05,1.05 0 1,0 2.1,0a1.05,1.05 0 1,0 -2.1,0M609.5,433.9a1.05,1.05 0 1,0 2.1,0a1.05,1.05 0 1,0 -2.1,0M615.8,430.0a1.05,1.05 0 1,0 2.1,0a1.05,1.05 0 1,0 -2.1,0M621.0,425.8a1.05,1.05 0 1,0 2.1,0a1.05,1.05 0 1,0 -2.1,0M625.0,421.2a1.05,1.05 0 1,0 2.1,0a1.05,1.05 0 1,0 -2.1,0M627.8,416.5a1.05,1.05 0 1,0 2.1,0a1.05,1.05 0 1,0 -2.1,0M629.3,411.5a1.05,1.05 0 1,0 2.1,0a1.05,1.05 0 1,0 -2.1,0M478.9,398.6a1.05,1.05 0 1,0 2.1,0a1.05,1.05 0 1,0 -2.1,0M479.3,403.7a1.05,1.05 0 1,0 2.1,0a1.05,1.05 0 1,0 -2.1,0M481.1,408.6a1.05,1.05 0 1,0 2.1,0a1.05,1.05 0 1,0 -2.1,0M484.2,413.4a1.05,1.05 0 1,0 2.1,0a1.05,1.05 0 1,0 -2.1,0M488.6,418.0a1.05,1.05 0 1,0 2.1,0a1.05,1.05 0 1,0 -2.1,0M494.2,422.2a1.05,1.05 0 1,0 2.1,0a1.05,1.05 0 1,0 -2.1,0M500.9,426.0a1.05,1.05 0 1,0 2.1,0a1.05,1.05 0 1,0 -2.1,0M508.5,429.3a1.05,1.05 0 1,0 2.1,0a1.05,1.05 0 1,0 -2.1,0M517.0,432.0a1.05,1.05 0 1,0 2.1,0a1.05,1.05 0 1,0 -2.1,0M526.2,434.2a1.05,1.05 0 1,0 2.1,0a1.05,1.05 0 1,0 -2.1,0M535.9,435.7a1.05,1.05 0 1,0 2.1,0a1.05,1.05 0 1,0 -2.1,0M545.9,436.5a1.05,1.05 0 1,0 2.1,0a1.05,1.05 0 1,0 -2.1,0M556.1,436.7a1.05,1.05 0 1,0 2.1,0a1.05,1.05 0 1,0 -2.1,0M566.2,436.2a1.05,1.05 0 1,0 2.1,0a1.05,1.05 0 1,0 -2.1,0M576.0,435.0a1.05,1.05 0 1,0 2.1,0a1.05,1.05 0 1,0 -2.1,0M585.4,433.1a1.05,1.05 0 1,0 2.1,0a1.05,1.05 0 1,0 -2.1,0M594.3,430.6a1.05,1.05 0 1,0 2.1,0a1.05,1.05 0 1,0 -2.1,0M602.3,427.5a1.05,1.05 0 1,0 2.1,0a1.05,1.05 0 1,0 -2.1,0M609.5,423.9a1.05,1.05 0 1,0 2.1,0a1.05,1.05 0 1,0 -2.1,0M615.6,419.9a1.05,1.05 0 1,0 2.1,0a1.05,1.05 0 1,0 -2.1,0M620.5,415.5a1.05,1.05 0 1,0 2.1,0a1.05,1.05 0 1,0 -2.1,0M624.2,410.8a1.05,1.05 0 1,0 2.1,0a1.05,1.05 0 1,0 -2.1,0M626.6,405.9a1.05,1.05 0 1,0 2.1,0a1.05,1.05 0 1,0 -2.1,0M627.6,400.9a1.05,1.05 0 1,0 2.1,0a1.05,1.05 0 1,0 -2.1,0M482.5,387.6a1.05,1.05 0 1,0 2.1,0a1.05,1.05 0 1,0 -2.1,0M482.1,392.6a1.05,1.05 0 1,0 2.1,0a1.05,1.05 0 1,0 -2.1,0M483.2,397.7a1.05,1.05 0 1,0 2.1,0a1.05,1.05 0 1,0 -2.1,0M485.7,402.6a1.05,1.05 0 1,0 2.1,0a1.05,1.05 0 1,0 -2.1,0M489.5,407.2a1.05,1.05 0 1,0 2.1,0a1.05,1.05 0 1,0 -2.1,0M494.7,411.6a1.05,1.05 0 1,0 2.1,0a1.05,1.05 0 1,0 -2.1,0M501.0,415.5a1.05,1.05 0 1,0 2.1,0a1.05,1.05 0 1,0 -2.1,0M508.4,419.0a1.05,1.05 0 1,0 2.1,0a1.05,1.05 0 1,0 -2.1,0M516.7,421.9a1.05,1.05 0 1,0 2.1,0a1.05,1.05 0 1,0 -2.1,0M525.8,424.2a1.05,1.05 0 1,0 2.1,0a1.05,1.05 0 1,0 -2.1,0M535.4,425.8a1.05,1.05 0 1,0 2.1,0a1.05,1.05 0 1,0 -2.1,0M545.4,426.7a1.05,1.05 0 1,0 2.1,0a1.05,1.05 0 1,0 -2.1,0M555.5,426.9a1.05,1.05 0 1,0 2.1,0a1.05,1.05 0 1,0 -2.1,0M565.6,426.4a1.05,1.05 0 1,0 2.1,0a1.05,1.05 0 1,0 -2.1,0M575.4,425.1a1.05,1.05 0 1,0 2.1,0a1.05,1.05 0 1,0 -2.1,0M584.8,423.2a1.05,1.05 0 1,0 2.1,0a1.05,1.05 0 1,0 -2.1,0M593.6,420.7a1.05,1.05 0 1,0 2.1,0a1.05,1.05 0 1,0 -2.1,0M601.5,417.5a1.05,1.05 0 1,0 2.1,0a1.05,1.05 0 1,0 -2.1,0M608.5,413.8a1.05,1.05 0 1,0 2.1,0a1.05,1.05 0 1,0 -2.1,0M614.3,409.7a1.05,1.05 0 1,0 2.1,0a1.05,1.05 0 1,0 -2.1,0M618.9,405.2a1.05,1.05 0 1,0 2.1,0a1.05,1.05 0 1,0 -2.1,0M622.1,400.4a1.05,1.05 0 1,0 2.1,0a1.05,1.05 0 1,0 -2.1,0M624.0,395.4a1.05,1.05 0 1,0 2.1,0a1.05,1.05 0 1,0 -2.1,0M624.4,390.4a1.05,1.05 0 1,0 2.1,0a1.05,1.05 0 1,0 -2.1,0M487.9,377.2a1.05,1.05 0 1,0 2.1,0a1.05,1.05 0 1,0 -2.1,0M486.6,382.1a1.05,1.05 0 1,0 2.1,0a1.05,1.05 0 1,0 -2.1,0M486.9,387.0a1.05,1.05 0 1,0 2.1,0a1.05,1.05 0 1,0 -2.1,0M488.6,391.9a1.05,1.05 0 1,0 2.1,0a1.05,1.05 0 1,0 -2.1,0M491.8,396.6a1.05,1.05 0 1,0 2.1,0a1.05,1.05 0 1,0 -2.1,0M496.3,401.0a1.05,1.05 0 1,0 2.1,0a1.05,1.05 0 1,0 -2.1,0M502.2,405.0a1.05,1.05 0 1,0 2.1,0a1.05,1.05 0 1,0 -2.1,0M509.1,408.6a1.05,1.05 0 1,0 2.1,0a1.05,1.05 0 1,0 -2.1,0M517.1,411.6a1.05,1.05 0 1,0 2.1,0a1.05,1.05 0 1,0 -2.1,0M525.8,414.0a1.05,1.05 0 1,0 2.1,0a1.05,1.05 0 1,0 -2.1,0M535.2,415.7a1.05,1.05 0 1,0 2.1,0a1.05,1.05 0 1,0 -2.1,0M545.0,416.6a1.05,1.05 0 1,0 2.1,0a1.05,1.05 0 1,0 -2.1,0M554.9,416.9a1.05,1.05 0 1,0 2.1,0a1.05,1.05 0 1,0 -2.1,0M564.8,416.4a1.05,1.05 0 1,0 2.1,0a1.05,1.05 0 1,0 -2.1,0M574.5,415.2a1.05,1.05 0 1,0 2.1,0a1.05,1.05 0 1,0 -2.1,0M583.7,413.2a1.05,1.05 0 1,0 2.1,0a1.05,1.05 0 1,0 -2.1,0M592.2,410.7a1.05,1.05 0 1,0 2.1,0a1.05,1.05 0 1,0 -2.1,0M599.8,407.5a1.05,1.05 0 1,0 2.1,0a1.05,1.05 0 1,0 -2.1,0M606.4,403.8a1.05,1.05 0 1,0 2.1,0a1.05,1.05 0 1,0 -2.1,0M611.8,399.6a1.05,1.05 0 1,0 2.1,0a1.05,1.05 0 1,0 -2.1,0M615.9,395.1a1.05,1.05 0 1,0 2.1,0a1.05,1.05 0 1,0 -2.1,0M618.6,390.3a1.05,1.05 0 1,0 2.1,0a1.05,1.05 0 1,0 -2.1,0M619.9,385.4a1.05,1.05 0 1,0 2.1,0a1.05,1.05 0 1,0 -2.1,0M619.6,380.4a1.05,1.05 0 1,0 2.1,0a1.05,1.05 0 1,0 -2.1,0M617.9,375.5a1.05,1.05 0 1,0 2.1,0a1.05,1.05 0 1,0 -2.1,0M494.1,368.9a1.05,1.05 0 1,0 2.1,0a1.05,1.05 0 1,0 -2.1,0M492.4,373.9a1.05,1.05 0 1,0 2.1,0a1.05,1.05 0 1,0 -2.1,0M492.4,378.9a1.05,1.05 0 1,0 2.1,0a1.05,1.05 0 1,0 -2.1,0M494.0,383.8a1.05,1.05 0 1,0 2.1,0a1.05,1.05 0 1,0 -2.1,0M497.2,388.6a1.05,1.05 0 1,0 2.1,0a1.05,1.05 0 1,0 -2.1,0M502.0,393.0a1.05,1.05 0 1,0 2.1,0a1.05,1.05 0 1,0 -2.1,0M508.1,397.0a1.05,1.05 0 1,0 2.1,0a1.05,1.05 0 1,0 -2.1,0M515.5,400.4a1.05,1.05 0 1,0 2.1,0a1.05,1.05 0 1,0 -2.1,0M524.0,403.2a1.05,1.05 0 1,0 2.1,0a1.05,1.05 0 1,0 -2.1,0M533.2,405.2a1.05,1.05 0 1,0 2.1,0a1.05,1.05 0 1,0 -2.1,0M543.0,406.5a1.05,1.05 0 1,0 2.1,0a1.05,1.05 0 1,0 -2.1,0M553.0,406.9a1.05,1.05 0 1,0 2.1,0a1.05,1.05 0 1,0 -2.1,0M563.1,406.5a1.05,1.05 0 1,0 2.1,0a1.05,1.05 0 1,0 -2.1,0M572.9,405.3a1.05,1.05 0 1,0 2.1,0a1.05,1.05 0 1,0 -2.1,0M582.1,403.3a1.05,1.05 0 1,0 2.1,0a1.05,1.05 0 1,0 -2.1,0M590.6,400.6a1.05,1.05 0 1,0 2.1,0a1.05,1.05 0 1,0 -2.1,0M598.0,397.2a1.05,1.05 0 1,0 2.1,0a1.05,1.05 0 1,0 -2.1,0M604.3,393.2a1.05,1.05 0 1,0 2.1,0a1.05,1.05 0 1,0 -2.1,0M609.1,388.8a1.05,1.05 0 1,0 2.1,0a1.05,1.05 0 1,0 -2.1,0M612.4,384.1a1.05,1.05 0 1,0 2.1,0a1.05,1.05 0 1,0 -2.1,0M614.1,379.1a1.05,1.05 0 1,0 2.1,0a1.05,1.05 0 1,0 -2.1,0M614.1,374.1a1.05,1.05 0 1,0 2.1,0a1.05,1.05 0 1,0 -2.1,0M612.5,369.2a1.05,1.05 0 1,0 2.1,0a1.05,1.05 0 1,0 -2.1,0M503.5,359.0a1.05,1.05 0 1,0 2.1,0a1.05,1.05 0 1,0 -2.1,0M500.3,363.7a1.05,1.05 0 1,0 2.1,0a1.05,1.05 0 1,0 -2.1,0M498.9,368.7a1.05,1.05 0 1,0 2.1,0a1.05,1.05 0 1,0 -2.1,0M499.3,373.6a1.05,1.05 0 1,0 2.1,0a1.05,1.05 0 1,0 -2.1,0M501.6,378.5a1.05,1.05 0 1,0 2.1,0a1.05,1.05 0 1,0 -2.1,0M505.6,383.1a1.05,1.05 0 1,0 2.1,0a1.05,1.05 0 1,0 -2.1,0M511.3,387.2a1.05,1.05 0 1,0 2.1,0a1.05,1.05 0 1,0 -2.1,0M518.3,390.8a1.05,1.05 0 1,0 2.1,0a1.05,1.05 0 1,0 -2.1,0M526.6,393.6a1.05,1.05 0 1,0 2.1,0a1.05,1.05 0 1,0 -2.1,0M535.8,395.6a1.05,1.05 0 1,0 2.1,0a1.05,1.05 0 1,0 -2.1,0M545.6,396.8a1.05,1.05 0 1,0 2.1,0a1.05,1.05 0 1,0 -2.1,0M555.6,397.0a1.05,1.05 0 1,0 2.1,0a1.05,1.05 0 1,0 -2.1,0M565.6,396.4a1.05,1.05 0 1,0 2.1,0a1.05,1.05 0 1,0 -2.1,0M575.1,394.8a1.05,1.05 0 1,0 2.1,0a1.05,1.05 0 1,0 -2.1,0M583.9,392.4a1.05,1.05 0 1,0 2.1,0a1.05,1.05 0 1,0 -2.1,0M591.6,389.2a1.05,1.05 0 1,0 2.1,0a1.05,1.05 0 1,0 -2.1,0M598.1,385.4a1.05,1.05 0 1,0 2.1,0a1.05,1.05 0 1,0 -2.1,0M603.0,381.0a1.05,1.05 0 1,0 2.1,0a1.05,1.05 0 1,0 -2.1,0M606.2,376.3a1.05,1.05 0 1,0 2.1,0a1.05,1.05 0 1,0 -2.1,0M607.6,371.3a1.05,1.05 0 1,0 2.1,0a1.05,1.05 0 1,0 -2.1,0M607.2,366.3a1.05,1.05 0 1,0 2.1,0a1.05,1.05 0 1,0 -2.1,0M604.9,361.4a1.05,1.05 0 1,0 2.1,0a1.05,1.05 0 1,0 -2.1,0M514.6,351.0a1.05,1.05 0 1,0 2.1,0a1.05,1.05 0 1,0 -2.1,0M509.8,355.5a1.05,1.05 0 1,0 2.1,0a1.05,1.05 0 1,0 -2.1,0M507.1,360.3a1.05,1.05 0 1,0 2.1,0a1.05,1.05 0 1,0 -2.1,0M506.4,365.3a1.05,1.05 0 1,0 2.1,0a1.05,1.05 0 1,0 -2.1,0M508.0,370.3a1.05,1.05 0 1,0 2.1,0a1.05,1.05 0 1,0 -2.1,0M511.7,375.0a1.05,1.05 0 1,0 2.1,0a1.05,1.05 0 1,0 -2.1,0M517.3,379.2a1.05,1.05 0 1,0 2.1,0a1.05,1.05 0 1,0 -2.1,0M524.6,382.7a1.05,1.05 0 1,0 2.1,0a1.05,1.05 0 1,0 -2.1,0M533.3,385.4a1.05,1.05 0 1,0 2.1,0a1.05,1.05 0 1,0 -2.1,0M542.8,387.0a1.05,1.05 0 1,0 2.1,0a1.05,1.05 0 1,0 -2.1,0M552.9,387.6a1.05,1.05 0 1,0 2.1,0a1.05,1.05 0 1,0 -2.1,0M563.0,387.1a1.05,1.05 0 1,0 2.1,0a1.05,1.05 0 1,0 -2.1,0M572.6,385.5a1.05,1.05 0 1,0 2.1,0a1.05,1.05 0 1,0 -2.1,0M581.3,382.9a1.05,1.05 0 1,0 2.1,0a1.05,1.05 0 1,0 -2.1,0M588.7,379.5a1.05,1.05 0 1,0 2.1,0a1.05,1.05 0 1,0 -2.1,0M594.5,375.3a1.05,1.05 0 1,0 2.1,0a1.05,1.05 0 1,0 -2.1,0M598.3,370.7a1.05,1.05 0 1,0 2.1,0a1.05,1.05 0 1,0 -2.1,0M600.0,365.7a1.05,1.05 0 1,0 2.1,0a1.05,1.05 0 1,0 -2.1,0M599.6,360.7a1.05,1.05 0 1,0 2.1,0a1.05,1.05 0 1,0 -2.1,0M596.9,355.8a1.05,1.05 0 1,0 2.1,0a1.05,1.05 0 1,0 -2.1,0M592.2,351.3a1.05,1.05 0 1,0 2.1,0a1.05,1.05 0 1,0 -2.1,0M528.3,344.9a1.05,1.05 0 1,0 2.1,0a1.05,1.05 0 1,0 -2.1,0M521.5,348.6a1.05,1.05 0 1,0 2.1,0a1.05,1.05 0 1,0 -2.1,0M517.0,353.0a1.05,1.05 0 1,0 2.1,0a1.05,1.05 0 1,0 -2.1,0M514.9,357.9a1.05,1.05 0 1,0 2.1,0a1.05,1.05 0 1,0 -2.1,0M515.4,362.9a1.05,1.05 0 1,0 2.1,0a1.05,1.05 0 1,0 -2.1,0M518.5,367.7a1.05,1.05 0 1,0 2.1,0a1.05,1.05 0 1,0 -2.1,0M524.0,371.9a1.05,1.05 0 1,0 2.1,0a1.05,1.05 0 1,0 -2.1,0M531.4,375.2a1.05,1.05 0 1,0 2.1,0a1.05,1.05 0 1,0 -2.1,0M540.4,377.5a1.05,1.05 0 1,0 2.1,0a1.05,1.05 0 1,0 -2.1,0M550.2,378.5a1.05,1.05 0 1,0 2.1,0a1.05,1.05 0 1,0 -2.1,0M560.2,378.3a1.05,1.05 0 1,0 2.1,0a1.05,1.05 0 1,0 -2.1,0M569.8,376.7a1.05,1.05 0 1,0 2.1,0a1.05,1.05 0 1,0 -2.1,0M578.2,374.0a1.05,1.05 0 1,0 2.1,0a1.05,1.05 0 1,0 -2.1,0M585.0,370.3a1.05,1.05 0 1,0 2.1,0a1.05,1.05 0 1,0 -2.1,0M589.5,365.8a1.05,1.05 0 1,0 2.1,0a1.05,1.05 0 1,0 -2.1,0M591.6,361.0a1.05,1.05 0 1,0 2.1,0a1.05,1.05 0 1,0 -2.1,0M591.1,356.0a1.05,1.05 0 1,0 2.1,0a1.05,1.05 0 1,0 -2.1,0M588.0,351.2a1.05,1.05 0 1,0 2.1,0a1.05,1.05 0 1,0 -2.1,0M582.5,347.0a1.05,1.05 0 1,0 2.1,0a1.05,1.05 0 1,0 -2.1,0M575.1,343.7a1.05,1.05 0 1,0 2.1,0a1.05,1.05 0 1,0 -2.1,0M544.1,341.7a1.05,1.05 0 1,0 2.1,0a1.05,1.05 0 1,0 -2.1,0M535.1,344.0a1.05,1.05 0 1,0 2.1,0a1.05,1.05 0 1,0 -2.1,0M528.3,347.8a1.05,1.05 0 1,0 2.1,0a1.05,1.05 0 1,0 -2.1,0M524.4,352.6a1.05,1.05 0 1,0 2.1,0a1.05,1.05 0 1,0 -2.1,0M524.1,357.6a1.05,1.05 0 1,0 2.1,0a1.05,1.05 0 1,0 -2.1,0M527.2,362.5a1.05,1.05 0 1,0 2.1,0a1.05,1.05 0 1,0 -2.1,0M533.5,366.5a1.05,1.05 0 1,0 2.1,0a1.05,1.05 0 1,0 -2.1,0M542.2,369.2a1.05,1.05 0 1,0 2.1,0a1.05,1.05 0 1,0 -2.1,0M552.2,370.3a1.05,1.05 0 1,0 2.1,0a1.05,1.05 0 1,0 -2.1,0M562.4,369.5a1.05,1.05 0 1,0 2.1,0a1.05,1.05 0 1,0 -2.1,0M571.4,367.2a1.05,1.05 0 1,0 2.1,0a1.05,1.05 0 1,0 -2.1,0M578.2,363.4a1.05,1.05 0 1,0 2.1,0a1.05,1.05 0 1,0 -2.1,0M582.1,358.6a1.05,1.05 0 1,0 2.1,0a1.05,1.05 0 1,0 -2.1,0M582.4,353.6a1.05,1.05 0 1,0 2.1,0a1.05,1.05 0 1,0 -2.1,0M579.3,348.7a1.05,1.05 0 1,0 2.1,0a1.05,1.05 0 1,0 -2.1,0M573.0,344.7a1.05,1.05 0 1,0 2.1,0a1.05,1.05 0 1,0 -2.1,0M564.3,342.0a1.05,1.05 0 1,0 2.1,0a1.05,1.05 0 1,0 -2.1,0M554.3,340.9a1.05,1.05 0 1,0 2.1,0a1.05,1.05 0 1,0 -2.1,0M542.4,344.5a1.05,1.05 0 1,0 2.1,0a1.05,1.05 0 1,0 -2.1,0M535.5,348.3a1.05,1.05 0 1,0 2.1,0a1.05,1.05 0 1,0 -2.1,0M533.4,353.3a1.05,1.05 0 1,0 2.1,0a1.05,1.05 0 1,0 -2.1,0M536.6,358.2a1.05,1.05 0 1,0 2.1,0a1.05,1.05 0 1,0 -2.1,0M544.2,361.7a1.05,1.05 0 1,0 2.1,0a1.05,1.05 0 1,0 -2.1,0M554.3,362.7a1.05,1.05 0 1,0 2.1,0a1.05,1.05 0 1,0 -2.1,0M564.1,361.1a1.05,1.05 0 1,0 2.1,0a1.05,1.05 0 1,0 -2.1,0M571.0,357.3a1.05,1.05 0 1,0 2.1,0a1.05,1.05 0 1,0 -2.1,0M573.1,352.3a1.05,1.05 0 1,0 2.1,0a1.05,1.05 0 1,0 -2.1,0M569.9,347.4a1.05,1.05 0 1,0 2.1,0a1.05,1.05 0 1,0 -2.1,0M562.3,344.0a1.05,1.05 0 1,0 2.1,0a1.05,1.05 0 1,0 -2.1,0M552.2,342.9a1.05,1.05 0 1,0 2.1,0a1.05,1.05 0 1,0 -2.1,0M550.1,346.4a1.05,1.05 0 1,0 2.1,0a1.05,1.05 0 1,0 -2.1,0M543.4,350.1a1.05,1.05 0 1,0 2.1,0a1.05,1.05 0 1,0 -2.1,0M546.6,354.9a1.05,1.05 0 1,0 2.1,0a1.05,1.05 0 1,0 -2.1,0M556.4,355.9a1.05,1.05 0 1,0 2.1,0a1.05,1.05 0 1,0 -2.1,0M563.1,352.1a1.05,1.05 0 1,0 2.1,0a1.05,1.05 0 1,0 -2.1,0M559.9,347.4a1.05,1.05 0 1,0 2.1,0a1.05,1.05 0 1,0 -2.1,0" fill="#f4f4f4"/>
<defs><mask id="outg"><rect x="440" y="300" width="250" height="220" fill="#fff"/><ellipse cx="554.3" cy="416.9" rx="77.3" ry="76.91499999999999" fill="#000"/></mask></defs>
<path d="M473.2,373.0A84.1,45.8 7.0 0 0 640.1,393.7M479.5,369.1A79.1,46.9 8.8 0 0 635.9,393.2M480.4,371.3A74.1,48.2 8.2 0 0 627.1,392.3M469.5,374.6A84.6,47.1 7.7 0 0 637.2,397.2M475.2,373.0A79.3,42.8 5.1 0 0 633.3,387.2M477.3,367.8A78.6,45.6 9.1 0 0 632.5,392.5M478.7,374.6A79.0,47.2 6.7 0 0 635.6,393.1M471.2,373.8A84.9,48.4 8.2 0 0 639.3,398.2M479.9,369.9A76.5,42.9 8.6 0 0 631.1,392.8M479.5,372.8A77.6,49.3 9.1 0 0 632.9,397.3M470.3,366.9A83.9,45.8 9.9 0 0 635.7,395.7M476.0,372.6A80.6,48.0 5.6 0 0 636.3,388.3M469.4,375.1A84.6,47.9 4.7 0 0 638.0,388.9M481.5,374.1A73.7,48.1 5.1 0 0 628.4,387.1M482.4,376.4A75.3,47.7 4.8 0 0 632.5,389.0M480.5,373.1A78.0,43.9 5.6 0 0 635.8,388.3M484.4,377.8A76.6,48.8 5.3 0 0 637.1,391.9M476.7,371.2A80.7,43.1 9.9 0 0 635.6,399.1M472.9,373.3A82.3,44.8 5.8 0 0 636.6,389.8M474.3,370.0A80.0,44.1 7.6 0 0 632.9,391.1M472.2,371.8A84.5,45.9 7.4 0 0 639.8,393.7M486.0,369.5A74.8,48.9 8.9 0 0 633.9,392.7M473.5,373.7A81.9,49.2 5.2 0 0 636.5,388.5M480.6,378.8A80.2,45.4 4.6 0 0 640.6,391.8M477.8,378.4A75.9,47.5 5.5 0 0 628.8,393.1M483.9,372.5A76.5,43.7 8.3 0 0 635.3,394.7" fill="none" stroke="#e5874f" stroke-width="0.9" opacity="0.95"/>
<path d="M473.2,373.0A84.1,45.8 7.0 0 1 640.1,393.7M479.5,369.1A79.1,46.9 8.8 0 1 635.9,393.2M480.4,371.3A74.1,48.2 8.2 0 1 627.1,392.3M469.5,374.6A84.6,47.1 7.7 0 1 637.2,397.2M475.2,373.0A79.3,42.8 5.1 0 1 633.3,387.2M477.3,367.8A78.6,45.6 9.1 0 1 632.5,392.5M478.7,374.6A79.0,47.2 6.7 0 1 635.6,393.1M471.2,373.8A84.9,48.4 8.2 0 1 639.3,398.2M479.9,369.9A76.5,42.9 8.6 0 1 631.1,392.8M479.5,372.8A77.6,49.3 9.1 0 1 632.9,397.3M470.3,366.9A83.9,45.8 9.9 0 1 635.7,395.7M476.0,372.6A80.6,48.0 5.6 0 1 636.3,388.3M469.4,375.1A84.6,47.9 4.7 0 1 638.0,388.9M481.5,374.1A73.7,48.1 5.1 0 1 628.4,387.1M482.4,376.4A75.3,47.7 4.8 0 1 632.5,389.0M480.5,373.1A78.0,43.9 5.6 0 1 635.8,388.3M484.4,377.8A76.6,48.8 5.3 0 1 637.1,391.9M476.7,371.2A80.7,43.1 9.9 0 1 635.6,399.1M472.9,373.3A82.3,44.8 5.8 0 1 636.6,389.8M474.3,370.0A80.0,44.1 7.6 0 1 632.9,391.1M472.2,371.8A84.5,45.9 7.4 0 1 639.8,393.7M486.0,369.5A74.8,48.9 8.9 0 1 633.9,392.7M473.5,373.7A81.9,49.2 5.2 0 1 636.5,388.5M480.6,378.8A80.2,45.4 4.6 0 1 640.6,391.8M477.8,378.4A75.9,47.5 5.5 0 1 628.8,393.1M483.9,372.5A76.5,43.7 8.3 0 1 635.3,394.7" fill="none" stroke="#e5874f" stroke-width="0.9" opacity="0.95"/>
<path d="M485.4,390.9A45.0,16.1 11.1 0 0 573.8,408.2M481.9,383.7A47.6,22.1 14.6 0 0 574.0,407.7M496.1,392.2A35.6,19.4 12.0 0 0 565.8,407.0M490.4,381.1A47.7,15.4 15.1 0 0 582.6,406.0M480.2,387.6A48.2,14.8 11.4 0 0 574.6,406.5" fill="none" stroke="#e5874f" stroke-width="0.8" opacity="0.85"/>
<path d="M485.4,390.9A45.0,16.1 11.1 0 1 573.8,408.2M481.9,383.7A47.6,22.1 14.6 0 1 574.0,407.7M496.1,392.2A35.6,19.4 12.0 0 1 565.8,407.0M490.4,381.1A47.7,15.4 15.1 0 1 582.6,406.0M480.2,387.6A48.2,14.8 11.4 0 1 574.6,406.5" fill="none" stroke="#e5874f" stroke-width="0.8" opacity="0.85"/>
<path d="M472.2,467.4A75.2,29.5 5.1 0 0 622.0,480.8M477.4,465.1A69.7,28.7 4.8 0 0 616.3,476.7M479.6,460.2A70.5,26.5 9.0 0 0 618.9,482.3M480.5,458.8A70.3,24.5 9.2 0 0 619.3,481.4M475.7,461.9A76.9,28.8 9.7 0 0 627.3,487.8M475.0,460.1A77.2,26.9 8.5 0 0 627.7,483.0M478.5,465.3A71.4,26.5 5.9 0 0 620.5,479.9M470.1,464.1A76.6,30.5 8.1 0 0 621.7,485.8M481.3,466.5A68.6,28.3 6.7 0 0 617.6,482.4M473.6,462.6A73.3,25.2 6.8 0 0 619.2,479.8M481.6,465.9A68.6,26.9 5.4 0 0 618.1,478.8M476.2,461.3A71.4,23.9 7.9 0 0 617.6,481.0M477.2,466.7A75.6,30.1 4.3 0 0 628.0,478.0M469.4,468.2A77.1,28.0 5.0 0 0 622.9,481.5M471.0,468.1A77.6,29.2 5.2 0 0 625.6,482.3M477.3,459.3A75.6,24.4 9.8 0 0 626.3,485.2M480.9,465.3A69.5,27.8 7.5 0 0 618.8,483.4M474.4,464.5A75.7,25.9 5.8 0 0 625.1,479.8M478.2,468.8A68.3,25.0 4.4 0 0 614.5,479.4M477.1,464.8A73.5,23.7 6.6 0 0 623.2,481.8M480.9,465.0A67.0,30.6 4.7 0 0 614.6,476.1M473.8,462.8A74.2,24.0 6.8 0 0 621.1,480.4M481.4,466.9A67.1,25.8 7.0 0 0 614.5,483.2M480.4,465.8A72.7,28.2 5.8 0 0 625.1,480.4" fill="none" stroke="#e5874f" stroke-width="0.9" opacity="0.95"/>
<path d="M472.2,467.4A75.2,29.5 5.1 0 1 622.0,480.8M477.4,465.1A69.7,28.7 4.8 0 1 616.3,476.7M479.6,460.2A70.5,26.5 9.0 0 1 618.9,482.3M480.5,458.8A70.3,24.5 9.2 0 1 619.3,481.4M475.7,461.9A76.9,28.8 9.7 0 1 627.3,487.8M475.0,460.1A77.2,26.9 8.5 0 1 627.7,483.0M478.5,465.3A71.4,26.5 5.9 0 1 620.5,479.9M470.1,464.1A76.6,30.5 8.1 0 1 621.7,485.8M481.3,466.5A68.6,28.3 6.7 0 1 617.6,482.4M473.6,462.6A73.3,25.2 6.8 0 1 619.2,479.8M481.6,465.9A68.6,26.9 5.4 0 1 618.1,478.8M476.2,461.3A71.4,23.9 7.9 0 1 617.6,481.0M477.2,466.7A75.6,30.1 4.3 0 1 628.0,478.0M469.4,468.2A77.1,28.0 5.0 0 1 622.9,481.5M471.0,468.1A77.6,29.2 5.2 0 1 625.6,482.3M477.3,459.3A75.6,24.4 9.8 0 1 626.3,485.2M480.9,465.3A69.5,27.8 7.5 0 1 618.8,483.4M474.4,464.5A75.7,25.9 5.8 0 1 625.1,479.8M478.2,468.8A68.3,25.0 4.4 0 1 614.5,479.4M477.1,464.8A73.5,23.7 6.6 0 1 623.2,481.8M480.9,465.0A67.0,30.6 4.7 0 1 614.6,476.1M473.8,462.8A74.2,24.0 6.8 0 1 621.1,480.4M481.4,466.9A67.1,25.8 7.0 0 1 614.5,483.2M480.4,465.8A72.7,28.2 5.8 0 1 625.1,480.4" fill="none" stroke="#e5874f" stroke-width="0.9" opacity="0.95" mask="url(#outg)"/>
<path d="M500.0,494.3C502.0,472.2 517.7,472.2 519.7,493.2M544.4,494.0C546.5,470.2 563.6,470.2 565.7,492.9M490.6,494.6C492.2,471.4 504.3,471.4 505.8,495.8M508.1,496.2C509.4,462.7 520.0,462.7 521.4,497.2M551.7,494.1C553.6,462.5 568.5,462.5 570.3,494.1M494.7,493.3C497.0,467.9 515.7,467.9 518.0,494.6M495.5,495.2C497.8,469.3 516.2,469.3 518.5,494.6M526.6,494.3C527.9,462.6 537.9,462.6 539.2,493.3M547.7,495.8C549.0,477.5 559.3,477.5 560.6,496.8M543.9,491.8C545.7,473.7 560.2,473.7 562.0,491.7M551.1,496.3C552.4,476.8 562.7,476.8 564.0,495.9M516.1,495.3C517.8,468.2 530.8,468.2 532.5,494.8M494.3,498.8C495.4,473.5 504.5,473.5 505.6,498.8M524.5,491.1C526.3,474.0 540.5,474.0 542.2,491.5M528.7,490.9C530.6,464.9 545.6,464.9 547.4,490.3M557.3,494.7C558.8,471.6 570.7,471.6 572.2,493.1M492.0,495.1C494.2,474.4 511.3,474.4 513.4,495.9M535.4,492.6C537.6,477.3 555.7,477.3 558.0,494.5M558.1,496.1C559.9,476.1 574.5,476.1 576.4,495.6M504.7,491.5C506.9,464.6 524.7,464.6 526.9,492.7M545.3,491.6C547.0,475.4 560.4,475.4 562.1,490.6M510.9,491.1C512.5,464.7 525.2,464.7 526.8,490.5M550.9,495.1C553.2,473.9 572.2,473.9 574.6,494.2M558.4,493.8C560.1,473.7 574.0,473.7 575.7,492.6M547.8,495.0C549.9,476.1 566.8,476.1 568.9,494.7M528.9,492.8C531.1,466.9 548.6,466.9 550.8,491.9" fill="none" stroke="#e5874f" stroke-width="0.8" opacity="0.9"/>
<path d="M611.3,464.2A21.2,16.1 -6.4 0 0 653.5,459.5M611.8,463.4A21.3,13.1 -3.9 0 0 654.2,460.5M616.7,462.9A16.9,12.7 -2.6 0 0 650.5,461.3M611.2,462.8A22.4,14.6 -7.1 0 0 655.7,457.3M617.0,463.8A17.3,14.7 -7.3 0 0 651.4,459.5M615.8,461.0A17.6,16.3 -5.6 0 0 650.9,457.6M615.1,462.2A20.9,15.8 -3.9 0 0 656.8,459.3M611.6,464.1A21.1,12.5 -7.4 0 0 653.3,458.6M618.1,463.1A17.6,13.8 -6.7 0 0 652.9,459.0M618.5,463.2A16.8,15.5 -7.5 0 0 651.9,458.8M611.3,461.0A21.9,12.1 -4.8 0 0 655.0,457.3M611.0,462.9A21.5,14.2 -5.3 0 0 653.8,458.9M613.3,462.6A20.8,12.1 -5.2 0 0 654.6,458.9M609.6,465.4A23.5,11.9 -7.1 0 0 656.3,459.5M618.7,461.9A16.2,15.0 -2.3 0 0 651.0,460.6M613.3,462.7A20.6,16.1 -6.4 0 0 654.1,458.1" fill="none" stroke="#e5874f" stroke-width="0.9" opacity="0.95" mask="url(#outg)"/>
<path d="M611.3,464.2A21.2,16.1 -6.4 0 1 653.5,459.5M611.8,463.4A21.3,13.1 -3.9 0 1 654.2,460.5M616.7,462.9A16.9,12.7 -2.6 0 1 650.5,461.3M611.2,462.8A22.4,14.6 -7.1 0 1 655.7,457.3M617.0,463.8A17.3,14.7 -7.3 0 1 651.4,459.5M615.8,461.0A17.6,16.3 -5.6 0 1 650.9,457.6M615.1,462.2A20.9,15.8 -3.9 0 1 656.8,459.3M611.6,464.1A21.1,12.5 -7.4 0 1 653.3,458.6M618.1,463.1A17.6,13.8 -6.7 0 1 652.9,459.0M618.5,463.2A16.8,15.5 -7.5 0 1 651.9,458.8M611.3,461.0A21.9,12.1 -4.8 0 1 655.0,457.3M611.0,462.9A21.5,14.2 -5.3 0 1 653.8,458.9M613.3,462.6A20.8,12.1 -5.2 0 1 654.6,458.9M609.6,465.4A23.5,11.9 -7.1 0 1 656.3,459.5M618.7,461.9A16.2,15.0 -2.3 0 1 651.0,460.6M613.3,462.7A20.6,16.1 -6.4 0 1 654.1,458.1" fill="none" stroke="#e5874f" stroke-width="0.9" opacity="0.95" mask="url(#outg)"/>
<rect x="613.4" y="335" width="71.2" height="24.2" rx="2" fill="#fff" fill-opacity="0.85" stroke="#d0d0d0" stroke-width="0.7"/>
<line x1="616.3" y1="341.3" x2="632.7" y2="341.3" stroke="#e5874f" stroke-width="1.2"/>
<line x1="616.3" y1="351.8" x2="632.7" y2="351.8" stroke="#9fd8ee" stroke-width="1.5"/>
<text x="638.9" y="344.3" font-size="8.6" fill="#222" text-anchor="start" font-family="Liberation Sans, sans-serif" >Symmetry</text>
<text x="638.9" y="354.9" font-size="8.6" fill="#222" text-anchor="start" font-family="Liberation Sans, sans-serif" >Asymmetry</text>
</svg>
</body></html>
